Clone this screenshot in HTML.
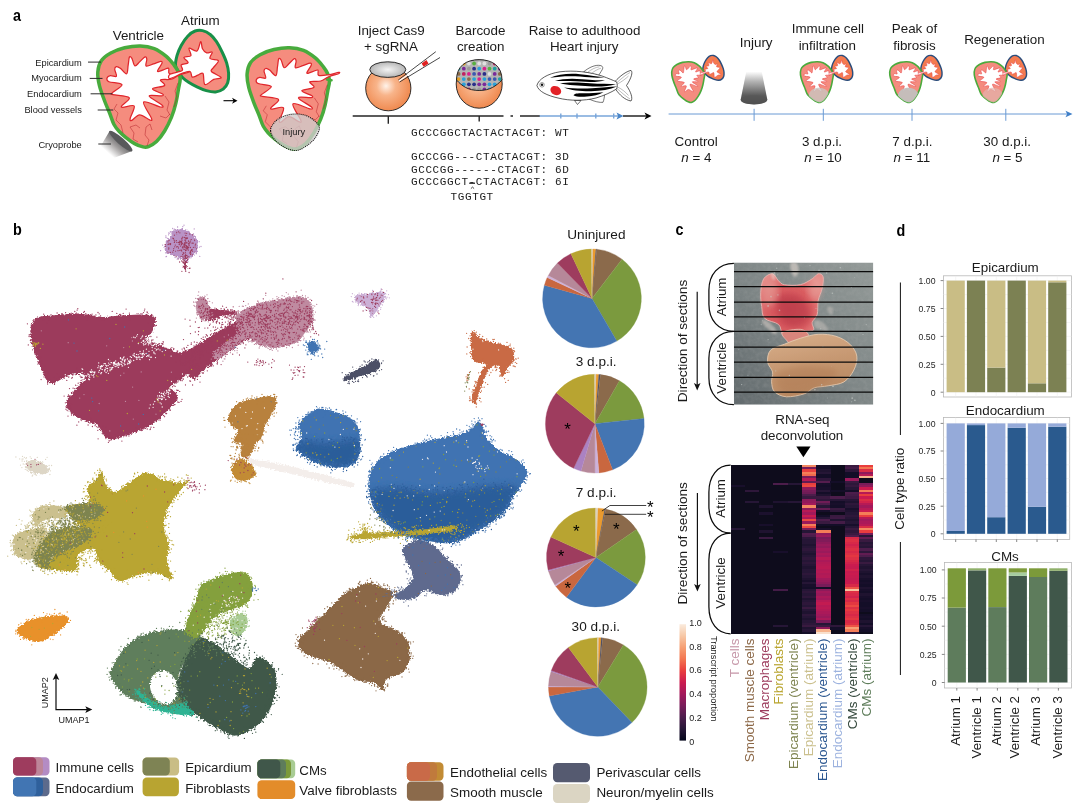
<!DOCTYPE html>
<html lang="en"><head><meta charset="utf-8"><title>Figure 1</title>
<style>
html,body{margin:0;padding:0;background:#fff;}
body{width:1080px;height:807px;overflow:hidden;font-family:"Liberation Sans",sans-serif;}
svg{display:block;will-change:transform;transform:translateZ(0);}
svg text{font-family:"Liberation Sans",sans-serif;fill:#1a1a1a;}
svg text.m{font-family:"Liberation Mono",monospace;}
svg text.b{font-weight:bold;}
</style></head><body>
<svg width="1080" height="807" viewBox="0 0 1080 807">
<rect width="1080" height="807" fill="#ffffff"/>
<!-- 10_a_left.svg -->
<defs>
<linearGradient id="cryo1" gradientUnits="userSpaceOnUse" x1="121.5" y1="140.3" x2="109.5" y2="154"><stop offset="0" stop-color="#626264"/><stop offset="0.45" stop-color="#a29f9f"/><stop offset="1" stop-color="#ffffff"/></linearGradient>
<linearGradient id="cryo2" x1="0" y1="0" x2="0" y2="1"><stop offset="0" stop-color="#ffffff"/><stop offset="0.3" stop-color="#b4b4b4"/><stop offset="0.72" stop-color="#5c5c5c"/><stop offset="1" stop-color="#484848"/></linearGradient>
<radialGradient id="egg" cx="0.45" cy="0.45" r="0.6"><stop offset="0" stop-color="#fff3ea"/><stop offset="0.35" stop-color="#f8b48a"/><stop offset="1" stop-color="#ee8448"/></radialGradient>
<radialGradient id="eggtop" cx="0.5" cy="0.5" r="0.6"><stop offset="0" stop-color="#f4f4f4"/><stop offset="1" stop-color="#a9a9a9"/></radialGradient>
</defs>
<text x="13" y="20.6" font-size="16.5" class="b" style="fill:#000" textLength="8.0" lengthAdjust="spacingAndGlyphs">a</text>
<text x="81.8" y="65.5" font-size="9.3" text-anchor="end">Epicardium</text>
<text x="81.8" y="81.3" font-size="9.3" text-anchor="end">Myocardium</text>
<text x="81.8" y="97.1" font-size="9.3" text-anchor="end">Endocardium</text>
<text x="81.8" y="113.2" font-size="9.3" text-anchor="end">Blood vessels</text>
<text x="81.8" y="147.6" font-size="9.3" text-anchor="end">Cryoprobe</text>
<text x="112.7" y="39.8" font-size="13.4">Ventricle</text>
<text x="181" y="25.3" font-size="13.4">Atrium</text>
<g id="heart1">
<path d="M175.6 65.9C175.1 63 176.1 59.1 177 55.7C177.9 52.3 179.4 48.8 181.2 45.5C183 42.2 185.4 38.6 187.7 36.2C190 33.8 192.6 31.9 195.1 31C197.6 30.1 200 30.1 202.5 30.6C205 31.2 207.7 32.4 210 34.3C212.3 36.1 214.5 38.8 216.5 41.7C218.5 44.7 220.4 48.4 222.1 52C223.8 55.6 225.6 59.5 226.7 63.1C227.8 66.7 228.4 70.1 228.6 73.4C228.8 76.7 228.6 80.1 227.7 82.7C226.8 85.3 225 87.7 223 89.2C221 90.8 218.4 91.8 215.6 92C212.8 92.2 209.4 91.5 206.3 90.6C203.2 89.7 199.9 88.2 197 86.8C194.1 85.4 190.9 83.7 188.6 82.2C186.3 80.7 184.5 79.5 183 78C181.5 76.5 181 75.4 179.8 73.4C178.6 71.4 176.1 68.9 175.6 65.9Z" fill="#f58c7e" stroke="#189048" stroke-width="3"/>
<path d="M101.3 60.7C103.5 57.5 106.9 55.1 110.8 52.9C114.7 50.7 119.8 48.9 124.7 47.7C129.6 46.6 135.4 45.9 140.3 46C145.2 46.1 149.9 46.9 154.2 48.6C158.5 50.3 163 53.6 166.3 56.4C169.6 59.1 172.1 62.5 174.1 65.1C176.1 67.7 177.4 69.7 178.4 72C179.4 74.3 180.2 76.1 180.2 79C180.2 81.9 179.1 85.4 178.4 89.4C177.7 93.4 177 98.6 175.8 103.2C174.7 107.8 173.4 112.5 171.5 117.1C169.6 121.7 167.1 126.9 164.6 131C162.1 135.1 159.2 139 156.5 141.6C153.8 144.2 150.8 145.7 148.5 146.6C146.2 147.5 145.3 147.4 143 146.9C140.7 146.4 137.5 145.2 134.6 143.6C131.7 142 128.3 139.4 125.7 137.3C123.1 135.2 121 133.3 119 131.2C117 129.1 115.6 127.5 114 124.5C112.4 121.5 111.1 116.8 109.6 113C108.1 109.2 106.5 106 104.8 101.5C103.1 97 100.7 90.8 99.5 85.9C98.3 81 97.5 76.2 97.8 72C98.1 67.8 99.1 63.9 101.3 60.7Z" fill="#f58c7e" stroke="#48ab3d" stroke-width="3.5"/>
<path d="M106.9 78.2C107.2 77.2 108.8 75.9 110.4 75.6C112 75.3 115.7 77.3 116.4 76.3C117.1 75.2 114.7 70.9 114.7 69.3C114.7 67.7 115.5 66.9 116.4 66.7C117.3 66.5 118.6 67.1 120.3 68.3C122 69.5 125.3 74.4 126.6 73.8C127.9 73.2 127.7 67.7 128.2 64.9C128.7 62.1 128.8 58.2 129.4 57.1C130 56 131 56.9 131.9 58.4C132.8 59.9 133.6 65.3 134.9 65.9C136.2 66.5 137.9 63.4 139.6 61.9C141.3 60.4 143.9 57.3 145.1 56.9C146.3 56.5 146.6 57.9 146.8 59.4C147 60.9 145 65.2 146.1 65.9C147.2 66.7 151.1 64.7 153.5 63.9C155.9 63.1 159.3 61.5 160.7 61.4C162.1 61.3 162.4 61.8 161.9 63.4C161.4 65 157.2 70.2 157.5 71.3C157.8 72.4 161.6 70.3 163.4 69.8C165.2 69.3 167.6 67.7 168.6 68.3C169.6 68.9 167.6 72.8 169.4 73.6C171.2 74.4 176 73.5 179.3 73C182.6 72.5 187.5 70.8 189.2 70.6C190.8 70.4 190.8 71.3 189.2 72C187.5 72.7 182.3 73.8 179.3 75C176.3 76.2 174.5 78.4 171.4 79.2C168.3 80 161.6 78.9 160.5 79.9C159.4 81 165.9 84 164.6 85.5C163.3 87 152.9 87.5 152.5 88.9C152.1 90.3 160.6 92.7 162.2 93.8C163.8 94.9 164.1 95.4 161.9 95.8C159.7 96.2 149.1 94.6 149.1 96.1C149.1 97.6 160 103.2 161.9 105C163.8 106.8 163.6 107.5 160.5 107C157.4 106.5 145.1 100.1 143.6 102C142.1 103.9 150.5 115.4 151.5 118.4C152.5 121.4 151.6 120.5 149.6 119.9C147.6 119.3 142.6 114.8 139.6 114.9C136.6 115 133.3 119.8 131.7 120.4C130.1 121 129.8 120.8 130.2 118.4C130.6 116 135.4 107.8 134.2 106C133 104.2 124.8 107.4 122.8 107.3C120.8 107.2 120.9 107.1 122 105.5C123.1 103.9 130.7 99.4 129.2 97.6C127.7 95.8 115.7 95.4 112.9 94.6C110.1 93.8 110.9 94.2 112.4 92.6C113.9 90.9 122.6 86.5 122 84.7C121.4 82.9 111.4 82.8 108.9 81.7C106.4 80.6 106.7 79.2 106.9 78.2Z" fill="#fff" stroke="#e0262c" stroke-width="1.25" stroke-linejoin="round"/>
<path d="M200.7 41.6C201.6 41.2 201.5 46.8 202.5 48.7C203.5 50.6 205.1 52.4 206.7 52.9C208.3 53.4 211.8 51.1 212.3 52C212.9 52.9 209 57 210 58.5C211 60 217.9 59.2 218.4 60.8C218.9 62.3 214.4 66 213.2 67.8C212 69.6 210.1 69.9 211.4 71.5C212.7 73.1 220.7 76.2 221.1 77.5C221.5 78.8 216.4 78.2 213.7 79.4C211 80.6 206.7 85.5 204.9 84.5C203.1 83.5 204.2 75 203 73.4C201.8 71.9 199.7 74.6 197.9 75.2C196.1 75.8 193.6 77.7 192.3 77.1C191 76.5 191.7 72.1 190 71.5C188.3 70.9 185.4 72.2 182.1 73.4C178.8 74.6 172 78.3 170 78.5C168 78.7 168 75.6 170 74.3C172 73 180.2 72.1 182.1 70.6C184 69 180.2 66.3 181.2 65C182.2 63.7 187.6 64 188.1 62.7C188.6 61.5 183.4 58.7 183.9 57.5C184.4 56.3 190 57.2 190.9 55.7C191.8 54.2 188.1 49 189.1 48.2C190.1 47.4 195.1 52.1 197 51C198.9 49.9 199.8 42 200.7 41.6Z" fill="#fff" stroke="#e0262c" stroke-width="1.25" stroke-linejoin="round"/>
<path d="M117 104l-3 5 4 4-2 7 5 5 2 8" fill="none" stroke="#b5232a" stroke-width="0.5"/>
<path d="M130 127l4 6-1 6 5 3" fill="none" stroke="#b5232a" stroke-width="0.5"/>
<path d="M130 127l6-2 4 3" fill="none" stroke="#b5232a" stroke-width="0.5"/>
<path d="M146 127l-1 8 4 5-2 6" fill="none" stroke="#b5232a" stroke-width="0.5"/>
<path d="M146 127l4-3 2 6" fill="none" stroke="#b5232a" stroke-width="0.5"/>
<path d="M165 96l4 6-2 8 3 5" fill="none" stroke="#b5232a" stroke-width="0.5"/>
<path d="M178 83l-3 8 2 7-3 9" fill="none" stroke="#b5232a" stroke-width="0.5"/>
<path d="M160 116l6 2 4-4" fill="none" stroke="#b5232a" stroke-width="0.5"/>
</g>
<path d="M109.5 131.2L132.1 151L111.8 158.8L99.8 147.6Z" fill="url(#cryo1)"/><ellipse cx="120.8" cy="141.1" rx="15.2" ry="3.4" transform="rotate(41.2 120.8 141.1)" fill="#58595b"/>
<line x1="88" y1="62.1" x2="101" y2="62.1" stroke="#222" stroke-width="0.95"/>
<line x1="89.7" y1="78.4" x2="102.5" y2="78.4" stroke="#222" stroke-width="0.95"/>
<line x1="90.6" y1="93.8" x2="112.5" y2="93.8" stroke="#222" stroke-width="0.95"/>
<line x1="97.7" y1="110" x2="113.3" y2="110" stroke="#222" stroke-width="0.95"/>
<line x1="98.3" y1="144" x2="111" y2="144" stroke="#222" stroke-width="0.95"/>
<path d="M223.5 100.7H235" stroke="#000" stroke-width="1.1"/><path d="M237.5 100.7l-5.5-3 1.6 3-1.6 3z" fill="#000"/>
<g id="heart2">
<path d="M250.6 62.5C252.8 59.3 256.2 56.9 260.1 54.7C264 52.5 269.1 50.6 274 49.5C278.9 48.4 284.7 47.6 289.6 47.8C294.5 47.9 299.2 48.7 303.5 50.4C307.8 52.1 312.3 55.4 315.6 58.2C318.9 60.9 321.4 64.3 323.4 66.9C325.4 69.5 326.7 71.5 327.7 73.8C328.7 76.1 329.5 77.9 329.5 80.8C329.5 83.7 328.4 87.2 327.7 91.2C327 95.2 326.2 100.4 325.1 105C324 109.6 322.7 114.3 320.8 118.9C318.9 123.5 316.4 128.7 313.9 132.8C311.4 136.9 308.5 140.8 305.8 143.4C303.1 146 300.1 147.5 297.8 148.4C295.6 149.3 294.6 149.2 292.3 148.7C290 148.2 286.8 147 283.9 145.4C281 143.8 277.6 141.2 275 139.1C272.4 137 270.2 135.1 268.3 133C266.4 130.9 264.9 129.3 263.3 126.3C261.7 123.3 260.4 118.6 258.9 114.8C257.4 111 255.8 107.8 254.1 103.3C252.4 98.8 250 92.6 248.8 87.7C247.6 82.8 246.8 78 247.1 73.8C247.4 69.6 248.4 65.7 250.6 62.5Z" fill="#f58c7e" stroke="#48ab3d" stroke-width="3.5"/>
<path d="M327 79.5L331.5 80.2" stroke="#48ab3d" stroke-width="2.6" stroke-linecap="round"/>
<path d="M256.2 80C256.5 79 258.1 77.7 259.7 77.4C261.3 77.1 265 79.1 265.7 78.1C266.4 77 264 72.7 264 71.1C264 69.5 264.8 68.7 265.7 68.5C266.6 68.3 267.9 68.9 269.6 70.1C271.3 71.3 274.6 76.2 275.9 75.6C277.2 75 277 69.5 277.5 66.7C278 63.9 278.1 60 278.7 58.9C279.3 57.8 280.3 58.7 281.2 60.2C282.1 61.7 282.9 67.1 284.2 67.7C285.5 68.3 287.2 65.2 288.9 63.7C290.6 62.2 293.2 59.1 294.4 58.7C295.6 58.3 295.9 59.7 296.1 61.2C296.3 62.7 294.3 67 295.4 67.7C296.5 68.5 300.4 66.5 302.8 65.7C305.2 65 308.6 63.3 310 63.2C311.4 63.1 311.7 63.6 311.2 65.2C310.7 66.9 306.6 72 306.8 73.1C307.1 74.2 310.9 72.1 312.7 71.6C314.6 71.1 316.9 69.5 317.9 70.1C318.9 70.7 316.9 74.6 318.7 75.4C320.5 76.2 325.3 75.3 328.6 74.8C331.9 74.3 336.9 72.6 338.5 72.4C340.1 72.2 340.1 73.1 338.5 73.8C336.9 74.5 331.6 75.6 328.6 76.8C325.6 78 323.8 80.2 320.7 81C317.6 81.8 310.9 80.7 309.8 81.7C308.7 82.8 315.2 85.8 313.9 87.3C312.6 88.8 302.2 89.3 301.8 90.7C301.4 92.1 309.9 94.4 311.5 95.6C313.1 96.8 313.4 97.2 311.2 97.6C309 98 298.4 96.4 298.4 97.9C298.4 99.4 309.3 105 311.2 106.8C313.1 108.6 312.9 109.3 309.8 108.8C306.8 108.3 294.4 101.9 292.9 103.8C291.4 105.7 299.8 117.2 300.8 120.2C301.8 123.2 300.9 122.3 298.9 121.7C296.9 121.1 291.9 116.6 288.9 116.7C285.9 116.8 282.6 121.6 281 122.2C279.4 122.8 279.1 122.6 279.5 120.2C279.9 117.8 284.7 109.7 283.5 107.8C282.3 105.9 274.1 109.2 272.1 109.1C270.1 109 270.2 108.9 271.3 107.3C272.4 105.7 280 101.2 278.5 99.4C277 97.6 265 97.2 262.2 96.4C259.4 95.6 260.2 96 261.7 94.4C263.2 92.8 271.9 88.3 271.3 86.5C270.7 84.7 260.7 84.6 258.2 83.5C255.7 82.4 256 81 256.2 80Z" fill="#fff" stroke="#e0262c" stroke-width="1.25" stroke-linejoin="round"/>
<path d="M117 104l-3 5 4 4-2 7 5 5 2 8" fill="none" stroke="#b5232a" stroke-width="0.5" transform="translate(149.3 1.8)"/>
<path d="M130 127l4 6-1 6 5 3" fill="none" stroke="#b5232a" stroke-width="0.5" transform="translate(149.3 1.8)"/>
<path d="M130 127l6-2 4 3" fill="none" stroke="#b5232a" stroke-width="0.5" transform="translate(149.3 1.8)"/>
<path d="M146 127l-1 8 4 5-2 6" fill="none" stroke="#b5232a" stroke-width="0.5" transform="translate(149.3 1.8)"/>
<path d="M146 127l4-3 2 6" fill="none" stroke="#b5232a" stroke-width="0.5" transform="translate(149.3 1.8)"/>
<path d="M165 96l4 6-2 8 3 5" fill="none" stroke="#b5232a" stroke-width="0.5" transform="translate(149.3 1.8)"/>
<path d="M178 83l-3 8 2 7-3 9" fill="none" stroke="#b5232a" stroke-width="0.5" transform="translate(149.3 1.8)"/>
<path d="M160 116l6 2 4-4" fill="none" stroke="#b5232a" stroke-width="0.5" transform="translate(149.3 1.8)"/>
<path d="M270.6 131C270.3 128.2 271.9 125.6 273.7 123.3C275.5 121 278.1 118.6 281.5 117.1C284.9 115.5 289.8 114.2 293.9 114C298 113.8 302.7 114.3 306.3 115.6C309.9 116.9 313.4 119.7 315.6 121.8C317.8 123.9 319.4 125.4 319.4 128C319.4 130.6 317.5 134.5 315.6 137.3C313.7 140.1 310.9 142.8 307.8 145C304.7 147.2 300.6 149.9 297 150.4C293.4 150.9 289.7 149.8 286.1 148.1C282.5 146.4 277.9 143.2 275.3 140.4C272.7 137.6 270.9 133.8 270.6 131Z" fill="#cfcaca" fill-opacity="0.8" stroke="#111" stroke-width="1.1" stroke-dasharray="1 1"/>
<text x="293.9" y="134.9" font-size="9.3" text-anchor="middle">Injury</text>
</g>

<!-- 20_a_mid.svg -->
<text x="391.2" y="35" font-size="13.4" text-anchor="middle">Inject Cas9</text>
<text x="391" y="50.6" font-size="13.4" text-anchor="middle">+ sgRNA</text>
<text x="480.5" y="35" font-size="13.4" text-anchor="middle">Barcode</text>
<text x="480.7" y="50.6" font-size="13.4" text-anchor="middle">creation</text>
<text x="584.5" y="34.5" font-size="13.4" text-anchor="middle">Raise to adulthood</text>
<text x="584.2" y="50.8" font-size="13.4" text-anchor="middle">Heart injury</text>
<path d="M352.7 116H503.5M388.3 116V123.8M479.2 116V121.5M510.5 116H513M520 116H540M623 116H646" stroke="#262626" stroke-width="1.4" fill="none"/>
<path d="M651.5 116l-7-3.6 1.8 3.6-1.8 3.6z" fill="#000"/>
<path d="M539.5 116H618M560.8 113.5v5M577 113.5v5M595.8 113.5v5M613.7 113.5v5" stroke="#7aa6da" stroke-width="1.4" fill="none"/>
<path d="M623.5 116l-7-3.4 1.6 3.4-1.6 3.4z" fill="#4a86c8"/>
<circle cx="388.3" cy="88.2" r="22.6" fill="url(#egg)" stroke="#1a1a1a" stroke-width="0.9"/>
<ellipse cx="387.8" cy="69.6" rx="18" ry="7.8" fill="url(#eggtop)" stroke="#1a1a1a" stroke-width="0.9"/>
<path d="M398.3 80L435.8 51.7M399.5 82L440 57.5" stroke="#1a1a1a" stroke-width="0.8" fill="none"/>
<path d="M399 81L437.8 54.4" stroke="#fff" stroke-width="1.4" fill="none"/>
<path d="M421.6 63.6l4.8-3.5 2.2 3.3-4.9 3.3z" fill="#e02020"/>
<clipPath id="dome"><path d="M456.5 80 C456.5 66 466 59.7 479.2 59.7 C492.5 59.7 502 66 502 80 C496 86 490 90.5 479.2 90.5 C468 90.5 462 86 456.5 80Z"/></clipPath>
<ellipse cx="479.2" cy="84" rx="23" ry="24.2" fill="url(#egg)" stroke="#1a1a1a" stroke-width="0.9"/>
<g clip-path="url(#dome)"><rect x="455" y="58" width="50" height="34" fill="#b4b4b4"/>
<circle cx="458.6" cy="63.5" r="1.9" fill="#3a58b0"/><circle cx="463.8" cy="63.5" r="1.9" fill="#e8a020"/><circle cx="468.9" cy="63.5" r="1.9" fill="#e0e0e0"/><circle cx="474.1" cy="63.5" r="1.9" fill="#58b040"/><circle cx="479.2" cy="63.5" r="1.9" fill="#e0e0e0"/><circle cx="484.4" cy="63.5" r="1.9" fill="#e0e0e0"/><circle cx="489.5" cy="63.5" r="1.9" fill="#9a9a9a"/><circle cx="494.7" cy="63.5" r="1.9" fill="#c02060"/><circle cx="499.8" cy="63.5" r="1.9" fill="#2a2f8a"/><circle cx="458.6" cy="68.7" r="1.9" fill="#20a0a0"/><circle cx="463.8" cy="68.7" r="1.9" fill="#7a2a9a"/><circle cx="468.9" cy="68.7" r="1.9" fill="#9a9a9a"/><circle cx="474.1" cy="68.7" r="1.9" fill="#2a2f8a"/><circle cx="479.2" cy="68.7" r="1.9" fill="#2aa0d8"/><circle cx="484.4" cy="68.7" r="1.9" fill="#d8208a"/><circle cx="489.5" cy="68.7" r="1.9" fill="#58b040"/><circle cx="494.7" cy="68.7" r="1.9" fill="#20a0a0"/><circle cx="499.8" cy="68.7" r="1.9" fill="#7a2a9a"/><circle cx="458.6" cy="73.9" r="1.9" fill="#8a6a48"/><circle cx="463.8" cy="73.9" r="1.9" fill="#c02060"/><circle cx="468.9" cy="73.9" r="1.9" fill="#d8208a"/><circle cx="474.1" cy="73.9" r="1.9" fill="#3a58b0"/><circle cx="479.2" cy="73.9" r="1.9" fill="#7a2a9a"/><circle cx="484.4" cy="73.9" r="1.9" fill="#2a2f8a"/><circle cx="489.5" cy="73.9" r="1.9" fill="#e0e0e0"/><circle cx="494.7" cy="73.9" r="1.9" fill="#7a2a9a"/><circle cx="499.8" cy="73.9" r="1.9" fill="#8a6a48"/><circle cx="458.6" cy="79.1" r="1.9" fill="#e8a020"/><circle cx="463.8" cy="79.1" r="1.9" fill="#2aa0d8"/><circle cx="468.9" cy="79.1" r="1.9" fill="#8a6a48"/><circle cx="474.1" cy="79.1" r="1.9" fill="#2aa0d8"/><circle cx="479.2" cy="79.1" r="1.9" fill="#d8208a"/><circle cx="484.4" cy="79.1" r="1.9" fill="#2aa0d8"/><circle cx="489.5" cy="79.1" r="1.9" fill="#3a58b0"/><circle cx="494.7" cy="79.1" r="1.9" fill="#3a58b0"/><circle cx="499.8" cy="79.1" r="1.9" fill="#20a0a0"/><circle cx="458.6" cy="84.3" r="1.9" fill="#2aa0d8"/><circle cx="463.8" cy="84.3" r="1.9" fill="#2aa0d8"/><circle cx="468.9" cy="84.3" r="1.9" fill="#2a2f8a"/><circle cx="474.1" cy="84.3" r="1.9" fill="#2a2f8a"/><circle cx="479.2" cy="84.3" r="1.9" fill="#7a2a9a"/><circle cx="484.4" cy="84.3" r="1.9" fill="#7a2a9a"/><circle cx="489.5" cy="84.3" r="1.9" fill="#2aa0d8"/><circle cx="494.7" cy="84.3" r="1.9" fill="#2aa0d8"/><circle cx="499.8" cy="84.3" r="1.9" fill="#e8a020"/><circle cx="458.6" cy="89.5" r="1.9" fill="#58b040"/><circle cx="463.8" cy="89.5" r="1.9" fill="#7a2a9a"/><circle cx="468.9" cy="89.5" r="1.9" fill="#c02060"/><circle cx="474.1" cy="89.5" r="1.9" fill="#9a9a9a"/><circle cx="479.2" cy="89.5" r="1.9" fill="#9a9a9a"/><circle cx="484.4" cy="89.5" r="1.9" fill="#7a2a9a"/><circle cx="489.5" cy="89.5" r="1.9" fill="#2aa0d8"/><circle cx="494.7" cy="89.5" r="1.9" fill="#e0e0e0"/><circle cx="499.8" cy="89.5" r="1.9" fill="#7a2a9a"/></g>
<path d="M456.5 80 C462 86 468 90.5 479.2 90.5 C490 90.5 496 86 502 80" fill="none" stroke="#1a1a1a" stroke-width="0.9"/>
<path d="M456.5 80 C456.5 66 466 59.7 479.2 59.7 C492.5 59.7 502 66 502 80" fill="none" stroke="#1a1a1a" stroke-width="0.9"/>
<text x="411" y="136" font-size="11" class="m" letter-spacing="0.6">GCCCGGCTACTACTACGT: WT</text>
<text x="411" y="160" font-size="11" class="m" letter-spacing="0.6">GCCCGG---CTACTACGT: 3D</text>
<text x="411" y="172.6" font-size="11" class="m" letter-spacing="0.6">GCCCGG------CTACGT: 6D</text>
<text x="411" y="185.2" font-size="11" class="m" letter-spacing="0.6">GCCCGGCT-CTACTACGT: 6I</text>
<text x="450.6" y="199.8" font-size="11" class="m" letter-spacing="0.6">TGGTGT</text>
<path d="M470.9 188.6l1.6-1.5 1.6 1.5" stroke="#111" stroke-width="0.8" fill="none"/><path d="M469.2 183.2H475" stroke="#111" stroke-width="1.2"/>
<g id="fish" stroke-linejoin="round">
<path d="M615 81.5 C620 76 626 71.5 631 70.4 C633 72 631.5 78 626.5 85.5 C631 92 633 98.5 631 101 C625 100 619.5 95 615.5 89Z" fill="#fff" stroke="#1a1a1a" stroke-width="0.7"/>
<path d="M617 82.5C622 78 627 74 630 72.5M617.5 84C622 81.5 626 78.5 628.5 76M617.5 87C622 89 626 92.5 628.5 95.5M617 88.5C621.5 92.5 626.5 97 630 99" stroke="#555" stroke-width="0.4" fill="none"/>
<path d="M583.5 72 C588 68 594 65.2 598.5 65.3 C603 65.5 603.5 67.5 602 70 C600.5 72.5 599.5 74 598.5 75.5Z" fill="#fff" stroke="#1a1a1a" stroke-width="0.6"/>
<path d="M587.5 72.5C591 69.5 596 67 599.5 66.8M591.5 73.5C594.5 71 598 69 601 68.2" stroke="#555" stroke-width="0.4" fill="none"/>
<path d="M589 99 C594 101.5 600 102.8 603 102.3 C604 100 604.5 96.5 604.5 94Z" fill="#fff" stroke="#1a1a1a" stroke-width="0.6"/>
<path d="M574.5 100.5 L577.5 104.5 L581 100.5Z" fill="#fff" stroke="#1a1a1a" stroke-width="0.6"/>
<path d="M536.9 85.5 C538.5 79 548 73.5 560 71.8 C574 70 590 72 602 76 C608 78.2 613 80.3 616.5 81.8 C617.5 84 617.5 87 616.5 89 C611 92.5 604 95.5 596 98 C584 101 570 101 558 98 C547 95.5 538.5 91.5 536.9 85.5Z" fill="#fff" stroke="#1a1a1a" stroke-width="0.7"/>
<path d="M550 77.8 C558 74 570 73.2 580 74.2 C590 75.2 598 76.5 604.5 77.3 C598 78.2 590 77.5 580 76.6 C570 75.8 559 76.3 550 77.8Z" fill="#000"/>
<path d="M555 81 C562 78.6 572 78.2 582 79.2 C592 80.2 600 80.2 605 80.2 C600 82 591 82.4 581 81.6 C572 80.9 562 81 555 81Z" fill="#000"/>
<path d="M560 83.5 C568 82 580 82.5 590 83.3 C600 84 609 83.8 616 84.2 C609 86.2 599 87 589 86.3 C579 85.7 568 85.3 560 83.5Z" fill="#000"/>
<path d="M564 87.5 C572 88.5 582 88.8 592 88.3 C602 87.8 610 87 617 86.6 C610 89.8 601 91.2 591 91.3 C581 91.4 571 90.5 564 87.5Z" fill="#000"/>
<path d="M573.5 95.2 C575 92.5 582 93.3 589 93.2 C595 93.1 600 92.5 603.5 92.3 C599 95 593 96.2 587 96.6 C581 97 576 97 573.5 95.2Z" fill="#000"/>
<ellipse cx="555.8" cy="90.6" rx="5.6" ry="4.4" transform="rotate(25 555.8 90.6)" fill="#e32227"/>
<circle cx="542" cy="84.8" r="2.3" fill="#fff" stroke="#444" stroke-width="0.5"/><circle cx="542" cy="84.8" r="1.2" fill="#111"/>
</g>

<!-- 30_a_right.svg -->
<text x="756.2" y="47.2" font-size="13.4" text-anchor="middle">Injury</text>
<text x="827.8" y="33" font-size="13.4" text-anchor="middle">Immune cell</text>
<text x="827.3" y="49.6" font-size="13.4" text-anchor="middle">infiltration</text>
<text x="914.5" y="33" font-size="13.4" text-anchor="middle">Peak of</text>
<text x="914.4" y="49.6" font-size="13.4" text-anchor="middle">fibrosis</text>
<text x="1004.4" y="44.3" font-size="13.4" text-anchor="middle">Regeneration</text>
<text x="696.2" y="146" font-size="13.4" text-anchor="middle">Control</text>
<text x="822" y="146" font-size="13.4" text-anchor="middle">3 d.p.i.</text>
<text x="912.4" y="146" font-size="13.4" text-anchor="middle">7 d.p.i.</text>
<text x="1007.2" y="146" font-size="13.4" text-anchor="middle">30 d.p.i.</text>
<text x="696.4" y="162.2" font-size="13.4" text-anchor="middle"><tspan font-style="italic">n</tspan> = 4</text>
<text x="823" y="162.2" font-size="13.4" text-anchor="middle"><tspan font-style="italic">n</tspan> = 10</text>
<text x="911.8" y="162.2" font-size="13.4" text-anchor="middle"><tspan font-style="italic">n</tspan> = 11</text>
<text x="1007.5" y="162.2" font-size="13.4" text-anchor="middle"><tspan font-style="italic">n</tspan> = 5</text>
<path d="M668.6 114H1067M754.1 108.8V120.8M823.3 108.8V120.8M912 108.8V120.8M1005.8 108.8V120.8" stroke="#6a9ad4" stroke-width="1" fill="none"/>
<path d="M1072.5 114l-7-3.3 1.6 3.3-1.6 3.3z" fill="#3f7fc8"/>
<path d="M746.3 71.5H761.7L767.3 99.5C767.3 106 740.7 106 740.7 99.5Z" fill="url(#cryo2)"/>
<ellipse cx="754" cy="99.8" rx="13.3" ry="4.4" fill="#555" fill-opacity="0.55"/>
<defs><g id="sh"><g transform="translate(671.7 61.7) scale(0.4 0.403) translate(-97.8 -46)"><path d="M175.6 65.9C175.1 63 176.1 59.1 177 55.7C177.9 52.3 179.4 48.8 181.2 45.5C183 42.2 185.4 38.6 187.7 36.2C190 33.8 192.6 31.9 195.1 31C197.6 30.1 200 30.1 202.5 30.6C205 31.2 207.7 32.4 210 34.3C212.3 36.1 214.5 38.8 216.5 41.7C218.5 44.7 220.4 48.4 222.1 52C223.8 55.6 225.6 59.5 226.7 63.1C227.8 66.7 228.4 70.1 228.6 73.4C228.8 76.7 228.6 80.1 227.7 82.7C226.8 85.3 225 87.7 223 89.2C221 90.8 218.4 91.8 215.6 92C212.8 92.2 209.4 91.5 206.3 90.6C203.2 89.7 199.9 88.2 197 86.8C194.1 85.4 190.9 83.7 188.6 82.2C186.3 80.7 184.5 79.5 183 78C181.5 76.5 181 75.4 179.8 73.4C178.6 71.4 176.1 68.9 175.6 65.9Z" fill="#f47b50" stroke="#2a4d7c" stroke-width="3.6"/><path d="M101.3 60.7C103.5 57.5 106.9 55.1 110.8 52.9C114.7 50.7 119.8 48.9 124.7 47.7C129.6 46.6 135.4 45.9 140.3 46C145.2 46.1 149.9 46.9 154.2 48.6C158.5 50.3 163 53.6 166.3 56.4C169.6 59.1 172.1 62.5 174.1 65.1C176.1 67.7 177.4 69.7 178.4 72C179.4 74.3 180.2 76.1 180.2 79C180.2 81.9 179.1 85.4 178.4 89.4C177.7 93.4 177 98.6 175.8 103.2C174.7 107.8 173.4 112.5 171.5 117.1C169.6 121.7 167.1 126.9 164.6 131C162.1 135.1 159.2 139 156.5 141.6C153.8 144.2 150.8 145.7 148.5 146.6C146.2 147.5 145.3 147.4 143 146.9C140.7 146.4 137.5 145.2 134.6 143.6C131.7 142 128.3 139.4 125.7 137.3C123.1 135.2 121 133.3 119 131.2C117 129.1 115.6 127.5 114 124.5C112.4 121.5 111.1 116.8 109.6 113C108.1 109.2 106.5 106 104.8 101.5C103.1 97 100.7 90.8 99.5 85.9C98.3 81 97.5 76.2 97.8 72C98.1 67.8 99.1 63.9 101.3 60.7Z" fill="#f48c7f" stroke="#4aaa3c" stroke-width="4"/><path d="M106.9 78.2C107.2 77.2 108.8 75.9 110.4 75.6C112 75.3 115.7 77.3 116.4 76.3C117.1 75.2 114.7 70.9 114.7 69.3C114.7 67.7 115.5 66.9 116.4 66.7C117.3 66.5 118.6 67.1 120.3 68.3C122 69.5 125.3 74.4 126.6 73.8C127.9 73.2 127.7 67.7 128.2 64.9C128.7 62.1 128.8 58.2 129.4 57.1C130 56 131 56.9 131.9 58.4C132.8 59.9 133.6 65.3 134.9 65.9C136.2 66.5 137.9 63.4 139.6 61.9C141.3 60.4 143.9 57.3 145.1 56.9C146.3 56.5 146.6 57.9 146.8 59.4C147 60.9 145 65.2 146.1 65.9C147.2 66.7 151.1 64.7 153.5 63.9C155.9 63.1 159.3 61.5 160.7 61.4C162.1 61.3 162.4 61.8 161.9 63.4C161.4 65 157.2 70.2 157.5 71.3C157.8 72.4 161.6 70.3 163.4 69.8C165.2 69.3 167.6 67.7 168.6 68.3C169.6 68.9 167.6 72.8 169.4 73.6C171.2 74.4 176 73.5 179.3 73C182.6 72.5 187.5 70.8 189.2 70.6C190.8 70.4 190.8 71.3 189.2 72C187.5 72.7 182.3 73.8 179.3 75C176.3 76.2 174.5 78.4 171.4 79.2C168.3 80 161.6 78.9 160.5 79.9C159.4 81 165.9 84 164.6 85.5C163.3 87 152.9 87.5 152.5 88.9C152.1 90.3 160.6 92.7 162.2 93.8C163.8 94.9 164.1 95.4 161.9 95.8C159.7 96.2 149.1 94.6 149.1 96.1C149.1 97.6 160 103.2 161.9 105C163.8 106.8 163.6 107.5 160.5 107C157.4 106.5 145.1 100.1 143.6 102C142.1 103.9 150.5 115.4 151.5 118.4C152.5 121.4 151.6 120.5 149.6 119.9C147.6 119.3 142.6 114.8 139.6 114.9C136.6 115 133.3 119.8 131.7 120.4C130.1 121 129.8 120.8 130.2 118.4C130.6 116 135.4 107.8 134.2 106C133 104.2 124.8 107.4 122.8 107.3C120.8 107.2 120.9 107.1 122 105.5C123.1 103.9 130.7 99.4 129.2 97.6C127.7 95.8 115.7 95.4 112.9 94.6C110.1 93.8 110.9 94.2 112.4 92.6C113.9 90.9 122.6 86.5 122 84.7C121.4 82.9 111.4 82.8 108.9 81.7C106.4 80.6 106.7 79.2 106.9 78.2Z" fill="#fff" stroke="#e83a40" stroke-width="1.3"/><path d="M200.7 41.6C201.6 41.2 201.5 46.8 202.5 48.7C203.5 50.6 205.1 52.4 206.7 52.9C208.3 53.4 211.8 51.1 212.3 52C212.9 52.9 209 57 210 58.5C211 60 217.9 59.2 218.4 60.8C218.9 62.3 214.4 66 213.2 67.8C212 69.6 210.1 69.9 211.4 71.5C212.7 73.1 220.7 76.2 221.1 77.5C221.5 78.8 216.4 78.2 213.7 79.4C211 80.6 206.7 85.5 204.9 84.5C203.1 83.5 204.2 75 203 73.4C201.8 71.9 199.7 74.6 197.9 75.2C196.1 75.8 193.6 77.7 192.3 77.1C191 76.5 191.7 72.1 190 71.5C188.3 70.9 185.4 72.2 182.1 73.4C178.8 74.6 172 78.3 170 78.5C168 78.7 168 75.6 170 74.3C172 73 180.2 72.1 182.1 70.6C184 69 180.2 66.3 181.2 65C182.2 63.7 187.6 64 188.1 62.7C188.6 61.5 183.4 58.7 183.9 57.5C184.4 56.3 190 57.2 190.9 55.7C191.8 54.2 188.1 49 189.1 48.2C190.1 47.4 195.1 52.1 197 51C198.9 49.9 199.8 42 200.7 41.6Z" fill="#fff" stroke="#e83a40" stroke-width="1.3"/></g></g><clipPath id="vclip"><path d="M101.3 60.7C103.5 57.5 106.9 55.1 110.8 52.9C114.7 50.7 119.8 48.9 124.7 47.7C129.6 46.6 135.4 45.9 140.3 46C145.2 46.1 149.9 46.9 154.2 48.6C158.5 50.3 163 53.6 166.3 56.4C169.6 59.1 172.1 62.5 174.1 65.1C176.1 67.7 177.4 69.7 178.4 72C179.4 74.3 180.2 76.1 180.2 79C180.2 81.9 179.1 85.4 178.4 89.4C177.7 93.4 177 98.6 175.8 103.2C174.7 107.8 173.4 112.5 171.5 117.1C169.6 121.7 167.1 126.9 164.6 131C162.1 135.1 159.2 139 156.5 141.6C153.8 144.2 150.8 145.7 148.5 146.6C146.2 147.5 145.3 147.4 143 146.9C140.7 146.4 137.5 145.2 134.6 143.6C131.7 142 128.3 139.4 125.7 137.3C123.1 135.2 121 133.3 119 131.2C117 129.1 115.6 127.5 114 124.5C112.4 121.5 111.1 116.8 109.6 113C108.1 109.2 106.5 106 104.8 101.5C103.1 97 100.7 90.8 99.5 85.9C98.3 81 97.5 76.2 97.8 72C98.1 67.8 99.1 63.9 101.3 60.7Z" transform="translate(671.7 61.7) scale(0.4 0.403) translate(-97.8 -46)"/></clipPath></defs>
<g transform="translate(0 0)"><use href="#sh"/></g>
<g transform="translate(128.7 0)"><use href="#sh"/><path d="M680 95C680.2 93.4 681.3 91.6 682.5 90.5C683.7 89.4 685.3 88.7 687 88.3C688.7 87.9 690.8 87.7 692.5 88C694.2 88.3 696.2 88.9 697.5 90C698.8 91.1 700.1 92.8 700.5 94.5C700.9 96.2 700.8 98.4 700 100C699.2 101.6 697.5 103.2 696 104C694.5 104.8 692.6 105 690.8 105C689 105 686.6 104.8 685 104C683.4 103.2 681.8 101.5 681 100C680.2 98.5 679.8 96.6 680 95Z" fill="#c9c6c0" fill-opacity="0.8" clip-path="url(#vclip)"/></g>
<g transform="translate(218 0)"><use href="#sh"/><path d="M680 95C680.2 93.4 681.3 91.6 682.5 90.5C683.7 89.4 685.3 88.7 687 88.3C688.7 87.9 690.8 87.7 692.5 88C694.2 88.3 696.2 88.9 697.5 90C698.8 91.1 700.1 92.8 700.5 94.5C700.9 96.2 700.8 98.4 700 100C699.2 101.6 697.5 103.2 696 104C694.5 104.8 692.6 105 690.8 105C689 105 686.6 104.8 685 104C683.4 103.2 681.8 101.5 681 100C680.2 98.5 679.8 96.6 680 95Z" fill="#c2c0be" fill-opacity="0.95" clip-path="url(#vclip)"/></g>
<g transform="translate(302.5 0)"><use href="#sh"/><path d="M680 95C680.2 93.4 681.3 91.6 682.5 90.5C683.7 89.4 685.3 88.7 687 88.3C688.7 87.9 690.8 87.7 692.5 88C694.2 88.3 696.2 88.9 697.5 90C698.8 91.1 700.1 92.8 700.5 94.5C700.9 96.2 700.8 98.4 700 100C699.2 101.6 697.5 103.2 696 104C694.5 104.8 692.6 105 690.8 105C689 105 686.6 104.8 685 104C683.4 103.2 681.8 101.5 681 100C680.2 98.5 679.8 96.6 680 95Z" fill="#e2b4ac" fill-opacity="0.7" clip-path="url(#vclip)"/></g>

<!-- 40_b_umap.svg -->
<text x="13" y="235" font-size="16.5" class="b" style="fill:#000" textLength="8.8" lengthAdjust="spacingAndGlyphs">b</text>
<defs><filter id="rough" x="-5%" y="-5%" width="110%" height="110%"><feTurbulence type="fractalNoise" baseFrequency="0.55" numOctaves="2" seed="3" result="n"/><feDisplacementMap in="SourceGraphic" in2="n" scale="4.5" xChannelSelector="R" yChannelSelector="G"/></filter>
<filter id="bl3" x="-20%" y="-20%" width="140%" height="140%"><feGaussianBlur stdDeviation="3.5"/></filter>
<filter id="rough2" x="-5%" y="-5%" width="110%" height="110%"><feTurbulence type="fractalNoise" baseFrequency="0.8" numOctaves="2" seed="8" result="n"/><feDisplacementMap in="SourceGraphic" in2="n" scale="7" xChannelSelector="R" yChannelSelector="G"/></filter></defs>
<g id="umap" filter="url(#rough)">
<path d="M35 319C39.3 315.2 49.5 315.9 57 315C64.5 314.1 72.5 313.2 80 313.5C87.5 313.8 94.2 316.8 102 317C109.8 317.2 118.3 315.2 127 315C135.7 314.8 149.7 313.5 154 316C158.3 318.5 154.3 326 153 330C151.7 334 144.8 337.5 146 340C147.2 342.5 155 343 160 345C165 347 170.7 350 176 352C181.3 354 188.7 354.8 192 357C195.3 359.2 197.3 361.7 196 365C194.7 368.3 188.2 373.3 184 377C179.8 380.7 172 383.7 171 387C170 390.3 178.8 392.8 178 397C177.2 401.2 170.5 407.3 166 412C161.5 416.7 157.3 421.2 151 425C144.7 428.8 135.2 432.7 128 435C120.8 437.3 113.2 440.7 108 439C102.8 437.3 102 428.5 97 425C92 421.5 83.2 421.3 78 418C72.8 414.7 66.7 409.5 66 405C65.3 400.5 70.7 395.8 74 391C77.3 386.2 86.7 378.7 86 376C85.3 373.3 76 373.8 70 375C64 376.2 55.2 385 50 383C44.8 381 42.2 370.5 39 363C35.8 355.5 31.7 345.3 31 338C30.3 330.7 30.7 322.8 35 319Z" fill="#9c3b5c"/>
<path d="M180 356C180.7 350.7 190.3 349.7 196 346C201.7 342.3 208 337.7 214 334C220 330.3 226.3 326.7 232 324C237.7 321.3 242.7 319.3 248 318C253.3 316.7 260.7 315 264 316C267.3 317 269.3 321 268 324C266.7 327 260.7 330.7 256 334C251.3 337.3 245.7 340.3 240 344C234.3 347.7 227.7 352 222 356C216.3 360 211 364.3 206 368C201 371.7 196.3 380 192 378C187.7 376 179.3 361.3 180 356Z" fill="#9c3b5c"/>
<path d="M208 309C211 308.3 217.3 309.7 222 310C226.7 310.3 233.7 310.2 236 311C238.3 311.8 238.3 314.2 236 315C233.7 315.8 226.5 315.2 222 316C217.5 316.8 212 320.3 209 320C206 319.7 204.2 315.8 204 314C203.8 312.2 205 309.7 208 309Z" fill="#9c3b5c"/>
<path d="M240 312C243.8 309.2 251.3 306.2 258 304C264.7 301.8 272.8 300.2 280 299C287.2 297.8 295.8 295.7 301 296.5C306.2 297.3 309 300.1 311 304C313 307.9 314.2 315 313 320C311.8 325 306.7 330.3 304 334C301.3 337.7 301.5 339.7 297 342C292.5 344.3 283.2 347.5 277 348C270.8 348.5 265 346.7 260 345C255 343.3 251.5 337.5 247 338C242.5 338.5 237.7 344.5 233 348C228.3 351.5 222.3 358 219 359C215.7 360 211.7 356.8 213 354C214.3 351.2 222.8 345.8 227 342C231.2 338.2 236.7 334.5 238 331C239.3 327.5 234.7 324.2 235 321C235.3 317.8 236.2 314.8 240 312Z" fill="#bf8aa0"/>
<path d="M197 300C198 297.3 201.2 296.5 203 297C204.8 297.5 206.8 299.7 208 303C209.2 306.3 210.7 314.2 210 317C209.3 319.8 206.2 320.7 204 320C201.8 319.3 198.2 316.3 197 313C195.8 309.7 196 302.7 197 300Z" fill="#bf8aa0"/>
<path d="M173 231C175.7 229.8 182.2 228.2 186 229.5C189.8 230.8 194.1 235.8 196 239C197.9 242.2 198.2 246 197.5 249C196.8 252 193.9 255.3 192 257C190.1 258.7 188 258.8 186 259C184 259.2 182 258.5 180 258C178 257.5 176.3 257 174 256C171.7 255 167.5 254 166 252C164.5 250 164.3 246.5 165 244C165.7 241.5 168.7 239.2 170 237C171.3 234.8 170.3 232.2 173 231Z" fill="#b993c6"/>
<path d="M183 256C183.6 255.2 186.4 255 187 257C187.6 259 186.9 265.8 186.5 268C186.1 270.2 185 271 184.5 270C184 269 183.8 264.3 183.5 262C183.2 259.7 182.4 256.8 183 256Z" fill="#9c3b5c"/>
<path d="M355 296C357 294.3 365.2 293.7 370 293C374.8 292.3 381.7 290.8 384 292C386.3 293.2 385 297.2 384 300C383 302.8 380.2 306.2 378 309C375.8 311.8 372.7 317 371 317C369.3 317 370.2 311.3 368 309C365.8 306.7 360.2 305.2 358 303C355.8 300.8 353 297.7 355 296Z" fill="#cbb0d6"/>
<path d="M308 344C308.7 342.3 312.3 341.5 314 342C315.7 342.5 317.7 345.3 318 347C318.3 348.7 317.3 351.2 316 352C314.7 352.8 311.3 353.3 310 352C308.7 350.7 307.3 345.7 308 344Z" fill="#3f73b2"/>
<path d="M344 378C345.2 376.3 350.3 373.2 354 371C357.7 368.8 362.2 366.8 366 365C369.8 363.2 374.7 359.7 377 360C379.3 360.3 381 364.8 380 367C379 369.2 374.7 371.3 371 373C367.3 374.7 362 375.7 358 377C354 378.3 349.3 380.8 347 381C344.7 381.2 342.8 379.7 344 378Z" fill="#4c4f66"/>
<path d="M472 332C473.5 330.5 476 336.2 480 338C484 339.8 490.8 341.3 496 343C501.2 344.7 508 345.3 511 348C514 350.7 514.7 355.5 514 359C513.3 362.5 509 366 507 369C505 372 503.5 377.7 502 377C500.5 376.3 500.2 366.3 498 365C495.8 363.7 491.3 366.5 489 369C486.7 371.5 485.7 376.2 484 380C482.3 383.8 480.5 388 479 392C477.5 396 476.2 403.2 475 404C473.8 404.8 471.7 400.3 472 397C472.3 393.7 475.5 388.2 477 384C478.5 379.8 479.5 375.3 481 372C482.5 368.7 487.2 365.8 486 364C484.8 362.2 476.5 363.8 474 361C471.5 358.2 471.3 351.8 471 347C470.7 342.2 470.5 333.5 472 332Z" fill="#c96b44"/>
<path d="M228 418C229 414.8 231.5 408.2 236 405C240.5 401.8 248.5 399.8 255 398.5C261.5 397.2 271.8 395.1 275 397C278.2 398.9 275.5 405.7 274 410C272.5 414.3 268 418.7 266 423C264 427.3 263.8 432.2 262 436C260.2 439.8 257.2 442.7 255 446C252.8 449.3 251.3 454.3 249 456C246.7 457.7 242.2 458 241 456C239.8 454 243.2 446.5 242 444C240.8 441.5 234.7 443.2 234 441C233.3 438.8 238.7 433.8 238 431C237.3 428.2 231.7 426.2 230 424C228.3 421.8 227 421.2 228 418Z" fill="#b8813c"/>
<path d="M232 468C232.8 464.8 237 459.7 240 459C243 458.3 247.3 461.5 250 464C252.7 466.5 256 471.5 256 474C256 476.5 252.3 477.8 250 479C247.7 480.2 244.5 481.2 242 481C239.5 480.8 236.7 480.2 235 478C233.3 475.8 231.2 471.2 232 468Z" fill="#c28b34"/>
<path d="M252 459C256.7 459 270.3 462 280 464C289.7 466 300 468.5 310 471C320 473.5 332.8 477 340 479C347.2 481 351 481.7 353 483C355 484.3 355.8 487 352 487C348.2 487 338.7 484.8 330 483C321.3 481.2 310 478.3 300 476C290 473.7 278 471 270 469C262 467 255 465.7 252 464C249 462.3 247.3 459 252 459Z" fill="#f4eeeb"/>
<path d="M299 424C300.2 420.2 305.5 416.6 309 414C312.5 411.4 314.7 408.5 320 408.5C325.3 408.5 335 411.6 341 414C347 416.4 352.8 418.7 356 423C359.2 427.3 359.7 434 360 440C360.3 446 360.3 454.5 358 459C355.7 463.5 351.5 465.8 346 467C340.5 468.2 331.2 467.3 325 466C318.8 464.7 313.8 461.8 309 459C304.2 456.2 297.2 452.7 296 449C294.8 445.3 301.5 441.2 302 437C302.5 432.8 297.8 427.8 299 424Z" fill="#3f73b2"/>
<clipPath id="cb1"><path d="M299 424C300.2 420.2 305.5 416.6 309 414C312.5 411.4 314.7 408.5 320 408.5C325.3 408.5 335 411.6 341 414C347 416.4 352.8 418.7 356 423C359.2 427.3 359.7 434 360 440C360.3 446 360.3 454.5 358 459C355.7 463.5 351.5 465.8 346 467C340.5 468.2 331.2 467.3 325 466C318.8 464.7 313.8 461.8 309 459C304.2 456.2 297.2 452.7 296 449C294.8 445.3 301.5 441.2 302 437C302.5 432.8 297.8 427.8 299 424Z"/></clipPath><g clip-path="url(#cb1)"><path d="M303 441C307.8 440 318 443 325 443C332 443 339.2 441.5 345 441C350.8 440.5 357.8 437 360 440C362.2 443 360.3 454.5 358 459C355.7 463.5 351.5 465.8 346 467C340.5 468.2 331.2 467.3 325 466C318.8 464.7 313.8 461.8 309 459C304.2 456.2 297 452 296 449C295 446 298.2 442 303 441Z" fill="#2c5d9a" filter="url(#bl3)"/></g>
<path d="M479 422C480.8 422.7 482.7 428.2 484 431C485.3 433.8 484.5 435.8 487 439C489.5 442.2 493.5 446.2 499 450C504.5 453.8 515.3 457.8 520 462C524.7 466.2 527.8 469.7 527 475C526.2 480.3 518.5 488.2 515 494C511.5 499.8 510.8 504.7 506 510C501.2 515.3 494.3 520.7 486 526C477.7 531.3 465.5 539.5 456 542C446.5 544.5 438.3 542.5 429 541C419.7 539.5 408.5 537.5 400 533C391.5 528.5 383.2 521.2 378 514C372.8 506.8 370 497.5 369 490C368 482.5 368.7 475.2 372 469C375.3 462.8 381.5 457.2 389 453C396.5 448.8 407.8 446.1 417 443.5C426.2 440.9 436 439.2 444 437.5C452 435.8 460.2 434.8 465 433C469.8 431.2 470.7 428.8 473 427C475.3 425.2 477.2 421.3 479 422Z" fill="#3f73b2"/>
<clipPath id="cb2"><path d="M479 422C480.8 422.7 482.7 428.2 484 431C485.3 433.8 484.5 435.8 487 439C489.5 442.2 493.5 446.2 499 450C504.5 453.8 515.3 457.8 520 462C524.7 466.2 527.8 469.7 527 475C526.2 480.3 518.5 488.2 515 494C511.5 499.8 510.8 504.7 506 510C501.2 515.3 494.3 520.7 486 526C477.7 531.3 465.5 539.5 456 542C446.5 544.5 438.3 542.5 429 541C419.7 539.5 408.5 537.5 400 533C391.5 528.5 383.2 521.2 378 514C372.8 506.8 370 497.5 369 490C368 482.5 368.7 475.2 372 469C375.3 462.8 381.5 457.2 389 453C396.5 448.8 407.8 446.1 417 443.5C426.2 440.9 436 439.2 444 437.5C452 435.8 460.2 434.8 465 433C469.8 431.2 470.7 428.8 473 427C475.3 425.2 477.2 421.3 479 422Z"/></clipPath><g clip-path="url(#cb2)"><path d="M370 492C373.7 487.7 390 488 400 488C410 488 420 491.7 430 492C440 492.3 450 491 460 490C470 489 480.3 486.3 490 486C499.7 485.7 515.3 484 518 488C520.7 492 511.3 503.7 506 510C500.7 516.3 494.3 520.7 486 526C477.7 531.3 465.5 539.5 456 542C446.5 544.5 438.3 542.5 429 541C419.7 539.5 408.5 537.5 400 533C391.5 528.5 383 520.8 378 514C373 507.2 366.3 496.3 370 492Z" fill="#2c5d9a" filter="url(#bl3)"/></g>
<path d="M352 536C353.8 535 361.3 534.7 363 533C364.7 531.3 361.3 526.2 362 526C362.7 525.8 362.3 531 367 532C371.7 533 381.2 532.3 390 532C398.8 531.7 409.7 531 420 530C430.3 529 446.3 526 452 526C457.7 526 459.3 528.5 454 530C448.7 531.5 430.7 533.8 420 535C409.3 536.2 399.2 536.3 390 537C380.8 537.7 371.3 538.7 365 539C358.7 539.3 354.2 539.5 352 539C349.8 538.5 350.2 537 352 536Z" fill="#b9a530"/>
<path d="M403 549C404.7 545 413 540.7 418 540C423 539.3 428.2 541.8 433 545C437.8 548.2 442.5 554.3 447 559C451.5 563.7 458.3 568 460 573C461.7 578 460 585.3 457 589C454 592.7 447.2 594.8 442 595C436.8 595.2 430.2 589.7 426 590C421.8 590.3 420.5 595.3 417 597C413.5 598.7 408.8 600.2 405 600C401.2 599.8 394.3 597.7 394 596C393.7 594.3 399.8 593 403 590C406.2 587 412.2 582.3 413 578C413.8 573.7 409.7 568.8 408 564C406.3 559.2 401.3 553 403 549Z" fill="#5f6b8e"/>
<path d="M355 588C359.5 585.8 364.3 583 369 583C373.7 583 379 586.3 383 588C387 589.7 392.5 589.7 393 593C393.5 596.3 388.2 604 386 608C383.8 612 380.7 614.3 380 617C379.3 619.7 379.3 621.8 382 624C384.7 626.2 391.7 627 396 630C400.3 633 405.7 637.3 408 642C410.3 646.7 410.8 653 410 658C409.2 663 407 668.3 403 672C399 675.7 389.3 677 386 680C382.7 683 385 689.5 383 690C381 690.5 378.2 684.7 374 683C369.8 681.3 363.3 682.2 358 680C352.7 677.8 346.8 673 342 670C337.2 667 335 664.7 329 662C323 659.3 311.2 657.3 306 654C300.8 650.7 297.3 646.3 298 642C298.7 637.7 305 633.3 310 628C315 622.7 322.7 615.3 328 610C333.3 604.7 337.5 599.7 342 596C346.5 592.3 350.5 590.2 355 588Z" fill="#8b6746"/>
<path d="M32 514C33 511 37 507.2 42 506C47 504.8 58 505.2 62 507C66 508.8 68.5 515 66 517C63.5 519 52 517.8 47 519C42 520.2 38.5 524.8 36 524C33.5 523.2 31 517 32 514Z" fill="#cbc08e"/>
<path d="M13 541C13.7 537.8 13.7 535.2 18 533C22.3 530.8 34 527.8 39 528C44 528.2 47.8 531.2 48 534C48.2 536.8 42.3 541 40 545C37.7 549 37.2 555.8 34 558C30.8 560.2 24.3 559 21 558C17.7 557 15.3 554.8 14 552C12.7 549.2 12.3 544.2 13 541Z" fill="#cbc08e"/>
<path d="M87 488C88 484.7 93.5 482.7 96 480C98.5 477.3 100.3 471.2 102 472C103.7 472.8 103.8 481.7 106 485C108.2 488.3 111 492.5 115 492C119 491.5 124.8 485.2 130 482C135.2 478.8 140.8 473 146 472.5C151.2 472 155 477.2 161 479C167 480.8 177.2 483 182 483C186.8 483 190.8 477 190 479C189.2 481 180.8 489.8 177 495C173.2 500.2 169.2 504.5 167 510C164.8 515.5 163.7 522.3 164 528C164.3 533.7 168.5 538.3 169 544C169.5 549.7 166.5 556.2 167 562C167.5 567.8 173.8 577.2 172 579C170.2 580.8 161.7 573.7 156 573C150.3 572.3 144 573.7 138 575C132 576.3 124.8 581.8 120 581C115.2 580.2 112.5 573.2 109 570C105.5 566.8 101.5 565.5 99 562C96.5 558.5 97.5 550.2 94 549C90.5 547.8 81 551.5 78 555C75 558.5 79.5 567.5 76 570C72.5 572.5 62.7 570.3 57 570C51.3 569.7 45.5 569.7 42 568C38.5 566.3 34.3 563.3 36 560C37.7 556.7 46.3 551.7 52 548C57.7 544.3 65.3 541.5 70 538C74.7 534.5 79.7 530.3 80 527C80.3 523.7 74.3 521.2 72 518C69.7 514.8 64.7 510.2 66 508C67.3 505.8 76 506.3 80 505C84 503.7 88.8 502.8 90 500C91.2 497.2 86 491.3 87 488Z" fill="#b9a530"/>
<path d="M64 507C64.7 504.5 73.3 504.8 78 504C82.7 503.2 87.7 501 92 502C96.3 503 104 507 104 510C104 513 97 518.5 92 520C87 521.5 78.7 521.2 74 519C69.3 516.8 63.3 509.5 64 507Z" fill="#7e8450"/>
<path d="M47 536C52.5 531.3 59.8 528.3 67 527C74.2 525.7 86.3 526 90 528C93.7 530 92.2 535.5 89 539C85.8 542.5 77 546 71 549C65 552 56.8 553.8 53 557C49.2 560.2 50.7 566.7 48 568C45.3 569.3 39.3 567.2 37 565C34.7 562.8 32.3 559.8 34 555C35.7 550.2 41.5 540.7 47 536Z" fill="#7e8450"/>
<path d="M26 462C27.2 460.7 31 459.7 34 460C37 460.3 41.5 462.3 44 464C46.5 465.7 49.2 468.3 49 470C48.8 471.7 45.7 473.5 43 474C40.3 474.5 35.7 474 33 473C30.3 472 28.2 469.8 27 468C25.8 466.2 24.8 463.3 26 462Z" fill="#ddd6c6"/>
<path d="M17 633C15.2 629.7 20.7 624.8 26 622C31.3 619.2 41.8 616.7 49 616C56.2 615.3 67.8 615.2 69 618C70.2 620.8 61.3 629 56 633C50.7 637 43.5 642 37 642C30.5 642 18.8 636.3 17 633Z" fill="#e8912c"/>
<path d="M111 673C111.7 667.8 115.7 659.8 120 654C124.3 648.2 130.3 641.8 137 638C143.7 634.2 152 632.3 160 631C168 629.7 178 628.8 185 630C192 631.2 201.2 634 202 638C202.8 642 193.7 648.5 190 654C186.3 659.5 182 665.5 180 671C178 676.5 177 681.7 178 687C179 692.3 187.3 699.3 186 703C184.7 706.7 176.5 708.8 170 709C163.5 709.2 154 706 147 704C140 702 133.2 700.2 128 697C122.8 693.8 118.8 689 116 685C113.2 681 110.3 678.2 111 673Z" fill="#5f7e5b"/>
<path d="M201 586C204.8 581.8 212.3 578.8 219 576.5C225.7 574.2 235.7 571.6 241 572C246.3 572.4 249.1 575.5 251 579C252.9 582.5 253.4 588.8 252.5 593C251.6 597.2 248.8 601.3 245.5 604C242.2 606.7 237.1 607.5 233 609C228.9 610.5 224.7 611 221 613C217.3 615 213.8 618 211 621C208.2 624 206.5 628.2 204 631C201.5 633.8 199 637.8 196 638C193 638.2 187.2 635.7 186 632C184.8 628.3 187.3 621 189 616C190.7 611 194 607 196 602C198 597 197.2 590.2 201 586Z" fill="#84a03c"/>
<path d="M231 619C233.2 616 242.3 612.8 245 614C247.7 615.2 248 622.3 247 626C246 629.7 241.5 635 239 636C236.5 637 233.3 634.8 232 632C230.7 629.2 228.8 622 231 619Z" fill="#a9cc94"/>
<path d="M201 638C205.7 636.8 212 642 217 645C222 648 227 652.8 231 656C235 659.2 237.8 662 241 664C244.2 666 247.7 668.8 250 668C252.3 667.2 252.7 660.5 255 659C257.3 657.5 260.7 657 264 659C267.3 661 273 665.8 275 671C277 676.2 277 683.3 276 690C275 696.7 272.5 704.8 269 711C265.5 717.2 260.5 722.9 255 727C249.5 731.1 242.3 735.3 236 735.5C229.7 735.7 222.8 730.9 217 728C211.2 725.1 206.5 722 201 718C195.5 714 188 709.2 184 704C180 698.8 177.3 693 177 687C176.7 681 180 673.8 182 668C184 662.2 185.8 657 189 652C192.2 647 196.3 639.2 201 638Z" fill="#3f5949"/>
<path d="M137 690C138.7 690.3 144.8 697.2 150 700C155.2 702.8 162.3 706.5 168 707C173.7 707.5 179.7 701.7 184 703C188.3 704.3 195.5 713.2 194 715C192.5 716.8 181.5 715 175 714C168.5 713 160.8 711.7 155 709C149.2 706.3 143 701.2 140 698C137 694.8 135.3 689.7 137 690Z" fill="#2fb393"/>
<path d="M152 677C153.7 674.3 157 671.7 160 671C163 670.3 167.3 671.2 170 673C172.7 674.8 174.8 678.5 176 682C177.2 685.5 177.8 690.5 177 694C176.2 697.5 173.5 701.3 171 703C168.5 704.7 164.8 705 162 704C159.2 703 156 699.8 154 697C152 694.2 150.3 690.3 150 687C149.7 683.7 150.3 679.7 152 677Z" fill="#fff"/>
</g>
<g id="dots" fill="none" stroke-linecap="round" stroke-width="1.3">
<path stroke="#9c3b5c" d="M76.6 414.6h0M144.4 310.8h0M94.1 315.8h0M154.8 342.8h0M67.1 410.3h0M177.7 350.9h0M78.8 386.4h0M64.2 378.3h0M32.3 332.2h0M174.1 404.6h0M118.4 432.3h0M188.8 371.2h0M161.9 343.4h0M30.8 339.7h0M191.7 370h0M83.1 374.1h0M153.6 326.4h0M173.7 349.4h0M68.7 399.6h0M37.9 364.1h0M142.8 337.4h0M143.8 340.1h0M179 402.4h0M118 433.2h0M180.7 380.6h0M165.8 413.5h0M74.6 412.7h0M182.2 380.7h0M114.9 438.7h0M73.1 388.2h0M189.8 359h0M71.7 378.2h0M156.4 325.4h0M32.7 346.1h0M72.4 374.6h0M46.9 316.7h0M186.5 373.6h0M61.6 314.2h0M82.2 377.4h0M64.1 370.7h0M155.6 317.8h0M146.6 335.3h0M81.5 386.2h0M165.3 411.1h0M85.8 313.7h0M145.9 339.2h0M100.6 315.9h0M146.7 341.7h0M68.4 373.8h0M43.8 374.2h0M66.9 400.3h0M83 372.9h0M63.5 318.8h0M147.3 340.6h0M153.7 325.8h0M169 408.2h0M69.5 399.1h0M54.5 384.4h0M148.2 337.7h0M56.2 319.6h0M173.2 397.3h0M43.6 370.4h0M183.4 354.6h0M77.4 315.1h0M129 434h0M150.5 429h0M67.8 396.5h0M102.3 433.5h0M173.5 392.7h0M162.9 344.6h0M180.5 376h0M54.9 382.7h0M98.7 425.9h0M161.5 346.7h0M153.9 346h0M82.3 386h0M151.7 423.1h0M68.3 402.1h0M121.7 317.3h0M149 340.7h0M168 354.2h0M57.3 315.8h0M47.3 323h0M150.7 325.5h0M41.2 317.2h0M143.5 312.6h0M141 316.1h0M41.7 364.2h0M71.6 404.2h0M31.5 329.2h0M162.8 343.6h0M171 384.9h0M179.7 391.4h0M161.8 343.7h0M77.6 318.4h0M176.1 397.5h0M147.1 342.3h0M31.6 334.3h0M145 428.6h0M39.1 318.2h0M158.6 343.9h0M44.1 374.8h0M172.6 386.7h0M173.9 385.6h0M70.8 373.3h0M170.3 385.7h0M198.6 366.2h0M141.7 429.5h0M186.2 358.4h0M178.1 381.7h0M183.6 352.1h0M146.7 332.5h0M171.3 400.8h0M40.5 363.5h0M84.4 311.4h0M98 312.5h0M157.8 344.7h0M157.2 417.1h0M70.6 408h0M180.7 379.2h0M56.2 378.9h0M151.5 340.1h0M71 313.5h0M144.8 309.1h0M91.1 420h0M28.3 344.9h0M121.9 441.1h0M175 404.6h0M52.5 381.4h0M176.6 400.2h0M196.9 364.9h0M174.7 383h0M172.4 390.5h0M38.5 350.6h0M76.7 388.4h0M163.3 415.6h0M36.2 318.3h0M75.8 374.3h0M147.3 341.6h0M70.1 396.4h0M170.2 410.4h0M175.7 382h0M171.1 388.6h0M177.5 380.9h0M183 379h0M41.6 361.3h0M199.2 370.4h0M76 313.3h0M48.9 319.5h0M116.9 319.8h0M57.4 373.8h0M78.2 383.2h0M119.5 314.4h0M178.6 380h0M84.1 382.6h0M188.5 355.5h0M97.8 430.3h0M194.9 365.5h0M182 399.3h0M65.9 406.8h0M155.3 325.8h0M40.3 361.7h0M32.6 349.8h0M31 342.4h0M58.8 377.1h0M44.5 319.7h0M183.5 379.1h0M81.6 376.7h0M151.8 327.9h0M61.1 377.5h0M170 409.9h0M75.6 385.2h0M113.5 439.1h0M191.3 360.5h0M148.2 341.8h0M108.4 437.2h0M77.1 368.5h0M142.2 430.4h0M179.8 353.5h0M126.3 435.8h0M190.8 359.2h0M166.6 413.5h0M159.7 418.5h0M34.1 326.6h0M92.1 314.1h0M41.1 379.6h0M112.9 317.6h0M89.9 423h0M172.1 400h0M97.9 427.6h0M66.8 380.4h0M152.3 318.9h0M172.4 390.3h0M149 346.5h0M99.2 313.8h0M71.5 408.7h0M112.2 311.4h0M42.2 361.1h0M80.8 418.9h0M112.8 318.6h0M166.9 348.5h0M77.1 310.1h0M41.8 317.5h0M105.9 431.4h0M41.1 357.4h0M156.3 419.5h0M105.9 426.6h0M158.8 419.9h0M29.1 336.5h0M74.8 388.7h0M176.9 399.6h0M54.2 377.5h0M72.1 393h0M142.8 425h0M68.8 376.8h0M182.6 352.9h0M70.8 411.6h0M126.2 436.1h0M30.4 340.5h0M39.7 358.3h0M81 380.6h0M153.4 343.6h0M91.1 417.9h0M173.8 348.5h0M45.3 370.9h0M186.1 354.3h0M29.3 334.6h0M108.4 442.3h0M30.7 331.2h0M156.1 345.5h0M156.4 418.8h0M71.5 392.7h0M62.2 314.3h0M120.9 316.4h0M181.1 401.4h0M129.4 313.1h0M80.8 416h0M27.4 323.8h0M69.7 403.4h0M71.6 318h0M191.9 354.2h0M120.7 314.3h0M154 325.3h0M47.6 384h0M149.2 340.8h0M151.9 316.8h0M69.2 400.9h0M166.6 407.5h0M44.1 376.9h0M87.8 317.9h0M65.4 402.8h0M177 355h0M150 343.6h0M81.3 386h0M163.1 341.7h0M77.8 308.7h0M189 360.5h0M152.1 340.5h0M73.1 374h0M123.2 313.4h0M176.7 398.5h0M179.7 354.5h0M47.2 371.6h0M173.1 355.7h0M150 429.6h0M50.1 380.4h0M156.9 337.1h0M31.2 326.1h0M42.6 319.7h0M71.1 372.9h0M194.8 366.9h0M118.5 433.9h0M70 406.1h0M172.5 388.4h0M164.6 416.7h0M176 377.8h0M119.5 435.2h0M177.4 390.4h0M158.6 347.3h0M161.2 346.6h0M109.4 437.9h0M166.7 349.8h0M177.8 402h0M32.2 325.5h0M47.8 373.6h0M149.6 334.1h0M67.2 376.1h0M38.2 319h0M47.8 379h0M43.7 314.2h0M42.9 319.7h0M151 427.2h0M192.2 373.1h0M97.3 419.6h0M143.7 427.5h0M152.2 423.6h0M85.9 377.8h0M96.7 426.6h0M98.1 438.8h0M141.5 427.9h0M44.6 366h0M60.8 377.3h0M153 339.8h0M81 377.6h0M183.4 373.7h0M99.3 317.1h0M80.7 376.3h0M115.5 434.9h0M33.7 320.1h0M84.6 378.1h0M117.3 319.5h0M155.9 346.9h0M116.8 313.4h0M33.6 323.7h0M77 397h0M35.5 346h0M63.7 377.7h0M31 334.5h0M80.1 376.2h0M148.9 334.2h0M188.1 352.3h0M101.9 320.2h0M72 317.8h0M155.3 420.8h0M146.5 427h0M68.5 396.3h0M151.3 341.8h0M191.6 352.3h0M185.6 353.8h0M152 317.4h0M111.7 437.4h0M31.3 325h0M95.9 315h0M81 384h0M195.4 357.4h0M89.3 379.8h0M151.2 342.8h0M31 334.1h0M151.8 314.7h0M144.2 342.5h0M34.6 347.8h0M159.6 343.7h0M80.6 415.9h0M169.1 405.5h0M103.2 429.8h0M71.5 415h0M74.2 414.9h0M148.6 425.9h0M190.6 377.4h0M29.2 334.9h0M103.3 425.9h0M165.6 409.9h0M88.5 422.4h0M126.1 309.1h0M92 317h0M162.6 411.3h0M191 372.1h0M198.2 363.6h0M195.5 359.7h0M184 347.9h0M78.7 421.9h0M150.3 319.4h0M64.1 396.1h0M183.5 353h0M147.1 311.9h0M76.5 394.4h0M141.6 429.9h0M150.8 331.7h0M129.9 319.5h0M136 428.1h0M74.8 311.5h0M92.4 426.5h0M60.9 377.6h0M65.6 312.7h0M170.7 401.6h0M151.8 347.1h0M153.8 427.4h0M95.1 425.7h0M176.1 382.8h0M148.7 339.5h0M68 416.1h0M85.4 376.6h0M63.8 377.3h0M37.2 351.5h0M169.8 409.1h0M178.2 390.4h0M192.8 368.8h0M82.2 379.9h0M185.8 357.4h0M55.6 380.7h0M80.7 315h0M72.3 377.5h0M152.8 342.3h0M47.7 372.4h0M160.2 420.1h0M156 343.7h0M189.8 369.8h0M87.4 320.3h0M121.1 436.8h0M175.1 386.4h0M197.5 368.5h0M192.4 366.9h0M99.5 429.4h0M118.2 432.5h0M68.5 395h0M47.2 374.2h0M65.4 315h0M63.3 317h0M34.6 353.8h0M151.5 332.2h0M75.8 415.4h0M176.4 382.9h0M147.6 323h0M147.2 429h0M176.7 390.1h0M191.4 359.7h0M167.2 407.8h0M189.8 364.7h0M76.9 425.2h0M57.1 313h0M42.1 368.6h0M33.6 325.8h0M83.7 312.4h0M109.3 440.9h0M191.8 366.1h0M141.7 430.6h0M103.9 319.8h0M126.3 431.5h0M144.7 345.6h0M163.7 415.4h0M152.1 329h0M77.6 391.1h0M69.5 388.6h0M30.6 331.1h0M151.9 327h0M147.7 340.9h0M186.2 375.1h0M126.1 434.9h0M170.4 383.9h0M60.6 377.7h0M190.8 363.4h0M196 363.6h0M108.7 435.9h0M32.3 338h0M155.5 317.5h0M131.5 432.3h0M66 409.2h0M85.3 421.2h0M104.1 433.4h0M91.3 422.3h0M34.7 338.5h0M105.9 438.6h0M81.2 420.6h0M185.6 357.1h0M42.2 370.3h0M58.1 316.2h0M192.8 365.7h0M68.7 377.2h0M60.5 377.1h0M175.2 399.3h0M61 317h0M163.4 342.1h0M100.6 430.3h0M142.5 427.6h0M94 316.6h0M150.9 336.5h0M78.6 416.4h0M128.9 435.9h0M171.9 347.6h0M181.1 376.6h0M172.8 352.2h0M170.7 348.3h0M149.7 318.8h0M193.3 362.5h0M86.5 421.4h0M147.3 312.7h0M141.1 315.4h0M88.1 425h0M203 339.3h0M222.9 352.4h0M242.5 322.4h0M230.3 345.6h0M249.8 334.6h0M251 337h0M233.1 345.6h0M266.8 326.6h0M196.3 346.2h0M200.5 349.2h0M185.2 354.4h0M190.7 375.6h0M264.8 327.2h0M206.6 335.1h0M200 382.1h0M261.4 327.5h0M195 348h0M180.7 365.1h0M240.3 322.6h0M186.6 361.9h0M210.1 364.9h0M230.7 322h0M200.2 376.3h0M258.5 327.3h0M184.1 354.5h0M181.1 363.2h0M270.3 312.6h0M235.7 347.5h0M211 364.6h0M263.6 330.3h0M197.1 372.5h0M262.6 329.7h0M232.8 347.9h0M189.4 375h0M255.1 333.2h0M235.6 323.4h0M245.9 344.8h0M230.3 326.2h0M195.6 351.3h0M184.3 365h0M266.7 317.5h0M255 325.1h0M240 339.3h0M252.8 331.7h0M261.1 326.9h0M264.9 320.1h0M189.4 362.8h0M270.2 320h0M189.8 380.9h0M210 366.3h0M239.6 319.1h0M190.5 381.2h0M238.6 341.3h0M226.3 327.8h0M234 348.2h0M187.7 376.8h0M210.8 330.8h0M265.7 324.7h0M211.7 333.8h0M217.1 361.3h0M202.5 373h0M179.7 352.7h0M249.8 314.4h0M217.1 333.8h0M241.9 322.7h0M269.8 324.1h0M248.4 322h0M210.5 334.7h0M201.2 343.2h0M207.3 370.8h0M256.8 336.7h0M213.7 334.3h0M180.6 358.6h0M207.7 341h0M207.6 367.4h0M241.5 316.4h0M255.8 336.5h0M204.4 369.6h0M265.2 314.5h0M176.3 362h0M181.7 356.1h0M212.2 364.5h0M262.9 324.3h0M250 335.5h0M225.6 326.3h0M217.3 360.6h0M249.6 314.1h0M186.6 370.3h0M255.2 315.9h0M196.2 344.8h0M269.6 326.8h0M211.3 365.5h0M255.4 313.1h0M227.1 354.4h0M227.3 328.9h0M258.5 318.1h0M264.9 324.6h0M239.9 319.8h0M252.2 341h0M263.6 326.3h0M252.7 332.6h0M217.1 363.3h0M240.8 323.5h0M264.1 315.5h0M208.5 367.3h0M265.2 326.9h0M236.8 345.6h0M185.7 365.1h0M265.9 318.5h0M261.3 332.4h0M257.5 312.2h0M201.3 338.6h0M234.4 348.2h0M243.3 343.6h0M230.4 350.5h0M240.2 323h0M186.7 347.4h0M267.5 323.9h0M251.5 314.2h0M182.7 366.2h0M195.4 373.9h0M186.1 356.8h0M199.4 344.1h0M254.2 314.2h0M262.2 321.3h0M268.2 317.7h0M191.2 344.4h0M230.6 321.6h0M231 343.5h0M243.6 318h0M203.5 373h0M239 321.4h0M235.4 318h0M207.4 336h0M263.3 319.1h0M245.3 336.6h0M217.5 362.3h0M247.7 336.4h0M259.4 314.1h0M263.9 318.5h0M187.6 377.1h0M217.3 364h0M182.4 357.1h0M224.3 330.8h0M250.3 335.4h0M256.5 329.2h0M225.7 353.5h0M180.8 359.6h0M192.9 348.7h0M242 323.3h0M179.6 361.1h0M220.9 352.6h0M266.4 315.9h0M248.5 339.4h0M192.6 385h0M252.5 335.8h0M210.4 341.4h0M213.3 361.5h0M267.1 327h0M242 317.8h0M211.6 366.1h0M260.2 315.9h0M197.4 379.4h0M262.2 332.9h0M227.6 328.1h0M267.6 318.7h0M251.3 332.7h0M259 324.5h0M203.2 337.2h0M262.4 319.9h0M194.5 375.3h0M190.7 371.4h0M248.9 315.5h0M265.5 325.5h0M209.7 360.9h0M177.3 352h0M183.7 352.6h0M188.2 349.8h0M228.2 330.2h0M248.8 318.6h0M194.7 379.3h0M259.7 313.8h0M211.6 337.6h0M221.9 327.7h0M194.3 342h0M257.8 331.2h0M211 338.6h0M250.8 313.4h0M225.1 326.7h0M220.2 353.8h0M189.4 367.5h0M211.7 363.4h0M201.5 347.3h0M267.3 325h0M258.4 320.2h0M185.4 360.7h0M194.7 380.2h0M243.7 320.3h0M242.2 323h0M206.9 309h0M208.7 316.8h0M220.6 311.2h0M219.4 312.9h0M222.6 306.2h0M227.2 313.1h0M207.6 311.6h0M207.4 308.3h0M209.8 310.7h0M235.1 313.4h0M233.7 317.3h0M227.1 311.6h0M216.4 321.5h0M209.9 307.6h0M232.3 314.6h0M205.5 309.9h0M205.7 319.9h0M209 315.1h0M216.4 308.6h0M208.6 312.2h0M224.2 313.6h0M217.5 309.6h0M211.7 317.2h0M231.5 313.6h0M227.8 309.4h0M220.5 311h0M235.9 313.2h0M233.2 306.8h0M209.5 325.3h0M237.3 318.7h0M209.4 318.8h0M205.3 309h0M209.7 320.3h0M204.8 311.5h0M204.3 316.2h0M232.2 317.8h0M235.9 313.3h0M224.1 308.9h0M207.7 309.7h0M217.7 314.6h0M233.4 316.3h0M206.5 314.8h0M233.2 311.8h0M234.9 311.5h0M236.7 312h0M221 314.7h0M214.9 308.1h0M209.2 307.3h0M231 313.5h0M203.6 316.5h0M213.5 311.2h0M228.9 318.6h0M208.1 313.1h0M231.1 312.6h0M234.9 313.6h0M234.3 313.7h0M221.1 308.7h0M238.2 311h0M213 310.6h0M202.9 307.9h0M201 316.7h0M222.7 316.1h0M217.7 317.9h0M222.7 314.1h0M216.9 310.2h0M210.2 319.8h0M232.6 342.3h0M298 336h0M289.9 309.8h0M268.2 330.5h0M278.4 305.8h0M235.3 344.8h0M281.4 343.8h0M257.6 307.7h0M286.6 326.7h0M236.4 338.3h0M301.2 299h0M276.4 313.6h0M270.9 332.1h0M278.4 319.3h0M264.7 320h0M264.6 318.6h0M261.7 326.6h0M263.2 305.2h0M294.7 337.8h0M294.1 341.5h0M280.5 326.4h0M277.7 322.2h0M272.9 331.7h0M234.7 334.4h0M299.7 307.2h0M273.1 346.2h0M275.3 328.4h0M285.4 317.9h0M272.7 300.8h0M263.4 322.7h0M273.6 307.6h0M300.8 329.7h0M303.2 330.2h0M277.9 329.1h0M261.2 344.5h0M271.9 342.8h0M255.5 312.4h0M304 301.7h0M265.3 329h0M278.5 339.5h0M255.6 333.1h0M298.5 323h0M252.7 309.2h0M270.8 344.9h0M278.9 343.2h0M274.4 339.3h0M265.1 341h0M277 323.9h0M264.8 308.7h0M274.5 338.6h0M291 318.6h0M253.5 309h0M286.7 300.8h0M268 341.9h0M258.5 321.7h0M239.1 321.9h0M268.9 327.9h0M294.3 332.4h0M290 343.8h0M299.2 326.6h0M220.6 354.7h0M244.4 310.2h0M231.3 343.1h0M262.9 309h0M300.3 309.4h0M250.1 316.2h0M304.6 314h0M288 304.5h0M260.8 330.3h0M252.4 339.4h0M258.7 304h0M280.4 320.2h0M245.5 334.8h0M255.4 322.7h0M249.5 321.5h0M270.6 310.8h0M232.6 346.5h0M266.4 316.2h0M243 331.6h0M252.8 339.7h0M296.9 302.5h0M239 319h0M247.4 322.2h0M277.9 307.4h0M248.5 338.6h0M290.5 324.4h0M251.1 314.4h0M299.8 336.5h0M255.2 334.8h0M297.9 301h0M247.4 316.1h0M284 334.3h0M240.1 324.3h0M287.8 329.1h0M254.4 308h0M238.2 343h0M222.6 355h0M301.5 315.8h0M286.8 324.2h0M226.1 348.9h0M266.9 333.4h0M276.1 336.2h0M265.3 336.5h0M303.9 326.6h0M293.5 324.1h0M254.2 306.2h0M297.8 318h0M266.5 339.5h0M307.7 326.3h0M272.7 346.3h0M256.7 312.1h0M295.8 310.3h0M255.2 311.5h0M293.9 322.3h0M276.7 335.1h0M283 327.2h0M266.5 308.1h0M291.6 327.6h0M290.6 301h0M238 320.3h0M225.2 344.5h0M232.9 342.5h0M260.3 339.1h0M306.6 306.4h0M287.5 330.8h0M238.3 336.4h0M236.6 323.6h0M225 345.8h0M282.1 339.5h0M283.1 346h0M261.8 316.3h0M293.6 323.9h0M285.4 312.2h0M261.5 323.8h0M267.3 327.1h0M267.4 316.7h0M304.4 331.2h0M266.1 324.6h0M267.2 324.9h0M275 319.3h0M232 339.2h0M274.3 316.7h0M219.7 348.7h0M251.9 327.1h0M259.8 336.4h0M254.6 319.6h0M295.4 313.1h0M264.9 302.8h0M266.2 308.3h0M268.8 331.4h0M289.6 332.5h0M283.3 323.2h0M253.2 317.6h0M266.4 334h0M303.2 330.9h0M297.5 322.3h0M295.6 316.7h0M269.3 309.9h0M249 324.8h0M226.5 352.1h0M298.6 297.9h0M304.9 328.5h0M302 312.1h0M294.1 302.2h0M269.9 310.1h0M230.3 348.1h0M272.5 315.3h0M290.1 318.2h0M300 310.7h0M276.4 336h0M267 305.8h0M288.3 332.5h0M290.4 304.6h0M261.1 308.9h0M278.2 308.8h0M256 339.3h0M249.5 308.4h0M257.2 305.6h0M305.4 311.1h0M228.6 342h0M266.8 309.2h0M267.9 335.4h0M282.5 338.3h0M271.3 338h0M233.1 340h0M277.9 310.9h0M263.9 340.9h0M261.5 333.8h0M265.9 317.3h0M281.4 318.7h0M275.6 310.7h0M270.3 323.2h0M304 317.1h0M299.3 315.8h0M290 337.5h0M244.7 331.3h0M231.4 349h0M285.7 344.3h0M309.1 315.5h0M273.6 334.8h0M226.4 349.4h0M284.2 319.9h0M262.1 305.1h0M235.6 322h0M235.3 338.5h0M288.8 300.6h0M299.7 327.1h0M285 321.1h0M265.1 324.7h0M300.8 311.9h0M309.3 308.4h0M252.8 315.5h0M259.1 322.9h0M259.4 336.9h0M285.3 303.6h0M252.3 316.7h0M284.3 309.1h0M277.9 341h0M284.8 304.2h0M283.6 336.1h0M265.4 320.5h0M250.9 320.3h0M304.2 331.8h0M289.9 299.7h0M257.6 335.7h0M273.8 327.3h0M271.9 326.2h0M257.2 334.1h0M275 331.3h0M298.4 338.2h0M279.1 340.2h0M289.9 316.7h0M297.3 300.6h0M240.4 329.4h0M282.6 334.8h0M285.4 334.3h0M239 332.4h0M262.6 342.1h0M262.3 307.7h0M275.5 303.9h0M254.4 317.4h0M243.8 328.2h0M289.7 303.6h0M277.6 326.6h0M302.2 330.1h0M265.1 331.8h0M270.7 317.2h0M297.1 317.7h0M270.1 320.8h0M283.5 316.2h0M300.7 319.7h0M224.2 345.6h0M304.3 324.2h0M244 317h0M280.7 304.8h0M258.9 341.1h0M281.7 333.6h0M288.8 336.4h0M240.7 316.4h0M280.1 313.5h0M275.3 328.6h0M267.3 330.8h0M241.3 311.8h0M215.9 353h0M255.6 307.7h0M274.6 316h0M284.3 338.4h0M259.6 304.7h0M277.4 344.4h0M299.1 335.1h0M252.2 340.2h0M260.5 318.5h0M297.6 314.1h0M273.4 304.5h0M253.6 341.1h0M245.6 337.1h0M266.3 321.6h0M282.4 323.4h0M269.7 317.9h0M286.9 341h0M257.5 315.8h0M250.9 327.4h0M222.1 347.6h0M288.7 337.8h0M266.1 320.9h0M232.6 339.1h0M271.3 334.7h0M219.2 352.8h0M256.2 333.4h0M284.2 321.9h0M267.5 337.9h0M297.3 319h0M280 304.9h0M277.8 305.5h0M258.4 323h0M251.5 310.6h0M273.5 332.6h0M284.2 313.3h0M261.3 319.5h0M286 329.4h0M302 302h0M276.1 338h0M281.4 330.2h0M270.4 317.2h0M285.7 331.7h0M275.9 332.6h0M278.6 314.7h0M293.8 312.8h0M299.2 317.9h0M288.3 322.3h0M236.8 324h0M234.1 342.4h0M295 299.8h0M252.9 315.3h0M260.5 305.6h0M214.2 354.5h0M251.2 316.2h0M274 337.3h0M246.5 313.2h0M238.5 333h0M290.3 343.3h0M265 338.9h0M254.1 329.3h0M277.8 346.7h0M238.3 325.7h0M240.6 323.2h0M310.9 309h0M227.4 344.5h0M274.4 303.1h0M284.5 303h0M262.8 337.3h0M239.6 340.3h0M270.5 328.7h0M260.8 321.7h0M261.2 332h0M246.3 315.4h0M259 344.4h0M251.4 308.4h0M276.3 342.5h0M277.3 327.7h0M246.9 317.6h0M253.6 309.7h0M266.7 342.8h0M292.4 325h0M296.5 300.5h0M274.6 300.4h0M270.6 305.1h0M289.4 333.6h0M288.8 307h0M268.3 323.9h0M226.3 345.9h0M290.3 339.8h0M258 311.5h0M291.3 318.2h0M268.8 308.5h0M259.4 335.7h0M292.7 339.3h0M262.8 306.5h0M236.5 324.3h0M302.8 310.9h0M250.6 310.3h0M256.6 310h0M258.8 308.6h0M310.6 309.1h0M259.6 322.6h0M228.7 346.2h0M270.8 331h0M221.6 350.1h0M299.2 310h0M296.7 313.9h0M286.6 311.9h0M256.4 310.4h0M263.4 323.1h0M295.1 324.8h0M282.3 321.9h0M277.8 302.2h0M279.9 306.6h0M250 325.5h0M299 300.9h0M266.1 315h0M282.8 334.8h0M291.8 301.6h0M286.6 299.9h0M301.8 303.4h0M249.6 337h0M269.1 344.8h0M311.1 311.4h0M277.9 342.6h0M288.3 344.1h0M248.3 313.2h0M247.5 326.9h0M260 329.7h0M258.2 319.5h0M254.7 339.2h0M260.4 322.8h0M300.2 311h0M254.2 317.9h0M261.6 338.1h0M258.8 332h0M290 299.5h0M274.9 306.5h0M292.4 306.6h0M247.4 319.8h0M266.4 304.1h0M253.5 327.7h0M267.6 328.2h0M260.4 314.6h0M293 342h0M280.8 303.8h0M271.3 310.4h0M297.9 338.8h0M310.6 321.2h0M244.8 334.3h0M303.8 319.1h0M284.6 323.2h0M201.6 305.7h0M203.7 306.4h0M198.6 299.5h0M203.4 305.3h0M201.3 299.7h0M202.9 313.9h0M199.9 306.4h0M207.9 307.9h0M203.4 299.4h0M203.8 312.6h0M198.9 306.2h0M206.6 317.5h0M201.4 310.7h0M206.4 303.4h0M206.8 315.4h0M201.6 312.3h0M198.9 307.5h0M200.3 308.4h0M207.8 308.5h0M205.8 300.5h0M206.9 312.2h0M205.6 308.3h0M204.1 315.6h0M202.6 318h0M202.9 316.6h0M203 297.8h0M202.6 304.2h0M203.3 299.5h0M184.7 249.3h0M165.2 244.4h0M174.8 241.1h0M170.5 244h0M175.3 245.1h0M173.5 238.7h0M174.1 240.1h0M174.2 255.4h0M181.8 242.4h0M189.8 234h0M173.5 250.3h0M181.1 242.5h0M179.9 232.8h0M170.5 244.5h0M183.3 249.1h0M184 258.2h0M178.5 231.8h0M187 255.7h0M169 240.5h0M186.4 242.9h0M196.5 248.9h0M175.6 251.1h0M185.9 239h0M189.2 245.6h0M172.8 252.2h0M170.3 252.5h0M186 257.7h0M168.9 244h0M188.9 256.7h0M176.7 232.3h0M181.7 243.9h0M180.5 246.1h0M167.9 242h0M185 242.3h0M168 244.6h0M187 248.6h0M195.2 245.1h0M174.4 242.4h0M187.2 238.4h0M182 238.2h0M182.9 256.6h0M181.6 241.7h0M186.5 246.3h0M176.6 246.8h0M168.7 249h0M190.6 254.4h0M174.7 246.8h0M189.6 242.8h0M176.1 256.6h0M186.9 242.3h0M170.6 243.6h0M184.6 243.9h0M187.4 257.9h0M191.5 250h0M186.1 248.7h0M192.4 254.8h0M167.8 252.2h0M187.8 257.9h0M172.9 238.2h0M185.5 250.5h0M192.6 251.2h0M181.7 250.9h0M165.6 246.5h0M173.7 248.6h0M168.8 247.9h0M179.6 242.4h0M174.4 235.2h0M179.2 244.5h0M188.2 243.3h0M188.5 241h0M192.1 249.4h0M190.9 253.1h0M185.2 237.8h0M186.7 233.3h0M170.1 244h0M195.6 244.1h0M176.6 234.2h0M191.2 239.5h0M185.1 233.1h0M190.5 252.2h0M193.4 247.3h0M188 256.8h0M190.4 247.5h0M168.4 248.1h0M185.5 271h0M184.3 257.9h0M189.1 272.5h0M183.6 261.9h0M183.1 267.2h0M181.9 271.3h0M187 255.9h0M181.7 261h0M179.6 262h0M185.3 252.3h0M185 257.5h0M186.2 262.2h0M190 268.2h0M178.3 258.8h0M182.7 254.5h0M185.9 271.1h0M185 265.3h0M181.1 256.4h0M185.2 267.2h0M189.3 268.3h0M183.7 262.9h0M186.1 262.1h0M183 259.5h0M183.4 262.9h0M184.2 262.7h0M184.6 268.5h0M184.6 256.3h0M187.2 262.6h0M364.2 301.8h0M357.2 298.2h0M379.4 298.2h0M361.9 300.5h0M378.8 305h0M373 311.1h0M371.8 294.1h0M381.6 301.4h0M377.7 293.6h0M367.5 294.5h0M371.2 299.4h0M366.6 307.4h0M377.7 303.4h0M372 294.7h0M372.3 293.7h0M381.2 295.1h0M365.3 304h0M360.4 295.4h0M356.8 299.8h0M369.9 308.3h0M377.5 295.7h0M372.5 299.3h0M370 308.4h0M367.2 296.9h0M373.6 297h0M372.4 300.3h0M372.9 302.5h0M375.1 303.7h0M382.6 300.3h0M361 296.6h0M363.4 296.9h0M360.7 296.4h0M375.8 300.5h0M363.8 298h0M360.6 301.5h0M364.2 302.7h0M372 313.4h0M377.9 300.2h0M373.3 299h0M380.7 297.2h0M402.5 531.8h0M402.2 534.1h0M341.8 613.6h0M360.2 627.3h0M364.5 646.5h0M359.7 602.4h0M346.9 640.3h0M396.6 643.9h0M355.6 601h0M356.8 594.7h0M375.9 594h0M374.4 671.3h0M107.6 512.4h0M101.6 485.2h0M164.6 492h0M122.7 557.3h0M122.7 552.8h0M173.8 484.8h0M70.2 543.1h0M102.1 485.7h0M132.5 512.7h0M103 561h0M112.4 493.6h0M106.8 536.1h0M95.1 536.9h0M134.7 533.7h0M147.3 486h0M167.7 501.9h0M144 569h0M90.5 497.1h0M90.6 506.6h0M219.5 587.1h0M196.4 611.2h0M239.8 583.7h0M237.6 596.9h0M189 630.7h0M243.9 592.7h0M222.4 595.9h0M197.6 622.9h0M229.1 600.3h0M240.7 575.1h0M197.7 600h0M239.8 332.5h0M184.7 349.8h0M239.7 343.5h0M234.9 342.7h0M270.5 316.6h0M243.9 314.3h0M233.5 330.7h0M220.2 349.2h0M252.1 326.7h0M221.8 330.2h0M235.5 336.2h0M246.5 324.8h0M233.4 320.4h0M227.7 332.8h0M231.7 330.5h0M232.7 354.2h0M225.2 327.5h0M220.1 350.4h0M217.7 328.2h0M224.2 341.6h0M211.1 342.9h0M224.7 317.2h0M219.6 323.6h0M198.6 331.5h0M205.5 350.4h0M265.8 293.2h0M232.2 344.8h0M224.6 328.8h0M223.2 329.7h0M223.9 352.7h0M231 340.5h0M237.6 328h0M221.9 336h0M274.7 306.5h0M240.7 327h0M219.2 340.4h0M229.5 323.7h0M242.8 332.6h0M233.7 346.9h0M222.3 344.6h0M248.1 311.9h0M226.9 349.1h0M247.7 329.6h0M196.7 344.9h0M216.5 323.1h0M210.8 348.8h0M243.6 301.4h0M230.3 338.4h0M249 313.3h0M222.7 337.9h0M223 343.3h0M222.3 322.4h0M262.2 339.6h0M217.9 351h0M211.8 341.6h0M213 345.8h0M225.4 322.1h0M233 324.1h0M235.4 324.3h0M217.6 353.4h0M228.4 326.1h0M233.9 335.9h0M221.6 357.3h0M249.6 332.7h0M228 331.9h0M207.2 343.2h0M215 330.2h0M238.5 328.1h0M266.5 312.2h0M219.1 342.6h0M227.7 324.2h0M228.2 321.1h0M268.5 318.3h0M218.3 359.3h0M249.8 322.2h0M248.3 315.1h0M216.5 332.7h0M246.1 333h0M215.1 333.5h0M220.5 346.2h0M250.4 324.2h0M216.7 348.6h0M240.8 328.8h0M191.7 357.4h0M250.4 310h0M233 331.5h0M239.5 355h0M240.5 322.3h0M254.2 316.5h0M237.5 342.8h0M211.9 338.9h0M223.5 331.9h0M214.6 330.3h0M219.8 349.9h0M220.8 327.6h0M257.6 304.4h0M205.9 361h0M240.5 335.7h0M183.5 339.6h0M222.7 337.8h0M224.3 330h0M201.1 363.4h0M252.3 322.9h0M207.3 345.3h0M241.3 319.6h0M224.7 336.6h0M222.9 324.5h0M237.7 322.4h0M225.2 338.4h0M199.7 343h0M208.1 347h0M205.4 336.9h0M218.5 340.7h0M233 336.5h0M228.6 331.9h0M229.2 330.7h0M224 332.6h0M266.6 312.1h0M221.4 326.1h0M230.7 333h0M230 337.6h0M230.1 319.6h0M201.9 346.7h0M233 338h0M241.7 321.3h0M264.9 323.7h0M215.8 339.7h0M243.6 319.1h0M207.6 345.1h0M196.8 352.2h0M257.8 301.1h0M242.3 325.5h0M249.9 320.5h0M220.4 347.9h0M193.6 350.9h0M219.1 343.9h0M246.3 322.5h0M241.6 333.8h0M230.4 315.3h0M233.4 328.4h0M198.4 334.7h0M203.4 355.5h0M210.2 348.3h0M226.6 346h0M238.1 343.2h0M220.8 310.5h0M239.2 343.5h0M182.1 349.1h0M200.1 350.9h0M204 339.6h0M238.4 330.6h0M248.2 316.3h0M236.2 338.8h0M243 327.4h0M226 337.2h0M207.5 352.9h0M216.1 329.4h0M248.7 324h0M217 317.4h0M240.4 328.7h0M211.9 348.6h0M208.6 340.1h0M185.5 384.9h0M233.9 347.1h0M184.9 363.1h0M215.2 335.7h0M227.6 332.3h0M242.2 324.8h0M229.2 323.2h0M217.6 357.4h0M232.1 342.4h0M194.8 359.4h0M237.3 327.1h0M210.8 356.8h0M202 353.2h0M239.5 334.4h0M214.2 352.8h0M222.9 334.9h0M238.6 330.5h0M271.1 311.8h0M238 323.2h0M220.6 352.8h0M239.9 324.2h0M246 319.4h0M223.4 333.1h0M183.5 355h0M232.1 318h0M199.9 353.3h0M233 342.5h0M240.3 332.1h0M223.3 337.4h0M225.6 316.4h0M228.8 340.1h0M221.9 334.9h0M209.9 341.3h0M222.1 351.1h0M213 338.2h0M253.2 316.8h0M220.7 333h0M247.8 318h0M211.8 336.9h0M229.6 350h0M245.2 333.1h0M214.5 332.7h0M192 355.9h0M237.9 334.1h0M211.1 347.8h0M223.9 336.3h0M229.5 334h0M244.9 347.9h0M243.3 324.6h0M192.7 362.4h0M232.8 328.6h0M214.3 355.2h0M195 354.3h0M226.7 329.2h0M199.2 351.8h0M221.8 324.3h0M236 321.7h0M211.7 350.6h0M207.8 328h0M229.4 325.6h0M244.9 330.5h0M225.1 343.5h0M220.9 335.8h0M191.6 351.9h0M213.6 348.1h0M201.9 354h0M232.2 312.1h0M230.6 323.9h0M224.8 336.9h0M263.5 333.2h0M218.7 333.6h0M189.6 355.5h0M229.3 335.9h0M231 324.7h0M242.5 327.4h0M228.1 337.1h0M227.3 328.8h0M196.3 352h0M215.7 349h0M215.8 338.6h0M226.9 339.3h0M219.3 322.7h0M213 349.5h0M245.4 322.3h0M224.3 330.7h0M191 359.1h0M232.6 333.2h0M192.4 348.7h0M239.2 331.7h0M263.3 298.8h0M218 334.5h0M223.8 347.9h0M197.4 348.6h0M228.4 336.5h0M239.5 327h0M226.1 341.4h0M233.6 331h0M282.9 278.9h0M209.8 317.1h0M249.3 318.9h0M231.4 314.3h0M216.2 322.3h0M233.2 324.8h0M209.9 314.2h0M201.5 319.8h0M201.6 321.4h0M214.4 319.5h0M226.9 318h0M229.3 322.3h0M200.3 317.9h0M222.2 319.4h0M213.3 327h0M216 313h0M212.5 320.4h0M216.2 312.5h0M207.8 313.2h0M214.5 319.7h0M214.6 316.8h0M223.3 333.4h0M206.2 319.2h0M203.5 313.1h0M227.9 317h0M208.1 315.8h0M200.4 313.1h0M190.2 326.2h0M211.1 316.6h0M219.9 313.3h0M214.7 318.4h0M208.6 320.4h0M195.4 322h0M198.2 327.6h0M210.5 311.9h0M199.3 327.3h0M210.9 319.3h0M217.6 316.2h0M231.3 317.8h0M208.8 314.7h0M216.7 315.1h0M215.5 319.4h0M217.3 317.6h0M213.1 322.1h0M201.7 317.3h0M210.2 324.1h0M217.7 311h0M221.5 311.9h0M200.5 317.7h0M189.9 320.2h0M215.5 327.1h0M218.9 318.3h0M231.7 312.4h0M219.6 318h0M185.1 319.1h0M226.3 312.4h0M204.9 328.1h0M197 312.9h0M226.3 307.3h0M209.7 318.8h0M219.3 317.2h0M229.7 322.8h0M211.5 318.8h0M231.2 319.6h0M217.5 319.9h0M213.8 320.1h0M226.1 317.2h0M222.3 313.7h0M213.4 321.6h0M207.7 312.8h0M205 311.1h0M242.2 316.9h0M210 320.1h0M209.7 317h0M215.5 316.9h0M217.1 321.5h0M215 318.3h0M218.7 317.3h0M199.1 312h0M204.8 315.5h0M205.9 320.6h0M197 342.5h0M213.3 352.1h0M193.4 347.9h0M208.8 360.3h0M219.6 351.1h0M201.3 342.7h0M206.7 362.9h0M198.8 350.5h0M215.5 348h0M207 341.2h0M205.5 348.6h0M192.9 365.3h0M203 351h0M181.9 356.9h0M186.1 351.1h0M199.7 358.2h0M206.6 352.3h0M184.3 348.5h0M209 349.4h0M191.7 349.5h0M201.1 355.2h0M190.6 363.6h0M192.9 355.8h0M194.2 364.9h0M211.7 363.6h0M193 359.7h0M185.7 364.1h0M194 353.2h0M211.9 345.7h0M192.1 360h0M205.2 346h0M198.5 354.2h0M213.7 350.6h0M193.8 349.9h0M180.7 356.4h0M201.9 367.6h0M200 359.3h0M190.5 333.6h0M195.3 332h0M186.7 363h0M209.3 353.3h0M213.3 365.8h0M194.7 349.3h0M195.5 351.6h0M201.2 354.9h0M191.3 342.9h0M201.4 351.3h0M200.4 352.3h0M204.4 347.4h0M183.3 362.9h0M187.6 357.6h0M206.2 334.6h0M199.7 343.8h0M221.1 364.6h0M200.3 354.7h0M194 346h0M210.8 365.5h0M191.7 353.7h0M218.6 352.3h0M187.9 345.4h0M257.9 359.1h0M260.4 360.5h0M259.8 363.6h0M260.4 361.8h0M268.9 364.1h0M256.3 362.6h0M272.7 359.4h0M265.6 362.5h0M271.8 362.8h0M274.2 361h0M261.7 362.2h0M271.6 367.5h0M262.9 360.6h0M263.8 363.8h0M254.9 364.8h0M247.8 362.1h0M263.1 362.1h0M256.7 364.9h0M256.5 360.7h0M263.4 362h0M254.7 364.8h0M260 361h0M262.4 365.4h0M259.1 365.6h0M257.7 361.9h0M293.1 372.6h0M298.5 370.6h0M298.5 367.6h0M295.1 367.2h0M289.5 365.1h0M303.8 377h0M303.2 377h0M300.1 366.9h0M299.6 371h0M299.8 370.6h0M291.1 370h0M293.9 370.1h0M304.5 366.6h0M292.8 378h0M293.7 373.2h0M295.1 375.4h0M297.2 369.7h0M303.2 370h0M297.8 367.2h0M294.8 372.6h0M299.4 371.7h0M292.2 379.4h0M298 375.1h0M304.7 372.7h0M303.3 372.6h0M192.8 490.1h0M189.8 487h0M199.3 492.9h0M194.2 485.7h0M188.1 480.6h0M199.4 483.6h0M205.4 485.2h0M187.7 484.8h0M192.5 490.9h0M191.7 487.2h0M194.7 489.9h0M194.5 482.3h0M190 482.7h0M195.4 486.2h0M194.4 481.6h0M189.8 485.7h0M185.4 483.7h0M197 486.8h0M200.4 486.1h0M187.9 478h0M196.4 488.9h0M193.4 486h0M191.3 482.2h0M204.9 489.7h0M194.7 484.7h0M193.1 482.7h0M195.6 486.8h0M188 488.5h0M199.3 489.6h0M190.8 485.6h0M315.5 620.7h0M309.1 621.3h0M314.8 631.4h0M313.6 620.8h0M319.6 629.4h0M312.2 621.7h0M314.3 628.6h0M308.7 620.1h0M319.3 622.3h0M314.4 625.9h0M314.2 621.7h0M307.3 627.7h0M313.7 628.6h0M315.8 627.8h0M313.9 629.9h0M314.9 619.3h0M312.8 624.8h0M315.2 620h0M316.1 617.2h0M314.9 619.9h0M316.5 623.9h0M314.9 628h0M313.6 634.4h0M310.6 624.2h0M310.6 627.6h0M316.8 626.4h0M316.4 619.2h0M311.2 624.8h0M316.7 624.3h0M314.1 621.1h0M235.6 463.8h0M246 457.5h0M244.7 464.2h0M228.2 460.6h0M239.6 465h0M240.3 472.8h0M245.9 466.2h0M247.9 470.5h0M248.3 464.8h0M236.8 459.2h0M248 458.2h0M240.9 462.4h0M243.9 472.3h0M251.8 475h0M253.3 472.7h0M250.7 464.6h0M244.8 465.1h0M244.2 467.9h0M178.4 242.5h0M184.3 243.8h0M190 242.7h0M183.8 244.8h0M182.4 247.8h0M191.6 250.6h0M185.3 243h0M188.6 244h0M178.5 248h0M185.6 241h0M177.8 246.6h0M179.7 241.2h0M189.8 253h0M181.8 238.8h0M193.2 243.2h0M194.4 239.8h0M192.7 234.9h0M195.1 247.1h0M182 240.2h0M195.1 251.8h0M185.7 254.1h0M186.9 247.3h0M181.4 244.8h0M188.3 250.3h0M192 243.2h0M183.3 252.6h0M192.8 243.1h0M176.6 246.9h0M189.2 244h0M179.8 250.3h0M178 250.7h0M184 246.5h0M182.5 247h0M194.6 240.6h0M186.2 250.2h0M186.6 245.6h0M187.5 246.7h0M188.6 247.6h0M188.8 245.9h0M187.9 247.8h0M182.6 243.6h0M187.9 249.2h0M184.9 244.6h0M186.2 247.1h0M182.7 237.1h0M181.9 238.4h0M188.9 241.6h0M181.3 244h0M188.1 247.5h0M176.8 242.3h0M184.8 240.1h0M185.5 245.2h0M184.8 242.9h0M186.3 238h0M181.1 250h0M180.8 241.5h0M176.4 240.6h0M184.8 246.6h0M179.7 243.8h0M190.6 250.8h0M185 244.9h0M183.7 247.1h0M185 247.4h0M184.3 237.4h0M184.1 245.5h0M190.3 251.5h0M185.9 235.4h0M190.6 241.1h0M183.8 253.5h0M187.4 237.9h0M304.4 313.6h0M311.5 316.5h0M311.5 312.9h0M312.4 325.5h0M307.1 306.3h0M309.7 319.9h0M309.4 310.8h0M306.6 320h0M309.4 322.1h0M311.1 312.7h0M306.3 312.7h0M310.3 315.4h0M309.5 317.7h0M310.8 320.2h0M318.6 334.9h0M310.4 326.8h0M313.1 327.1h0M306.8 315.9h0M305.6 311.2h0M312.4 323.5h0M311.6 322h0M307.8 315.6h0M310.5 318.3h0M310.7 336.8h0M308 321.7h0M307.5 308.7h0M307.9 315.9h0M307.3 327.2h0M306.1 306.8h0M310.2 315.7h0M308.9 315.6h0M308.2 321.5h0M316.4 333.5h0M308.5 323.4h0M312.5 328h0M315.7 331.5h0M312.6 325.5h0M310.7 308.7h0M305.5 311.1h0M308.6 320.4h0M312.2 320.9h0M312 329.7h0M308.2 321.3h0M310.8 322.2h0M313.6 329.6h0M309.6 330h0M307.1 313.3h0M304.4 318.8h0M314.2 333.5h0M309.3 314.4h0M288.9 313.8h0M282.7 313.1h0M310.7 324.7h0M295.7 335.2h0M274.6 314.3h0M306.6 326.3h0M287 310.2h0M304.5 324.6h0M280 318.8h0M294 316h0M292.4 311.9h0M312.2 318.4h0M301.8 318.8h0M288.3 324.5h0M303.2 329h0M267.3 307.4h0M282 325.1h0M288.9 323.4h0M309.4 324h0M293.2 315.1h0M306.8 328.9h0M293.2 332.6h0M306 308.9h0M296.6 316h0M274.9 322.6h0M292.7 318.3h0M297.8 319.5h0M284.2 313.7h0M284.8 328.3h0M277.6 327.5h0M283.3 304h0M286.5 307h0M288.5 308.3h0M313.3 328.2h0M286 317.8h0M283.2 300.1h0M294.4 315.3h0M283.8 316h0M283.4 314.5h0M265.2 324.9h0M276.1 317.1h0M284.2 333.6h0M297.9 316.4h0M295.4 321.3h0M292.1 328.8h0M289.7 320.3h0M291.5 317.1h0M272.6 321.7h0M309.3 316.4h0M307.8 306.6h0M268.8 315.7h0M280.3 315.6h0M266.6 320.8h0M289.5 326.9h0M292.1 325.8h0M311.6 300.5h0M288.8 319h0M283.8 310.3h0M296.4 317h0M299.3 310h0M303.6 331.2h0M297.7 329.1h0M284.1 317h0M294 313.1h0M297.7 311.5h0M297 316.8h0M281.2 315.9h0M278.2 321.1h0M287.8 312.6h0M296.4 333h0M306 310.9h0M279.8 326.2h0M298.2 309.2h0M288.3 316.1h0M275.6 324.8h0M270 328.1h0M255.4 311.6h0M296.7 321h0M284.6 312.8h0M304.6 317.9h0M287.7 307.6h0M295.3 318h0M307.2 315.6h0M311.3 316.3h0M285.9 321.7h0M289.6 322h0M303.9 308.5h0M272.2 320.4h0M271.4 320.1h0M283.4 329.8h0M309.6 312.6h0M289.6 337.6h0M305.2 324.9h0M287.7 307.6h0M307.5 312.1h0M299.3 304.9h0M286.1 307.9h0M289.8 321.1h0M290.3 328.4h0M291.8 321.6h0M291 309.8h0M300.1 313.7h0M283.3 315.7h0M279.8 323h0M276.1 318.4h0M279.7 314.9h0M285.7 316.9h0M295.2 312.1h0M247.1 320.6h0M299.9 321.3h0M296.1 291.8h0M305 319.5h0M280.3 316.1h0M277.3 321.8h0M295.5 321.9h0M275.8 310.5h0M277.8 318.5h0M288.1 319.4h0M294.1 319.8h0M281.6 313.4h0M375.9 302.9h0M370.1 310.9h0M372.6 303.8h0M374.9 294.6h0M371.9 309.8h0M376.2 303.2h0M381.7 289.5h0M378.9 313.7h0M383.5 292.4h0M372.8 308.8h0M375.1 298.9h0M375.4 293.8h0M373.3 291.3h0M366.6 310.3h0M372.7 311.1h0M379.3 306.1h0M380.2 302.8h0M376.7 297.5h0M375.7 304.5h0M376.5 300.2h0M382.5 295.6h0M371.6 302.5h0M374.6 306.4h0M368 307.9h0M373.8 298.8h0M375.6 307.3h0M363.1 310.9h0M378 312.1h0M376.1 297.9h0M377.6 295.2h0M36.6 464.8h0M27.6 465.3h0M41 463.6h0M30.9 464.3h0M26.8 464.1h0M31 466.9h0M35 459.3h0M38.3 464.4h0M482 424.2h0M483.3 424.3h0M481.6 425.8h0M482.3 425.5h0M481.3 425.6h0M481.8 425.4h0M481.7 425h0M480.6 424.1h0M482.4 424.2h0M481 425.7h0"/>
<path stroke="#b9a530" d="M170 388h0M167.7 380.3h0M127.3 413.5h0M129.5 346.8h0M160.2 410.9h0M106.8 380.4h0M89.5 410.4h0M158.2 402h0M123.5 430.8h0M76.1 328.8h0M143.4 330.8h0M138.6 342.6h0M96.5 375.7h0M164.5 355h0M116 324.4h0M97.9 376.6h0M158 400.1h0M109.9 370.6h0M156.7 398.9h0M191.6 369.4h0M217.3 340.9h0M227.2 340.2h0M316.9 454.6h0M320 463.6h0M302.8 420.9h0M328.7 454.2h0M316.3 419.9h0M354.3 427.7h0M339.1 447.5h0M340.6 422.6h0M312.9 453.2h0M319.3 460.9h0M309.3 458.9h0M355 454h0M307.9 443.8h0M316.7 455.2h0M453.8 442.1h0M478.8 456.2h0M458.9 535.8h0M466.7 442.4h0M439.1 468.6h0M481.6 490.2h0M444.1 506.4h0M444.3 514.1h0M446.7 502.6h0M400.1 498.1h0M435 442.3h0M471.6 506.1h0M472.8 501.1h0M430.4 505.4h0M433.3 463.1h0M440.1 502.6h0M464.7 444.3h0M394.7 498.2h0M464 482.8h0M403.5 452.1h0M485.2 485.7h0M382.9 492.6h0M458.9 509.3h0M372.4 469.1h0M420.1 479.2h0M465.6 493.9h0M493.3 488.6h0M464.2 528.9h0M408 498h0M508.8 484.8h0M416.1 446.5h0M456.3 466.3h0M481.8 433h0M394 505.2h0M487.3 510.2h0M398.1 521.7h0M480.7 489.7h0M375.4 496.5h0M457.7 512.5h0M417.1 492.9h0M377.3 503.4h0M450.8 536.8h0M390.3 491.3h0M394.9 522.3h0M429.9 519.1h0M474.6 500.3h0M457.4 527.8h0M389 496.3h0M401.1 492.2h0M436.2 494.2h0M418.1 509h0M446.8 501.4h0M427.6 496.5h0M486.3 515.7h0M420.9 537.8h0M425.1 534.7h0M444.2 531.6h0M356.1 541.6h0M416.6 538.5h0M396 536.1h0M370.4 542.4h0M414.5 526.5h0M389 534h0M365.3 529.7h0M354.4 531.9h0M379.8 537.9h0M352.2 536.1h0M404.9 528h0M374.3 540.1h0M385.1 538.2h0M431.6 525.4h0M446.7 531h0M364.4 531.1h0M346.9 539.9h0M366.2 532.1h0M351.9 536.8h0M366.4 533h0M358.6 521.8h0M372.3 530.3h0M363 524.2h0M353 542h0M404 527.6h0M354.1 533.8h0M456.3 531.4h0M387.8 534.7h0M450 522.9h0M365.1 528.3h0M361 538.5h0M383.8 530.3h0M371.3 532.9h0M447.2 532.1h0M348.3 534.6h0M411.4 532h0M366.9 529h0M416.2 533.1h0M362.6 529.1h0M362.1 528.5h0M348.3 536.1h0M374 535.1h0M451.9 530.7h0M383.1 537.9h0M444.4 533.2h0M352.9 535.1h0M395.5 529.9h0M385.2 532h0M378.9 530.9h0M408.5 534.1h0M353.5 537.1h0M385.4 532.8h0M379.3 539.5h0M360.7 530.2h0M437.9 527.1h0M426.4 538.8h0M384.3 532.8h0M451 527.1h0M348.2 537.7h0M421.4 525.4h0M358.7 535.8h0M362.9 526h0M386.8 534.4h0M365.5 527.6h0M360.6 530.1h0M350.5 540.6h0M360.1 527.4h0M401.9 533.9h0M371.2 537.8h0M394.1 537.6h0M405.6 528.8h0M452.1 530.4h0M385.9 532.5h0M451.4 529.4h0M413.2 537.6h0M364 533h0M389.2 532.6h0M415.2 527.9h0M360.9 535.1h0M448.1 529.6h0M400.4 543.4h0M375.4 537.1h0M416.3 536.2h0M363.5 531.7h0M413.3 534.2h0M354.2 528.6h0M365.6 538h0M375.7 535.1h0M399 537.4h0M363 535.6h0M408.1 530h0M354.2 539.8h0M387.3 530.6h0M350.2 536.5h0M418.8 533h0M359.1 540.7h0M454.7 525.8h0M418.5 531h0M381.4 534.4h0M369 526.3h0M357.2 534.4h0M409.3 529.7h0M408.7 533.8h0M352.2 542.7h0M417 535.1h0M364.8 528h0M351.1 541.6h0M398.7 530.6h0M422.8 528.7h0M351.4 534h0M362.2 529.6h0M430.2 530.4h0M365.7 540.1h0M363 541.6h0M454.6 526.7h0M365.6 532.2h0M364.3 538.7h0M457.2 525.1h0M398.1 536.4h0M367.7 528h0M387.6 536h0M365.8 531h0M348 538.6h0M413.4 527.4h0M356.7 533.6h0M359.1 542.4h0M369.6 532.9h0M359.9 524.3h0M362.9 531.8h0M443.7 531.9h0M453 525.4h0M379.9 532h0M444.1 532.3h0M416.3 525.3h0M387.9 530.3h0M358 530.2h0M430.1 528h0M351.6 537.6h0M367.6 523.5h0M392.2 533.8h0M433.3 527.7h0M355.8 533.9h0M356.2 537.1h0M414 534h0M402.3 536.6h0M351 540.5h0M370 529.2h0M414.4 531h0M417.1 534.5h0M375.3 537.2h0M395.3 536h0M369.4 535h0M350.4 538.6h0M361 534.9h0M377.5 539h0M393.9 538.2h0M409.7 534.6h0M354.5 536.3h0M372.5 541.3h0M412.1 526.9h0M348.8 530.2h0M449.5 530.2h0M436.3 525.1h0M364.1 528.3h0M389.2 534.8h0M389.9 531.2h0M378.1 537.3h0M454 528h0M375.4 538.2h0M450.7 529.3h0M359.9 535.7h0M391.2 533.8h0M371.5 527.2h0M363.2 538.6h0M401.1 530.2h0M367.1 532h0M364.8 524.2h0M447.9 525.8h0M364.3 525.2h0M363.7 533.1h0M451.1 531.3h0M364.6 532.3h0M357.5 536h0M407.5 540.7h0M363.5 533.2h0M411.7 533h0M416 532.5h0M364.4 529.2h0M402.8 539.3h0M367.4 530.9h0M456.4 529.8h0M386.6 536.7h0M361.8 533.8h0M360.4 542.4h0M347.7 539.3h0M362.6 534.4h0M358.2 602.7h0M376.7 599h0M373.8 621.1h0M342 606.5h0M332.9 625.3h0M373.2 677.4h0M339.4 638.7h0M397.7 657.4h0M387.1 660.6h0M407.7 648.1h0M355 645.3h0M368.3 584.4h0M329 659.4h0M378.3 636.3h0M378.4 587.4h0M354.4 627.7h0M343.6 625.4h0M81.3 555.9h0M75.4 562.6h0M172 482.2h0M79.2 503.2h0M83.6 526.1h0M186.3 483.1h0M95.2 558.4h0M44.9 569.9h0M93.9 480.9h0M111.5 579.7h0M99.5 475h0M89.2 550.1h0M92.8 479.5h0M90.8 503.5h0M96.8 556.8h0M164.6 515.8h0M96.6 559.5h0M73.1 505.1h0M77.9 563.6h0M44 567.6h0M179.4 486h0M175.3 498.2h0M40.8 559.2h0M40.7 570h0M183.3 492.5h0M113.4 573.5h0M54 566.7h0M98.8 474.5h0M168.1 560.2h0M97.6 470.3h0M173.2 578h0M136.5 485.5h0M163.1 525.6h0M170.8 480.6h0M46.8 553.5h0M85.2 485.6h0M148.1 574.9h0M103.5 560.7h0M107.8 487.7h0M70.3 506.4h0M97.5 548.7h0M43.3 562.6h0M173.2 479.6h0M170.5 516.7h0M187.8 482.3h0M116.7 493.2h0M170.6 561.1h0M84.5 498.3h0M164.7 477.2h0M42.4 550.9h0M91.8 502.3h0M178.3 482.2h0M63.5 544.3h0M172.2 506.5h0M166.1 539.6h0M42.8 567.8h0M104.1 478h0M87.1 489.2h0M78.3 565.6h0M167.1 503.5h0M107.4 487.6h0M78.6 518.1h0M166.2 525.1h0M82.6 505h0M163 548.4h0M134.5 473.2h0M39.1 567.1h0M104.8 566.7h0M163.3 530.4h0M172.8 577.4h0M88.2 506.8h0M74 519.4h0M74 513.1h0M100.8 474.9h0M152.5 478.4h0M62.2 573.2h0M88.5 497.1h0M121.6 486.4h0M41.4 556.6h0M71.6 572h0M162.2 579.4h0M168.9 523.7h0M178 493h0M39.1 560.2h0M78.8 564.9h0M165 549.4h0M173.9 502.2h0M66.1 541.9h0M97 561.2h0M68.3 535.7h0M45 554.8h0M75.3 532h0M90.1 482.3h0M67.4 510.1h0M118.3 578h0M90.7 502.6h0M107.1 571.3h0M164.1 548.9h0M160 482.3h0M95.7 482.1h0M167.8 504.7h0M92.3 489.7h0M104.5 476.3h0M34.3 563h0M102.4 476.2h0M151 574.8h0M169.2 539.8h0M100.5 564.2h0M75.6 508.7h0M77.5 560.9h0M78.6 528.9h0M167.5 547h0M44.8 564.3h0M83.5 565.4h0M78.9 562h0M171.9 540.7h0M112.5 574.9h0M69.7 506.9h0M85.4 496.2h0M100.9 471.1h0M60.5 571.3h0M118 577.4h0M103.2 479.5h0M66.4 540.3h0M75.2 569.1h0M186 480.6h0M71.6 543.9h0M167.3 512.3h0M90.8 489h0M118.2 576.7h0M65.9 511h0M97.6 559.9h0M176.9 494.8h0M167.5 567.4h0M184.1 480h0M172.2 502.9h0M90.7 484.4h0M148.6 474.9h0M70.8 514.2h0M74.2 523.5h0M158.3 573.9h0M97.9 557.8h0M108.1 567.4h0M100.8 562.7h0M72 507.4h0M75.7 553.8h0M72.5 571.6h0M106.6 570.3h0M170.1 552.6h0M89.1 489.5h0M75.5 524h0M77 530.6h0M169.3 547.7h0M98.6 479.5h0M145.6 474.4h0M90 488.6h0M98.6 478.5h0M121.8 491.4h0M165.3 525.7h0M95.1 554.3h0M105.8 565.2h0M90.7 553h0M75.3 504.4h0M75 561.7h0M49.3 566.2h0M40.8 566.7h0M130.6 486.8h0M181.9 478.2h0M57.4 544.9h0M102.6 476.6h0M83.5 550.4h0M170.2 574h0M154 476.4h0M88.2 500.2h0M57 567.7h0M107.4 563.2h0M72.3 523h0M62.1 568.5h0M78.7 568.6h0M180.1 482.8h0M74.3 530.6h0M126.3 486.9h0M73.2 529.5h0M94.9 495.1h0M158.3 475.9h0M81.2 512.8h0M90.4 500.4h0M92.9 478.2h0M174.1 480.4h0M83.2 508.5h0M85.2 552.1h0M165.5 508.7h0M67.5 569h0M63.4 546.7h0M137.7 472.5h0M96.3 474.9h0M97.8 559h0M163.8 482.9h0M90.1 485h0M68.8 513.1h0M163.1 481.5h0M87.8 495.8h0M89.4 502h0M184 480.1h0M132.8 481h0M86.6 495.9h0M69.6 534.2h0M39.1 565.3h0M110.1 487.6h0M52.2 545.5h0M169.3 580.7h0M51.7 569.7h0M78.3 568.5h0M165.4 576h0M191.2 478.1h0M167.6 515.7h0M50.4 545.9h0M78.5 557.5h0M44.7 573.2h0M40.1 556.8h0M69.9 523.3h0M87.9 546.9h0M51.7 550.7h0M160.2 476.3h0M186.4 483h0M66.5 509.6h0M88.6 502.6h0M126.5 577.1h0M98.1 550.2h0M100.4 479.8h0M93.6 486.3h0M116.7 580.4h0M92.2 556.3h0M159 570.8h0M76.1 525.9h0M168.7 527.4h0M177.8 477.2h0M124.1 579h0M95.8 560.1h0M123.4 489.7h0M76.4 571.3h0M39.9 565.8h0M153.6 569.7h0M179 485.3h0M52 549.6h0M186.4 474.9h0M157.8 568.9h0M168.3 574.5h0M78.5 563.3h0M140.5 576.8h0M136.7 577.6h0M158 573.2h0M65.3 516.9h0M187 487.6h0M99.3 472.4h0M44.5 565.5h0M163 553.1h0M101.2 564.1h0M171.3 549h0M105.2 488.2h0M157 479.8h0M179.3 488.9h0M114.8 492.1h0M82 559.2h0M49.8 552.4h0M51 548.3h0M75.8 523.6h0M67.1 511.3h0M83.7 488.7h0M133.7 476.5h0M177.9 499.5h0M48.4 565.9h0M123.2 485.5h0M100.7 478.8h0M127.1 570.3h0M165.1 478.9h0M124.1 487.3h0M166.9 576.4h0M169.6 579.3h0M185.8 485.2h0M90.7 492h0M127.1 582.8h0M97.9 479.9h0M66.3 509.6h0M164.1 516h0M170.6 577.9h0M74.2 524.7h0M181.9 485.2h0M79 557h0M170.8 478.8h0M127.9 482.7h0M113.7 567.8h0M142.6 576.3h0M88.8 503.7h0M112.1 491.4h0M76.1 524.5h0M146.1 473.1h0M112.2 573.7h0M105.1 572.1h0M87.9 482.6h0M169.5 533.4h0M170 540.3h0M128 584.3h0M106.5 480.8h0M88.5 496.7h0M90.2 486.6h0M75.4 500.7h0M78 568.6h0M172.2 544.5h0M52.2 573.5h0M36.3 562.4h0M87.6 481.9h0M135.4 484h0M100.2 474.5h0M181.3 494.5h0M71.3 518.7h0M72.2 518.6h0M95.6 550.4h0M60.5 545.1h0M102.1 482.3h0M83.3 506.3h0M156.9 480h0M154.8 476.5h0M62.1 571.3h0M111.2 569.2h0M88.9 491.7h0M132.8 577.9h0M152.5 572.2h0M39.9 565.2h0M110.6 492.6h0M100 470.4h0M141.8 476.6h0M165.9 568.2h0M89.5 485.9h0M91.3 493.9h0M90 551.2h0M77.5 566.7h0M168.4 568h0M136.3 483h0M184.8 483.6h0M47.9 545.4h0M101.1 557.9h0M44.2 567.7h0M166.1 516.6h0M103.8 484.4h0M83.8 529.1h0M169.2 511.7h0M53.8 547.7h0M138.9 574.5h0M56.9 549.4h0M149.3 566.8h0M108.1 560.3h0M53.1 546.4h0M98.3 480.1h0M66.4 566.4h0M165.2 566h0M149.2 572.5h0M78.5 504.7h0M95.2 550.8h0M75.8 523.6h0M93.9 480.6h0M47.1 566.2h0M178.7 493.7h0M76.1 530h0M88.1 504.3h0M70.5 514.1h0M111.3 490h0M157 480.9h0M100.9 563.8h0M122.6 582h0M50.1 546.2h0M162.3 482.8h0M145.1 572.7h0M148.9 580.2h0M122.9 578.9h0M162.4 476.5h0M168 537.5h0M171 577.3h0M166.9 566.6h0M87.5 497.8h0M126.9 578.8h0M39.9 564.4h0M159.9 477.7h0M167.7 508.5h0M136.2 573.6h0M94.9 480.4h0M89.6 493.2h0M188 475.4h0M57.7 570.5h0M159.9 531.3h0M107 484.9h0M91.5 484.9h0M166.1 476.9h0M151.1 477.1h0M36.7 554h0M48 574.6h0M73.4 562.4h0M112.3 493.5h0M107.5 568.1h0M83.3 552.5h0M116.4 490.6h0M91.7 500h0M169.2 498.9h0M83.3 491.9h0M106.3 491.3h0M149.5 474.3h0M69.2 512.8h0M51.9 569.6h0M166.8 535.1h0M49.4 556.8h0M160.9 523.2h0M54.4 571.5h0M99.8 469h0M118.1 577.1h0M38.8 564.4h0M39.1 560.8h0M49.9 567.2h0M73.1 514.1h0M76.9 555.1h0M68.5 567.7h0M134.7 474h0M100.6 563.6h0M84.2 491.7h0M88.9 489.9h0M166.4 553.2h0M168.7 576.8h0M82.8 505h0M153.3 474.5h0M90 486.9h0M55.7 572.9h0M42.7 571.2h0M175.1 571.3h0M168.7 567.4h0M102.4 472h0M72.1 505.2h0M85.9 499.5h0M167.8 482.6h0M164.6 473.9h0M72.2 508.1h0M60.3 570h0M66.7 574.3h0M106.2 479.2h0M172.8 574.7h0M114.6 568.3h0M129 577.9h0M80.2 557.7h0M111 491.3h0M134 575.5h0M169.1 568.4h0M73.6 506.6h0M164 527h0M102.7 568.5h0M166.7 518.3h0M139.6 576.5h0M179.6 496.2h0M96.4 562.9h0M180.6 480.9h0M173.6 544.9h0M168 564.1h0M38.3 561.9h0M179.7 481.4h0M65.1 514.1h0M94.7 473h0M38.5 564.2h0M81.9 551.7h0M74 561.1h0M180.1 484.6h0M89.9 556.3h0M88.1 481.6h0M42.9 551.5h0M74.9 524.2h0M62.9 536.8h0M157.3 573.8h0M168.3 515.3h0M185.9 482.1h0M164.6 510.8h0M91.8 512.4h0M100.6 512.7h0M82.8 516.2h0M85.9 504.4h0M72.7 515.7h0M72.2 514.2h0M86.8 504.5h0M79.6 505.4h0M94.5 509.2h0M87.1 519.3h0M83 519h0M94.7 511.2h0M90.9 512.2h0M92.1 519.4h0M94.9 506.2h0M82.3 518.5h0M70.3 505.7h0M96.8 509.9h0M62.9 529h0M56.2 544.8h0M70.2 544.6h0M43.2 560h0M69.8 532.9h0M48.4 538.2h0M53.5 541.4h0M78.5 542.2h0M73.2 542.6h0M48.8 557.6h0M40.9 565.3h0M46 540.5h0M55 546.2h0M61.4 535.9h0M59.8 552.3h0M48.5 545h0M70.5 528.9h0M72.4 527.9h0M48.1 567.7h0M57.7 534.7h0M62.9 539h0M38 551.2h0M68.9 535.3h0M89.1 535.8h0M44.3 558.1h0M60.2 536h0M35.6 559.9h0M45.6 541.8h0M78.3 539.2h0M41.4 547.3h0M41.7 550.3h0M43 561.6h0M49 551.4h0M48.4 542.6h0M39.6 556.5h0M85.5 533.7h0M50.8 560.9h0M62.1 532.8h0M78.6 534.9h0M45.3 560h0M81 529.4h0M57.4 542.8h0M52.7 623.6h0M30.6 636.3h0M44.4 628.1h0M52.8 623.5h0M31.8 627.5h0M39.1 629.4h0M43.1 617.6h0M139.6 689.4h0M153.7 662.4h0M125.5 652h0M148.6 640.2h0M189.1 641.3h0M179.3 699.2h0M137.6 669h0M121.6 671.1h0M119.5 665.8h0M174.1 703.2h0M175 655h0M128.9 679.8h0M157.4 704.1h0M160.2 662h0M145.7 697.3h0M160.2 633.9h0M177.8 675.6h0M177.9 652.6h0M141 671.3h0M157 645.6h0M161 632.9h0M147.8 677.9h0M143.4 688.1h0M145.1 650.2h0M140.8 685.7h0M136.7 660.6h0M123.9 667h0M142.7 682h0M218.4 601.2h0M210.8 585h0M225.9 602.7h0M216.4 600.6h0M198 602.3h0M206.2 589.1h0M242.3 587.9h0M242.7 603.5h0M200.5 615.2h0M197.6 616.3h0M269.9 674.4h0M207.9 704.3h0M211.9 657.3h0M217.3 685.7h0M203.9 642.6h0M267.2 668.2h0M243.1 702.8h0M213.1 699.3h0M258.6 688.1h0M218.1 725.5h0M208.9 653.5h0M210 698.3h0M216 711.9h0M245 668.9h0M210.9 658.8h0M230.2 725.5h0M228.7 657.3h0M231 720.4h0M243.5 675.7h0M241.8 715.6h0M244.5 675.7h0M222.8 655.1h0M249.1 714.1h0M231.5 687.7h0M200 713.3h0M231 711.7h0M244.2 682.8h0M248.6 688.9h0M240.7 693.2h0M248.7 689.5h0M239.5 693.4h0M246.7 694.5h0M248.8 696.7h0M247.5 696.4h0M240.1 691.1h0M243.8 689.4h0M244.8 689.7h0M246.7 690.9h0M242.3 688.5h0M241 689.6h0M453.4 527.6h0M458.7 530.1h0M455.2 533.8h0M460.6 532.3h0M450.9 533.4h0M455.9 537.3h0M462.3 525h0M469.4 527.3h0M460.6 523.6h0M458.5 524.9h0M466.4 527.8h0M449.8 532h0M455.3 528.4h0M448.5 539.8h0M451.8 530.6h0M461.5 527.2h0M456.8 531.1h0M446.9 531.7h0M438.5 534.2h0M459 535.8h0M454.1 534.5h0M454.7 532.6h0M460.7 530.7h0M464.2 531.4h0M461.5 530.4h0M466.6 525.3h0M463.2 526.7h0M452.1 534.2h0M455.7 529h0M463.4 534.5h0M40.4 348.4h0M35.5 345.2h0M35.9 343.4h0M32.8 342.4h0M33.5 345.5h0M35.7 344.1h0M38.6 343.2h0M38.6 342.6h0M33.9 344.9h0M33.5 344.2h0M34.6 343h0M37 344.5h0M37.1 343.2h0M35.4 344.2h0M35.3 346.6h0M42.9 344.2h0M87.7 526.9h0M52 539.7h0M42.2 524.5h0M84.6 531.3h0M67.5 530.3h0M75.7 534.3h0M72.7 529.8h0M76.9 537.4h0M95.1 529h0M54 528.4h0M52.5 523h0M50.5 543.9h0M105.6 527.6h0M46 528.5h0M43.7 539.7h0M26.5 545.8h0M74.2 533h0M56.1 537.7h0M60.5 554.6h0M60.8 538.3h0M65.5 523.2h0M56.8 540.7h0M91.3 517.6h0M74.3 521.7h0M53.6 537.8h0M63.3 532h0M82.7 542h0M50.9 543.6h0M89.8 539.1h0M60.1 550.8h0M69.8 545h0M79.9 541.8h0M80.2 538.6h0M73.6 526.5h0M41.1 547.9h0M65.3 538.7h0M59 530h0M73 527.9h0M59.1 534.9h0M55.2 544.1h0M104.4 532.7h0M70.4 547.7h0M77.8 544.7h0M55.2 534.5h0M81.8 534.3h0M72.3 526.7h0M60.4 533.4h0M65.4 553h0M44 533.1h0M65.6 535.2h0M46.2 538.5h0M49.8 549.5h0M52.4 535.9h0M49.3 529.2h0M103.5 530.1h0M54.5 531.4h0M77.8 523.9h0M69.7 529.2h0M68.5 524.6h0M74.1 530.4h0M54.7 544.8h0M70.8 536.3h0M56.1 539.7h0M56.7 526.3h0M84.7 532.2h0M63.9 531.5h0M37.3 553h0M48.1 519.9h0M87.1 527.2h0M74.1 549.9h0M69.8 528.1h0M47.3 550.1h0M85.8 522.4h0M52.2 542.2h0M80 516.5h0M99.4 523.6h0M52.1 541.7h0M64.8 533.8h0M64.8 538.2h0M59.7 521.3h0M53.4 533.2h0M47.5 546.1h0M79.9 529.2h0M104.5 520.5h0M70.9 535.8h0M57.6 541.2h0M58.2 539.9h0M69.5 540.1h0M82.2 532.2h0M91.9 533.4h0M56.8 540.8h0M56.5 524.2h0M77.7 536.2h0M88.8 533.3h0M47.9 537.3h0M53.3 530.1h0M71.9 526.7h0M58.1 534.2h0M58 551.2h0M61.2 545.4h0M27.3 532h0M93.7 519.8h0M60.5 528.9h0M99.3 518.6h0M24.1 561.3h0M78 539.7h0M43.3 536.4h0M68.6 531h0M71.1 537.2h0M39.1 553.4h0M64.8 527.3h0M95 524.4h0M63.2 536.6h0M83.9 538.2h0M52 538.7h0M86.5 523h0M73.7 527.9h0M74.8 526.4h0M65.1 534.9h0M77.2 525.3h0M61.5 530.5h0M61.8 534.7h0M79.9 535.3h0M53.8 558.2h0M69.7 532.5h0M69.7 534.2h0M40.6 544.7h0M65.2 528.9h0M73.5 540.9h0M96.9 526.9h0M102.6 512.1h0M86.5 535.1h0M53.5 541.3h0M95.9 521h0M120.1 535.6h0M74.1 547h0M80.9 532.5h0M52.2 534.8h0M68.9 537.8h0M53.9 543.2h0M64.3 537.5h0M73.2 540.7h0M102.1 513.6h0M66.4 536.8h0M67.5 529.6h0M62.5 542.6h0M34.5 553.7h0M86.4 522.5h0M40.4 552.2h0M66.7 531.3h0M65.6 532.2h0M111.9 522.3h0M93 519.2h0M99.5 517h0M63 535.9h0M53.9 536.3h0M95.6 523.1h0M74.9 532.3h0M34.3 543.4h0M43.8 545.7h0M72.4 538h0M73.5 546.4h0M83.3 542.5h0M65.9 519.3h0M102.7 525.8h0M67.7 541h0M54 536.1h0M100.3 532.3h0M55.9 550.6h0M84.4 524.1h0M84.7 543.3h0M63.2 531.4h0M75.4 536.4h0M58.8 530.9h0M52.4 538.7h0M81.1 528.1h0M71.2 535h0M63.6 530.2h0M81.1 522.6h0M94.1 531.5h0M63.6 535.8h0M66.4 537.6h0M72.2 539.6h0M69 523.1h0M73 541h0M67.9 534.2h0M39 545.4h0M63.2 531.9h0M65.6 533.4h0M47.9 537h0M66.6 542.8h0M80.4 530.8h0M71.8 533h0M62.6 534.1h0M37.5 547.6h0M65.4 527.9h0M77.2 535.1h0M53.9 525.1h0M89.7 542h0M72.9 529h0M81.3 546.5h0M77 521.3h0M90.2 533.9h0M75.9 526.7h0M49 539.4h0M53.6 535.1h0M64.1 538.8h0M79.6 529.8h0M57.3 529.6h0M94.9 528.9h0M93.6 525.8h0M57.1 523.1h0M41 536.6h0M49.4 535h0M71.4 544.6h0M56.3 539h0M77.8 528.1h0M47.2 541.5h0M63.4 530.9h0M64.7 542.9h0M55.7 526.2h0M58.8 559.9h0M62.9 539.9h0M63.9 526.7h0M82.2 527.7h0M88.3 529.9h0M83 527.7h0M54.7 546.2h0M43.6 551.8h0M34 548.4h0M64.9 539.7h0M77.7 530.3h0M89.4 535.3h0M70.5 535.6h0M99 537.7h0M55.1 533.7h0M59.9 519h0M82.8 535.8h0M69.9 533.3h0M110.8 536.7h0M88.5 520.2h0M66.8 535.6h0M52.2 532h0M68.7 534.3h0M43.4 538.9h0M102.5 528.8h0M88.1 528.5h0M60 539.9h0M107.8 525.2h0M73.3 523.1h0M48.6 539.8h0M48 541.7h0M81.7 532.6h0M59.6 535.5h0M61.9 539.4h0M75.6 531.8h0M57.8 547.2h0M68.6 525h0M54.4 543.8h0M85.8 527.7h0M81.9 552.7h0M69.4 553.9h0M68.4 553.5h0M71.4 563.9h0M71.6 560.3h0M86.2 560.2h0M83.9 554.2h0M65.3 560.1h0M72.9 553.8h0M76.3 555.8h0M72.3 566.4h0M58.1 552.9h0M78 564.4h0M67.5 563.6h0M80 559.3h0M86.4 562.7h0M83.8 560.3h0M71.6 559.1h0M76.5 556.2h0M73.3 564.6h0M74.9 557h0M68.8 563.3h0M89.9 565.5h0M82.1 553h0M74.4 553.1h0M72.3 561.8h0M62.4 563.8h0M61.3 568.9h0M68.6 549.3h0M85.1 560.8h0M73.3 562.2h0M77.4 569.8h0M81.6 558.5h0M75.6 551.9h0M94.6 560.6h0M74.2 556.2h0M63.3 560.3h0M79.9 558.7h0M75.4 562.7h0M82.7 555.7h0M56.8 559.9h0M92 550.7h0M81.7 559.9h0M89.5 557.9h0M78.9 569.1h0M84.2 563.9h0M55.5 563.8h0M87.9 553.4h0M67.6 554.7h0M78 571.9h0M71.2 565.1h0M68.1 552.4h0M92.8 551.3h0M90.8 567.4h0M66.9 561.6h0M68.5 558.2h0M88.1 551.7h0M75.9 562.1h0M55.5 552.3h0M77.1 574.8h0M101.8 550h0M69.1 559.9h0M76.1 569.2h0M74 555.5h0M95.6 558.1h0M73.9 559h0M77.2 571.4h0M89.8 565.1h0M75.4 565.2h0M65.8 558.6h0M77.3 560.8h0M78.6 560.5h0M77.3 561.6h0M74.8 566.3h0M69.9 560.9h0M74.2 565.2h0M63.8 562.9h0M61 558.5h0M70.7 557.6h0M86.9 562.5h0M57.2 555.5h0M79.2 557.3h0M76.4 560.7h0M78.3 564h0M68.1 560.1h0M77.4 564.1h0M83.2 563.1h0M77.8 560.6h0M94.1 561.3h0M76.6 560h0M73.2 563.2h0M75.9 564.8h0M85.7 558.6h0M74 561.5h0M48.1 562.4h0M84.1 566h0M69.2 553.9h0M64.5 566.6h0M86.2 559.8h0M68.6 555.2h0"/>
<path stroke="#bf8aa0" d="M123.9 373.1h0M133.3 419.1h0M125.5 401.4h0M41.3 330.8h0M109.9 360.8h0M131.7 337.6h0M123.7 347.6h0M132.6 387.1h0M68.2 342.7h0M99.2 403.5h0M84 394.6h0M120.6 375.5h0M171.4 372.2h0M106.7 345.8h0M79.7 398.1h0M109.8 430.9h0M138.9 400.4h0M141.2 371.9h0M132.4 341h0M156 414.2h0M232.3 348.8h0M217 349.9h0M225 328.6h0M294 338.3h0M278 299.1h0M219.5 353h0M309.1 327.2h0M224.2 358.8h0M315.1 320.2h0M236.7 326.2h0M263.7 306h0M242.4 306.2h0M241.3 342.7h0M248.6 341.8h0M315.5 312.1h0M290.3 297.1h0M301.2 305.4h0M227.7 343.6h0M301.6 327.8h0M228.5 349.6h0M250 341.4h0M259.5 303.6h0M260 307.4h0M286.6 347.7h0M237.1 352.8h0M312 327.8h0M240.6 344.4h0M288.3 294.1h0M265.7 295.3h0M217.5 350.3h0M310.1 299.4h0M298.2 345.2h0M259.7 346.1h0M241.6 342.7h0M292.6 297.6h0M245.7 305.6h0M216.6 353.2h0M295.5 335.3h0M265.4 347.1h0M216.4 354.9h0M237.1 350.6h0M239 329.3h0M246 338.4h0M217.8 355.4h0M219.8 356.4h0M225.6 342.3h0M269.7 349.6h0M300.1 299.8h0M288.5 341.3h0M224.2 336.8h0M292.4 347.5h0M272.8 298.8h0M311.3 304.3h0M304.7 332.3h0M213.4 351.5h0M312.4 323.1h0M278.7 297.6h0M268.5 346.2h0M240 314.9h0M309.1 303h0M252.6 335.3h0M266.9 347.2h0M258.8 305.2h0M220.6 357.3h0M294 342.6h0M233.6 346.2h0M265.2 342.4h0M297.1 342.4h0M240 342.6h0M303.2 336.2h0M239 319.8h0M242.7 315.5h0M221.4 354h0M244.4 309.4h0M257.9 304.3h0M303.5 333.4h0M308 304.6h0M231.3 337.5h0M229.2 350.1h0M284.8 299.3h0M295.6 337.7h0M260.7 345.6h0M249.6 309.4h0M239.2 306.3h0M268.1 348.4h0M272.3 350.3h0M225.5 356.5h0M223.4 353h0M304.7 301.9h0M234.7 350.7h0M255.6 343.5h0M276.9 296.6h0M236.8 341.1h0M254.4 344.4h0M275.6 300.9h0M237.4 348.4h0M233.8 319.2h0M306.6 330.6h0M305.5 295.9h0M307.5 331h0M289.8 341.9h0M239.3 340.2h0M308 297.5h0M290.4 299.1h0M211.3 359.1h0M312.1 308.7h0M229.6 339.2h0M289.1 296.6h0M257.5 308.3h0M310.3 331.9h0M280.2 299.8h0M226 342.9h0M304.1 338.2h0M234.3 316h0M294.1 341.8h0M303.5 298.5h0M263.5 306.6h0M243.2 312.4h0M228.7 348.2h0M306.8 332h0M294.3 343.2h0M251.8 309.5h0M263.4 298.7h0M272.3 301.4h0M243 313.5h0M305 300.8h0M243.4 306.3h0M265.6 343.6h0M304.5 298.9h0M302.5 297.4h0M238.2 314.3h0M310.9 320.6h0M240.9 327.8h0M308.6 301.5h0M300.1 298.9h0M259.2 348h0M270.4 347.6h0M274.3 302.7h0M227 347.6h0M260.6 306.8h0M238.6 343h0M287.1 299.1h0M212.9 356.7h0M232.8 319.3h0M301.2 290.2h0M314.6 319.9h0M227.2 341.7h0M258.6 302.2h0M306.5 312.1h0M227.3 343.7h0M235.9 312.5h0M238.4 339.9h0M222.3 348.5h0M220.6 353.4h0M261.1 302.7h0M236.1 321.7h0M236 329.6h0M234.5 316.9h0M292.2 343.6h0M296.8 297.3h0M238.4 323.8h0M271.4 301.2h0M244.9 337.3h0M236.9 332.2h0M277.9 350.9h0M234 326h0M309 304.5h0M252 342h0M310.4 323h0M213.2 351.6h0M218.5 356.4h0M240.4 342.1h0M305.1 303.5h0M232.5 319.8h0M267 302.6h0M242.3 311.8h0M308.2 332.1h0M234.5 347.8h0M298.2 342.1h0M238.1 335.8h0M234.9 313.4h0M301.1 334.1h0M222.9 361.2h0M307.7 324.9h0M305.4 300.9h0M225 343.9h0M223.7 344.2h0M313 305.6h0M303.6 332.4h0M272 304.7h0M262.5 303.3h0M280.4 345.7h0M253.4 340.9h0M228.6 342.2h0M258.3 307.6h0M239.6 330.7h0M219 355.3h0M303.7 339.9h0M304.2 332.2h0M266.1 301.4h0M270.9 349.3h0M261 304h0M251.4 340.5h0M242.7 342.4h0M233.3 318.9h0M230.4 352.7h0M232.3 350.1h0M238.3 314.5h0M241 312.7h0M276.9 345.7h0M302.8 298.9h0M235.8 316.9h0M231.3 340.3h0M241.3 342.6h0M252.2 310.5h0M296.9 341.5h0M226.1 344.6h0M310.9 303.7h0M282.1 295.7h0M276.4 349h0M220.3 357.2h0M248.3 303.9h0M278.8 303.1h0M302.5 295.4h0M247.6 340.6h0M247.2 307.9h0M215.5 353.3h0M316.7 304.4h0M224.9 358.9h0M314.7 306.1h0M286.3 292.6h0M234.2 347.5h0M312.2 311.4h0M301.6 332h0M284.3 296.3h0M237.6 336.6h0M274.9 344.7h0M241.1 339.9h0M253.8 339.3h0M228.5 335h0M310.6 314.8h0M213.6 356.2h0M214.4 353.7h0M232.3 347.3h0M256.6 344h0M206.8 305h0M208.3 321.8h0M203.1 320.6h0M209.7 301.3h0M208.2 316.8h0M207.7 298.6h0M212.4 302.8h0M195.7 298.4h0M204.7 296.1h0M205.1 296.3h0M212 312.7h0M208.9 308.1h0M196.8 303.1h0M193.9 302.3h0M212 315.5h0M196.3 307.9h0M198.7 300.5h0M202.7 317.5h0M194 305.4h0M202.5 298.2h0M208.1 307.2h0M193.6 302h0M207.1 307.3h0M200.3 296.8h0M201.7 300.2h0M208.8 312.6h0M194.9 306.4h0M212.8 314.8h0M204.6 317h0M204.5 299.1h0M203.3 300.3h0M197.1 310.1h0M200.6 298.1h0M205.4 302.8h0M201.1 307.7h0M196.4 318.1h0M202.5 298.7h0M197.2 312.5h0M204 304.9h0M198.1 295.4h0M201.9 300.2h0M205 320.9h0M200 299.2h0M204.1 302.6h0M207.8 301.3h0M199.3 300h0M208 298.6h0M202.8 318h0M198.7 291.9h0M200.7 300.8h0M207 294.8h0M205.4 316.6h0"/>
<path stroke="#3f73b2" d="M91.8 398.1h0M68.5 319.9h0M98.7 410.8h0M143.3 414.4h0M77 351h0M147.3 353.3h0M120.6 425.9h0M163.8 350h0M138.7 424h0M109.8 338.5h0M124.7 327h0M74 343.1h0M92.6 401.6h0M235.3 347.1h0M310.1 351h0M309.6 349.5h0M314.7 355.7h0M308 343.5h0M313.9 346.4h0M311.5 341.8h0M313.7 349.1h0M310.8 349.1h0M311.2 345.2h0M320.6 348.9h0M314.5 349.7h0M312.9 353.1h0M320 345.9h0M312.6 350.9h0M317 352.2h0M309.3 346.3h0M319 344.9h0M316.5 347.1h0M310.4 344.8h0M314.3 352.4h0M312.3 346.2h0M318 350.5h0M311.4 343.9h0M307.2 353.1h0M310.7 353.9h0M311.6 353h0M319.3 346.1h0M309.7 341h0M314.6 341.7h0M271.3 401.6h0M237.9 421.8h0M256.5 398.9h0M359.7 442.2h0M299.8 443.7h0M344.4 415.8h0M335.8 467h0M355.5 423.5h0M305 421.4h0M353.9 424h0M354.2 466.9h0M302.4 437.9h0M358.1 450h0M295.9 423h0M332.9 463.1h0M328.1 410.9h0M346 467.1h0M365.3 439.5h0M336.4 409.5h0M331.8 466.6h0M313.4 414.2h0M357.8 437h0M340.1 415.5h0M358.3 440.8h0M358.6 437.2h0M357.8 448.4h0M304 436.7h0M308.3 412.1h0M342.9 410.9h0M330.9 411.1h0M296.4 427.7h0M353.9 423.1h0M357.1 432.9h0M326.4 464.9h0M296.4 447.8h0M360.3 429.1h0M361.6 459.1h0M297 447.2h0M302.8 416.3h0M330.2 414.6h0M325.3 414.7h0M304.5 424.2h0M308.6 416.3h0M302.4 439.4h0M352.6 436.3h0M324.3 466h0M300.5 433.9h0M343.3 413.5h0M293.8 444.5h0M321.9 407.4h0M330.9 409.5h0M307.4 455.6h0M351 464.5h0M295.3 450.1h0M352.9 459.1h0M309.4 456.6h0M355.2 462h0M324.7 464.7h0M332.3 413.7h0M315 459.5h0M357 422.8h0M297.9 444h0M330.2 467.2h0M292.6 445h0M302.3 455h0M296.1 429.1h0M304 437.7h0M346.1 464.6h0M323.4 417.4h0M305.8 414.7h0M308 413.2h0M312.2 413h0M319.1 463.3h0M353 464.6h0M318.7 462.4h0M296.3 443.1h0M322.9 407.4h0M310.3 460h0M360 430h0M355.5 455.2h0M314.7 410.1h0M357.5 430.6h0M353.9 420.5h0M350.7 463.3h0M327.1 466.2h0M329.4 408h0M355.1 456.7h0M331.3 415.4h0M360 447.6h0M293.3 448.9h0M302.4 442.4h0M336.1 409.7h0M319.7 460.9h0M302.5 453.7h0M299.1 421.8h0M299.3 446.5h0M357.2 418.9h0M345.7 412.1h0M348.1 465.5h0M310 457.5h0M326.1 463.1h0M325.9 407.9h0M300.1 444h0M332.4 470.6h0M348.8 463.9h0M309.8 458.5h0M309 414.4h0M352.7 461.8h0M303.5 438.3h0M343.3 471.5h0M316.9 461.3h0M333.5 414.3h0M317.4 413.1h0M310.7 416.9h0M360.9 438.5h0M354.3 433.7h0M343.4 415.4h0M307.5 459.5h0M307.1 416.4h0M361.3 434.7h0M346.1 415.6h0M309.8 464.1h0M307 424.4h0M299.9 451.3h0M316.5 406.7h0M317.4 409.3h0M304.9 437.1h0M293.6 445.4h0M345.5 415.7h0M351.5 415.8h0M299.4 437.1h0M347.2 465.7h0M325.1 411.6h0M356.1 451.5h0M342.9 415.1h0M300.9 424.2h0M313 414.5h0M300.9 424.4h0M297.8 417.6h0M353.5 427.5h0M296.5 451.3h0M333.3 461.2h0M346.8 420.3h0M318.5 461.3h0M356.1 428.1h0M357.2 453.6h0M360.6 421.7h0M321.2 462.6h0M358.7 453.1h0M349.8 418h0M310.3 412.1h0M304.5 454.2h0M359 437.9h0M355.1 462.6h0M330.1 411.4h0M304.1 419.1h0M296.7 455.6h0M355.6 434.4h0M354.8 450.2h0M299.3 420.2h0M318.1 459.4h0M314.6 461.3h0M323.7 463.5h0M347.6 415.6h0M356.3 427.7h0M360.9 451.4h0M359.6 429.6h0M307.5 462.5h0M358.9 437.6h0M306.6 418.7h0M327.2 466.7h0M353.5 436.2h0M342.4 464.7h0M342.3 465.8h0M300.9 456.2h0M336.6 409.6h0M305.4 424.8h0M364.9 440.1h0M360.7 450.8h0M306.9 414.6h0M339.6 413.7h0M478.6 423.6h0M369.3 475h0M384.2 521.9h0M490.1 435.7h0M418.1 443.8h0M471.3 431.2h0M438.1 539.8h0M505.1 508.6h0M407.2 535.1h0M524.1 472.8h0M482.8 429.4h0M454 543.7h0M497.6 449.7h0M400.5 533.9h0M456.6 429h0M369.3 489.8h0M504.6 460.2h0M374.9 492.6h0M368.4 477h0M466.4 431.8h0M496 520h0M475.8 424.6h0M503.9 513.9h0M368.1 489.1h0M518.3 468.9h0M486.4 432.6h0M373.3 495.1h0M490.7 439h0M373 494.9h0M468.9 429.6h0M376.8 504.8h0M512.6 454.6h0M381.6 513.3h0M398.7 533.3h0M370.4 493.3h0M463.5 431.1h0M378.7 462.2h0M405.2 449.7h0M393.3 530.1h0M482.8 429.1h0M481 426.7h0M510.6 455.3h0M501.2 512.5h0M522.5 471.1h0M383.9 462.8h0M434.6 440.7h0M488.1 431.6h0M508.1 454.5h0M450.9 542.5h0M464.3 536.5h0M372.8 466.5h0M434.9 540.3h0M480.8 434.7h0M369.2 482.7h0M430.6 436h0M448.2 542h0M370.5 479.1h0M426.8 544.3h0M503.8 515h0M380.5 457.9h0M371.5 501.7h0M416.2 539.2h0M393.6 447.3h0M472.1 529.6h0M492.4 445h0M506.1 505.6h0M414.4 537.7h0M464.7 434.2h0M481.8 433h0M496 515.4h0M502.6 459.1h0M470.2 427.9h0M372 502.3h0M475.1 422h0M412.6 536.6h0M368.8 503.2h0M376.5 464.6h0M480.2 429.3h0M521.6 490h0M368.8 471.5h0M472 423.9h0M493.5 439.4h0M413.1 539.3h0M501.9 450h0M376.3 496.9h0M521.2 481.8h0M417.3 443h0M457.6 542.6h0M369.9 460.3h0M514.1 493.5h0M482 418.7h0M497.1 517.3h0M483.4 438.2h0M415.6 446h0M455.5 539.2h0M476.3 423.6h0M416.6 446.9h0M484.4 430.9h0M380.3 463.2h0M459.2 535.9h0M521.8 480.8h0M490.4 523.9h0M491.4 439.8h0M474.9 529.3h0M380.7 456.4h0M520.6 465.7h0M387.1 520.1h0M518.8 489.7h0M452.3 540.6h0M472 428h0M482 428.9h0M479.5 420.1h0M426.8 440h0M383.2 519.2h0M429.1 439h0M513.6 491.9h0M380.1 512.9h0M452.5 544.7h0M510.9 460.1h0M485.8 425.8h0M441.1 435.6h0M487.1 435.5h0M495.1 440.8h0M463.2 433.4h0M469.3 434.5h0M517.6 486.5h0M377 465.9h0M485.1 532h0M499.4 450.6h0M510 495.9h0M374.3 466.9h0M490.2 441.9h0M511.1 493.7h0M436.1 538.9h0M510.6 460h0M469.3 426.3h0M478.5 425.4h0M520.9 481.5h0M446.5 541.3h0M453.7 434.3h0M518.2 490.6h0M404.8 452.3h0M455 540.1h0M461.7 435h0M499.5 513.4h0M427.4 435.2h0M510.7 504.4h0M373.1 492.3h0M520.2 480.9h0M478.1 421h0M473.2 531.8h0M521.4 461.1h0M413.6 538.6h0M369.8 489.6h0M372.5 475.9h0M484.9 524.6h0M475.6 532.4h0M373.5 505.5h0M507.5 504.6h0M488.6 444.3h0M469.5 430h0M374.3 495.9h0M455.6 541.3h0M485.5 438.6h0M455.9 545.1h0M400.1 528.4h0M521.1 468.2h0M372.2 463.1h0M470.9 531.3h0M529.6 473.9h0M398.4 536.8h0M510.5 497.5h0M425.2 539h0M478.8 423.5h0M371.9 476.7h0M421.1 443h0M471.5 431h0M402.7 534.8h0M489.4 444.3h0M511.7 451.6h0M490.2 446.1h0M508.5 503.3h0M478.5 528.1h0M527.9 472.1h0M416.7 533.2h0M369.9 472.6h0M479.8 423.1h0M371.6 484.1h0M412.6 535.3h0M475.6 424.9h0M466.5 430.3h0M519.7 475.6h0M480.1 435.6h0M407.2 532.4h0M510.4 499.8h0M513.3 507.3h0M374.7 466.8h0M509.1 500.9h0M506.9 505.6h0M518.2 483.1h0M520.1 491.4h0M477.8 425.1h0M506.9 507.4h0M471.2 534h0M366.6 497.7h0M391.7 527h0M448.7 538.2h0M376.8 493.6h0M428.6 539.3h0M481.9 426.5h0M485.9 426.6h0M444.7 542.4h0M523.4 478.1h0M526.7 479.9h0M480.2 429.9h0M467.9 536.1h0M488.6 431.1h0M366.6 491.5h0M423.5 443.9h0M505.4 511.4h0M397.2 451.4h0M371.3 464.6h0M444.8 540.3h0M407.6 538.4h0M509 450.7h0M509.2 495.6h0M522.6 465.5h0M374 505.9h0M479.2 527h0M380 457.9h0M465 540.2h0M524.7 469.3h0M374.3 491.9h0M484.2 424.3h0M525.2 482.8h0M400.6 524.4h0M374.7 506.7h0M453.1 431.7h0M439.1 442.6h0M478.9 528.2h0M382.1 456.3h0M424.6 439.2h0M485.1 432h0M389.1 458.5h0M525.1 476h0M500.2 449.3h0M423.2 440.8h0M479.9 420.6h0M523.1 469.2h0M452.4 442.1h0M423.6 445.8h0M478.1 424.1h0M459.8 430h0M487.1 526.3h0M375.3 491.4h0M377.1 461.7h0M487.9 441h0M480.5 425.8h0M523 459.9h0M499.6 518.5h0M467 431h0M478.4 530.7h0M474.2 429.6h0M464.5 538.3h0M442.3 538h0M492.4 521.8h0M482.3 427.8h0M404.3 533.8h0M479.2 528.5h0M410.4 447h0M480 420.8h0M415.1 444.4h0M516.4 464.5h0M457.4 538.7h0M457.5 542.3h0M392.3 450.8h0M483.7 523.7h0M453.5 433.3h0M381.5 516.1h0M514.4 459.9h0M386.3 518.6h0M375.2 497.7h0M383.7 454h0M367.6 491.2h0M481.6 427.3h0M430.2 538h0M386.3 460.2h0M394.3 525.9h0M483.8 430.1h0M524.9 475.7h0M407.6 530.5h0M518.3 489.2h0M478.5 418h0M408.3 536.8h0M373.5 506.5h0M378 506.8h0M409.1 531.9h0M525.8 483.3h0M431.8 437.7h0M447 436h0M483.7 436.9h0M371.8 495.4h0M392.3 524.9h0M441.7 541h0M500.3 517.9h0M485.8 530.4h0M501.7 517.6h0M511.7 502.8h0M472.8 425.8h0M467.8 434.7h0M377.9 494.3h0M469.5 536.8h0M469.2 537.4h0M495.5 520.2h0M524.1 462.6h0M460.9 438.2h0M434.9 439h0M472 429.2h0M461.6 435.8h0M482.2 436h0M500 452.4h0M460 432.8h0M516.5 468h0M472.9 533.8h0M474.2 418.6h0M373 509.8h0M442.3 539.4h0M365.6 486h0M404.8 533.9h0M387.2 520.9h0M492.8 440.6h0M487.6 517.9h0M530.4 473.7h0M429.6 539.2h0M368.6 496.7h0M423.1 541h0M370 471.5h0M374 512.2h0M491.1 439.6h0M486.5 431.2h0M405.4 531.3h0M478.6 422.4h0M473.6 424.6h0M506.1 504.2h0M397.3 529.8h0M390.5 519.5h0M522 482h0M466.9 425.3h0M515.1 461.7h0M383.6 519.2h0M502.3 450.6h0M404.8 532.1h0M374.6 493.9h0M489.8 444.2h0M392.3 452.6h0M415.1 443.1h0M462 431.9h0M398.8 532.1h0M426 440.6h0M425.3 537.8h0M368.1 483.6h0M388.6 450.7h0M443 539.4h0M491.7 436.8h0M431.9 537.7h0M519.1 484h0M485.1 440.3h0M447.5 432.6h0M432.2 442.6h0M491.9 442h0M493.3 522.2h0M509.3 502.6h0M374 503.6h0M480.4 425.3h0M405.3 532.7h0M378.6 516.4h0M471.8 421.1h0M369.7 470.3h0M453.5 538.9h0M478.6 532.9h0M379.4 504.5h0M400.1 450.9h0M482.4 437.8h0M505.7 512.1h0M412.9 547.7h0M441.6 590.4h0M447.5 584.2h0M438 575.8h0M445.4 575h0M423.9 548.5h0M429.6 563.2h0M421.9 561.7h0M452 577.9h0M412.8 555h0M418.6 565.5h0M447.5 567.7h0M444.8 587.8h0M454.2 587.6h0M184.7 671.9h0M270.1 682.9h0M203.7 641.3h0M219.8 696.2h0M242.8 713.1h0M225.2 661.4h0M255.8 706.6h0M208.1 707.4h0M228.8 679.8h0M225.4 700.6h0M221.7 663.8h0M229.7 720.9h0M235.7 681.3h0M188 681.2h0M223.4 685.1h0M223 652.1h0M213.9 685.1h0M224.8 719.7h0M255.8 693.5h0M248.2 711.2h0M246.8 696.1h0M182.3 691.9h0M303.2 429.3h0M300.7 433.3h0M300.9 430h0M305.6 434.3h0M306.2 432.5h0M304.2 440h0M291.3 430.2h0M304.3 429.7h0M295.7 439.5h0M294.3 438.5h0M297.5 435.5h0M300.6 436.2h0M298.9 428.8h0M298.8 431.9h0M295.6 428.3h0M295.5 431.5h0M302.7 433.1h0M295.9 426.7h0M295.1 435.6h0M303.7 430.2h0M303.8 431.1h0M293.3 428.6h0M295.7 431.4h0M289.8 430.1h0M309.6 431.7h0M305.4 431.7h0M302.8 432.5h0M300.3 437.9h0M301.6 430h0M295.3 428.6h0M301.8 431h0M299 424h0M300.7 434.3h0M310 432.8h0M305.7 430.3h0M302.6 431.7h0M290.5 434.9h0M295.1 432.5h0M294.4 434.2h0M297.6 428.9h0M255.4 588h0M252.5 589.6h0M254.1 588.6h0M252.6 591.1h0M256.6 590.7h0M258.2 589h0M256 590.4h0M252.8 587.5h0M252.4 590.3h0M252.1 588.7h0M246.4 707.9h0M240.9 709.9h0M245.9 705.9h0M244.9 711.2h0M246.4 705.5h0M243.2 706.7h0M244.8 705.9h0M243.9 706.1h0M245.6 710.3h0M245.4 708.3h0M247.2 705.3h0M244.1 706.6h0M247.5 707.2h0M248.9 706.8h0M318 343.1h0M311.1 343.1h0M314 348.8h0M314.3 339.5h0M312.2 353.7h0M312.5 353.8h0M308 354.7h0M319.8 348.5h0M315.4 344.7h0M317.5 345.1h0M310.9 349.2h0M316.3 346.8h0M308.1 351.6h0M314.2 354.1h0M304.8 345.6h0M311.8 347.4h0M312.7 354.2h0M312.4 351.8h0M309.7 342.3h0M311.9 352.1h0M326.8 341.5h0M308.5 349.7h0M311.8 350.7h0M313.4 342.5h0M305.8 350.1h0M305.7 342.3h0M314 345.2h0M321.8 354h0M318.2 346.9h0M306.7 347h0M322.7 357.5h0M311 344.1h0M307.1 347.3h0M324.7 349.1h0M317.3 346.9h0M309.2 344.9h0M311.3 349.5h0M311.1 349.6h0M312.1 343.5h0M315.9 348.1h0M311.1 346.7h0M314.6 343.7h0M303.4 345h0M319.7 347.9h0M311.6 348.1h0M309.5 350.7h0M317 341.7h0M314.6 344.6h0M318.2 356h0M315.3 343.3h0M314.3 349.4h0M316.7 346.5h0M311.3 359.3h0M310.8 351.5h0M312.6 339.5h0M317 348h0M317.5 340.7h0M311.4 352.2h0M315.6 349.1h0M307.3 354.7h0M311.6 350.2h0M306.1 341h0M316.2 345.6h0M313.3 345.1h0M315.6 350.4h0M313.7 347.6h0M306.6 342.5h0M313.8 354.6h0M313.1 350.3h0M312.5 345.7h0"/>
<path stroke="#b993c6" d="M168.8 233h0M162.6 245.1h0M166.5 256.3h0M190.9 257.8h0M183.9 258h0M173 236.3h0M185.4 259.3h0M189.2 251h0M195.9 238.8h0M160.6 250.7h0M167.1 240.6h0M171.8 253.4h0M180.5 259.1h0M165.9 235.9h0M169.2 233.3h0M174.2 252.3h0M192.3 237h0M172.7 228.5h0M172.9 241.5h0M191.4 238.4h0M166.7 252.7h0M170.3 232h0M172.4 236.3h0M166 237.5h0M179.5 229.9h0M176.5 254.1h0M168.8 251.3h0M174.3 255.2h0M196.4 253.1h0M173.8 230.2h0M193.5 233.8h0M188 261.8h0M178.9 258h0M186.6 256.9h0M173.3 233.5h0M177.6 227h0M201 246.5h0M175.5 229.6h0M189 257.2h0M183.9 256.6h0M193.6 240h0M194.2 228.9h0M167.2 248.7h0M191.8 241.4h0M174.9 250.3h0M199.8 256.3h0M171.3 253.7h0M167.8 248.3h0M177.2 259.1h0M195.5 237.9h0M182 229.6h0M177.9 234.2h0M168.6 234.8h0M179.3 255.1h0M188.4 259.5h0M176.3 255.1h0M196.8 250.2h0M172.2 250.4h0M175.1 257.5h0M166 256.7h0M176.8 251.9h0M186.9 260.8h0M164.7 246.3h0M182.5 232.6h0M167.4 238.3h0M184.1 259.7h0M174.6 229.2h0M184.3 257.6h0M199.2 241.7h0M195.3 251.6h0M175.7 254.9h0M182.8 226.7h0M197 242.6h0M193.5 237.1h0M191.9 244.5h0M181.7 228.9h0M165.5 252.8h0M199.4 247.1h0M185.5 260.4h0M196.3 253.7h0M172.5 240h0M176.5 234.2h0M194.3 249.3h0M184 225.2h0M174.9 252.7h0M167 242.7h0M178 258.5h0"/>
<path stroke="#cbb0d6" d="M380.9 307.6h0M382.1 297.5h0M371 317.1h0M356.5 297.6h0M370.1 293.5h0M379.2 306.3h0M356.1 301.9h0M359.9 296.8h0M360.6 305.1h0M356.1 297.1h0M379.1 292.5h0M379.6 304.2h0M365.4 309.9h0M383.1 295.3h0M375 311.5h0M371.8 305.3h0M382.9 301.5h0M373.7 317.3h0M377.7 310.9h0M356.2 296h0M381.2 296.7h0M357.4 300.8h0M366 305.3h0M372.6 290.4h0M381.2 288.9h0M376.4 315.8h0M374 307.5h0M379 306.7h0M383.7 301.4h0M355.5 301.9h0M364.5 293.6h0M385.4 293.6h0M380.6 309.3h0M377 311.3h0M370.9 315.8h0M370 313.4h0M372.5 293.9h0M359.3 302.8h0M376.9 305.2h0M358.2 305.6h0M371 309.3h0M362.8 294.3h0M378.6 305.8h0M365.3 303.8h0M388.5 294.6h0M357.7 303h0M352.4 293.7h0M386.7 290.8h0M370.4 317.4h0M379.7 305.2h0M373.2 293.5h0M389.3 297.8h0M382.5 304.9h0M373.1 311.4h0M378.6 310.7h0M352.4 301.4h0M387 297.2h0M360.4 296.8h0M351.3 296.6h0M381.3 289.5h0M353.1 302.1h0M372.4 309.9h0M355.7 296.9h0M360.4 295.6h0M371.9 312.1h0M380.1 302.2h0M373.5 309.5h0M359.1 293.1h0M370.7 313.7h0M384.7 293.2h0M374.8 312.2h0M373.1 303.3h0M373.4 314.3h0M362.4 304.9h0M371.8 313.5h0M355.7 299.4h0M386.5 298.8h0"/>
<path stroke="#4c4f66" d="M381.6 369.6h0M369.9 363.5h0M348 383.4h0M358.5 379.9h0M344.5 380.6h0M365.2 362h0M370.4 362.6h0M377.2 360.8h0M350 375.6h0M355.1 378.5h0M358.6 381.6h0M378.2 363.6h0M344.5 379.5h0M377.7 361.6h0M349.3 372.7h0M383.1 360.8h0M346.7 379.9h0M348.5 376.1h0M351.9 378h0M375.5 359.4h0M349.4 383.7h0M355.5 381.3h0M367.5 362.1h0M362.1 365h0M345.9 378.4h0M373.5 376h0M366.6 376.2h0M352.2 376.5h0M345.7 374.7h0M357.6 381.2h0M369.6 360.4h0M352.7 367.1h0M348.7 376.1h0M374 359.8h0M359.6 368.5h0M352.2 375.3h0M381.6 363h0M347.4 374.8h0M358.4 369.5h0M343.2 378.9h0M378.2 363.8h0M362.5 377.6h0M360.1 366.5h0M377 362.2h0M364.3 371.7h0M349 382h0M370.6 374.6h0M347 375.5h0M373.5 371.6h0M378.6 359.8h0M364.1 361h0M370.7 365h0M354.5 379h0M369 369.7h0M352.5 381.4h0M344.7 378.4h0M342.2 372.7h0M376.1 369.3h0M353.2 372.2h0M368.9 361.6h0M343.8 380.6h0M352.9 373.8h0M373.8 375.7h0M362.4 372.6h0M378.8 363.9h0M353.8 382.4h0M366 366.5h0M377.5 361.4h0M381.4 363.6h0M379.4 370.6h0M371.9 359h0M378 360.9h0M367.2 377h0M351.6 375.9h0M350.6 373.1h0M377 374h0M375.8 371.3h0"/>
<path stroke="#c96b44" d="M472.9 338.5h0M483.9 363.3h0M469.9 352.7h0M483.2 372.3h0M483.3 363h0M500.2 347.2h0M504.2 371.3h0M469.5 400.7h0M494.2 339.4h0M495.9 365.7h0M476.3 334.6h0M486.9 366h0M507.4 365.4h0M469.2 388.9h0M472.4 347.2h0M475.8 387.4h0M474.5 385.1h0M493.5 341.5h0M513.2 365.9h0M485.5 382.7h0M510.2 345.8h0M481.5 391h0M515.2 366.7h0M484.2 369.2h0M505.6 382.4h0M479.8 378.1h0M507.8 370.3h0M498.6 343.2h0M510.4 354.6h0M481.2 338.4h0M471.5 341.2h0M475.1 360.3h0M477.5 398.3h0M476.2 392.9h0M481 401.8h0M476.7 386.7h0M512.9 361.5h0M491.9 363.9h0M479.7 362.3h0M478.4 392.8h0M476.6 403.1h0M507 342.4h0M477.7 356.6h0M474 394.5h0M472.3 344.7h0M482.7 336.5h0M466.6 333.3h0M510.6 352.8h0M502.6 374.1h0M486.9 373.2h0M475.6 401h0M489.4 375.2h0M505.5 366h0M479.5 400.6h0M502.7 349.1h0M476.7 381.9h0M480.4 375.6h0M495.8 346.5h0M500.9 369.7h0M475.1 403.4h0M490.4 343.3h0M475.7 383.1h0M508.9 363.1h0M473.4 395.1h0M476.9 390h0M480.9 377.7h0M486.7 348.4h0M513.8 348.2h0M499.3 368.6h0M477.3 388.9h0M496.6 369.5h0M502.4 373.7h0M499.8 376.2h0M474.2 358.4h0M470.6 356.6h0M474.3 344.3h0M492.9 339.5h0M501.3 374.7h0M513.1 359.5h0M475.6 333.2h0M515.3 362.3h0M508.2 380.4h0M504.6 378.7h0M480.2 398.4h0M475.1 395.6h0M484.2 387.2h0M479.7 386.7h0M510.2 344.1h0M485.5 376.1h0M507.4 349.2h0M466.8 353.9h0M482.6 358.6h0M509.1 372.1h0M481.9 387.4h0M471.4 343.7h0M472.5 331.6h0M500.2 343.5h0M514.3 360h0M510.2 349h0M471.2 341h0M501.1 370.2h0M482.9 340h0M474.9 343.9h0M498.3 365.2h0M477.5 389.1h0M479.3 398.1h0M470.1 335.8h0M484.6 341.2h0M496.7 364.4h0M473.8 399.4h0M467.1 347h0M478 389.7h0M514.1 366.2h0M495.7 367h0M470.9 353.3h0M480.4 379h0M490.9 372.5h0M505.8 347.7h0M488.9 368.6h0M514.6 351.7h0M515.6 358.8h0M481.5 386h0M475.1 396.6h0M516.7 363.4h0M474.3 391h0M473.5 336.9h0M510.6 357.8h0M511.1 359.6h0M472.9 402.6h0M486.6 370.1h0M476.2 356.1h0M499.2 361.3h0M482.2 371.7h0M508.4 346.1h0M480 344.3h0M476.9 339.2h0M501.5 362.9h0M468.7 338.5h0M476.4 332.1h0M486 364h0M474.7 352.2h0M506 372.3h0M495.5 366.7h0M469.9 398.5h0M470 400.5h0M473.2 332.6h0M483.5 367.3h0M471 399.9h0M474.4 350.1h0M488.2 363.9h0M487.7 384.4h0M507.7 372.4h0M500.2 375.8h0M518.2 358.2h0M486.1 372.8h0M478.6 372.8h0M483 367.3h0M480.1 381.2h0M514.1 350.7h0M476.3 404.3h0M475.8 361h0M480.7 358.4h0M476.5 398.4h0M477.1 394.1h0M508.5 360.6h0M498.9 362.8h0M474.7 337.5h0M479.8 383.6h0M497 367.5h0M489.3 368.9h0M511.5 355.7h0M512.9 361.8h0M495.1 367.5h0M506.6 349.5h0M495.2 366.3h0M478.9 378.2h0M483.8 377.5h0M486.7 338.9h0M472.6 395.5h0M512.2 355.8h0M478.1 395.9h0M473.5 337.2h0M469.8 396.9h0M492.8 370.1h0M511.3 348.1h0M500.1 375.1h0M470.7 340.5h0M500.6 371.7h0M479.1 382.7h0M474.2 330.6h0M516.2 359.1h0M472.7 351.7h0M512.9 361.6h0M495.9 370.5h0M473.3 351.1h0M472.1 391.9h0M502.2 376.3h0M479.8 334.5h0M474.5 355.6h0M480.6 385h0M473.5 393h0M476 399.9h0M476.3 387.8h0M475.9 394.8h0M476.7 397.8h0M477.5 393.6h0M476.9 382.7h0M477.7 387.6h0M478.5 381.9h0M474.3 386.3h0M474.7 385.8h0M478.4 391.6h0M477.7 389.7h0M475.6 400.3h0M478.5 384.1h0M477.4 390.9h0M480.5 392.4h0M477 390.3h0M481.7 383.5h0M478.1 391.3h0M476.1 391.6h0M474.7 400.4h0M476.9 399h0M475.6 389.8h0M475.6 387.5h0M474.9 395.7h0M475.2 390h0M478.1 380.7h0M472.5 389.8h0M474.5 392.7h0M475.4 381.8h0M472.2 400.7h0M477.7 394.8h0M474.1 389.6h0M475.1 381.5h0M476.3 406.9h0M479.6 389.3h0M478.1 393.3h0M474.2 386.5h0M469.5 372.5h0M467.1 378.5h0M467.4 374.9h0M467.7 377.1h0M468 380.1h0M467.6 377.6h0M468.4 375.4h0M467.7 374.6h0M466.1 376.8h0M466.9 380.2h0"/>
<path stroke="#f4eeeb" d="M482.5 340.6h0M473 349.2h0M482.9 341.6h0M498.6 349.9h0M485.9 375.6h0M235.5 416h0M232.4 422.8h0M264.5 408h0M242 428.6h0M245.8 412.4h0M257.5 434.7h0M240.3 407.7h0M251.2 418.3h0M246.4 426h0M247.4 425.7h0M257.8 423.6h0M256.9 429.2h0M252.5 412h0M359.5 441.6h0M334.9 447.1h0M340.4 434.5h0M355.2 422.8h0M306.7 433h0M329 439.5h0M353.9 429.2h0M343.3 429.3h0M354.3 445.4h0M407.2 495.8h0M473 474.7h0M429.2 489.5h0M444.3 490.6h0M413.6 495.9h0M446.5 452h0M444.7 529.8h0M414.3 509.7h0M468 447h0M435.5 472.1h0M511.3 487.8h0M428.2 458.8h0M472.1 458h0M456.2 440.8h0M517.1 473.8h0M467.5 459.9h0M434.6 485.9h0M394 488.3h0M390.4 467.7h0M390.3 458h0M382.1 494.3h0M429.1 530.5h0M479.1 462.3h0M482.6 488.3h0M466.6 440.7h0M482.5 433h0M444.2 445.7h0M475.5 529.8h0M440.2 511.1h0M427.5 458h0M478.2 471.2h0M420.3 517.6h0M442.3 529.9h0M393.1 510.5h0M464.9 481.9h0M391.4 484.3h0M422.5 459.3h0M511.6 498.1h0M497.5 451.9h0M419.8 485.5h0M426.5 515.3h0M373 500.2h0M468.4 499.6h0M434.2 512.1h0M368.3 653.8h0M361 667.5h0M376.4 601h0M356.7 596.3h0M399.9 660.3h0M359.6 591.7h0M375.3 633.3h0M375.4 623.8h0M324.5 640.2h0M365.6 606.1h0M359.7 648.8h0M408.6 653.1h0M362.7 659h0M36.2 522.5h0M38.7 509.6h0M43.9 508.8h0M51.6 517.4h0M58.7 512.2h0M37.1 518.5h0M46.4 507.6h0M28.3 536.6h0M22.2 557.8h0M21 551.8h0M46.2 532.9h0M27.8 538.2h0M36.5 540.8h0M25.8 552.5h0M43 532.3h0M34.3 538.4h0M32.5 535.7h0M14.6 544.2h0M45.1 535.8h0M35.3 542.9h0M25.6 544.2h0M37.1 539.6h0M30 546.8h0M238.3 601.2h0M209.9 609.3h0M204.2 617.2h0M231.6 577.1h0M214 603.2h0M225.9 601.9h0M212.7 580.9h0M236.9 597.2h0M210.8 604.6h0M206.1 624h0M193.3 625.2h0M237.4 628.6h0M243.4 627.7h0M242.1 620.7h0M246.4 624.4h0M232.9 628.5h0M234 619.2h0M245.3 616.2h0M235.6 617.7h0M234.9 632.4h0M232.9 630.2h0M237.7 620h0M245.4 624.3h0M236 628h0M473.4 463h0M481.4 468.5h0M475.1 462.4h0M475.5 461.4h0M477.1 459.6h0M484.6 469.6h0M479.4 468.4h0M481.8 468.7h0M475.8 467.1h0M488.3 467.9h0M485 471.6h0M472.6 463.4h0M477.2 468.6h0M481.1 466.1h0M486.1 468.2h0M476.2 465.6h0M479.5 463.4h0M479.1 464.3h0M487.5 465.8h0M474 462.4h0M223.3 595.1h0M231.3 596.4h0M232.1 603.3h0M229.7 597.7h0M236 601.7h0M229.1 598.4h0M210.7 612.6h0M242.6 598.1h0M229.7 606.1h0M220.5 610.2h0M228.7 604.4h0M232.8 602.1h0M241.4 592.2h0M239.1 599.6h0M227.8 605.9h0M216.1 615.1h0M236 605.2h0M229.5 600.6h0M237.6 599.1h0M224.9 600.9h0M227.7 605.9h0M232.9 591.4h0M221.7 607.4h0M235.6 601.9h0M226.5 612.1h0M224.1 600.5h0M234.6 609.2h0M226.3 606.1h0M233.9 597h0M229.4 598.7h0M222.4 603.9h0M236.5 597.6h0M230.5 602.4h0M235.5 609h0M232.7 613.9h0M226.5 605.3h0M220.4 609.4h0M235 598.3h0M226.1 604.4h0M223.2 610.1h0"/>
<path stroke="#b8813c" d="M264.8 420.9h0M236.3 438.4h0M235.4 410h0M240.9 437.6h0M247.9 451.5h0M241 452.2h0M237.5 440.7h0M274.6 409.6h0M243.3 446.4h0M253.2 445.9h0M255.1 448.4h0M224 420.3h0M269.5 397.7h0M270.7 395.7h0M256.6 404.1h0M257.2 436.3h0M240 432.4h0M252 395.9h0M229.3 414.2h0M237.3 441.9h0M236.9 427.9h0M237.2 443.5h0M249.1 456.9h0M273.6 394.3h0M239.5 405.8h0M246.5 400.4h0M273.7 398h0M243.2 441.3h0M235.5 440.2h0M275.9 403.4h0M270.2 413.8h0M251.7 398.2h0M247.5 458.5h0M235 440.4h0M238.7 403.2h0M267.3 419.5h0M239.4 406.2h0M258.2 400.7h0M230.7 423h0M255.1 446.7h0M256.9 399.7h0M262.1 440.2h0M240.6 439.4h0M271.5 401h0M252.9 449h0M237.3 446.7h0M231.5 423.9h0M231.1 413.4h0M250.1 455.1h0M267.2 424h0M264 402.1h0M260.7 437.6h0M256.9 397h0M236.6 440.2h0M231.8 438.5h0M244.3 446h0M245.5 403.8h0M262.7 441.4h0M238.9 434.8h0M236.1 433.7h0M276.6 412.8h0M241.4 447h0M231.9 420.5h0M240 431.2h0M236.8 437.9h0M247.2 401.4h0M277 403.1h0M223.9 417.7h0M224.9 420.4h0M258.6 448.3h0M238.5 443.9h0M263.9 430.3h0M274.1 413.2h0M232.9 411.2h0M234.6 442.3h0M237.3 447.4h0M230.2 418.6h0M266 432h0M261.9 425.8h0M234 439.1h0M248.7 454.6h0M236.6 447.2h0M232 416.6h0M240.2 438.4h0M235.2 429.4h0M244.4 452.3h0M235.8 426.3h0M264.2 430.8h0M235.7 434.4h0M244.9 447.8h0M258.8 447.4h0M274.1 416.2h0M244 402.2h0M272.2 414.5h0M236.6 401.7h0M249.4 453h0M276.8 396.6h0M258.4 437.2h0M237.6 447.3h0M263.2 425h0M267.7 421.4h0M242.6 439.9h0M250.2 454.3h0M267.5 396.2h0M231.5 422.8h0M238.2 441.3h0M274.7 394.5h0M233.8 428.5h0M258 436.3h0M251.2 448.1h0M254.9 450.7h0M246.1 448.5h0M233.7 428.1h0M230.1 421.1h0M269.8 418.8h0M263.4 434.8h0M257.4 439.5h0M232.1 422h0M237.6 434.8h0M251.6 449.3h0M238.6 434.9h0M230.7 420.5h0M248.5 399.6h0M238.1 439.4h0M242.4 434.2h0M263.1 402h0M238.5 442.8h0M251.6 452.6h0M235.7 442.1h0M273.1 402h0M260.9 439.8h0M242.1 442.7h0M228.7 418.6h0M247.6 398.1h0M260.8 437.1h0M237.9 427.4h0M262.6 423.5h0M257.9 435.5h0M235.4 439.1h0M234 426h0M246.3 399h0M248.2 451.2h0M237.9 442.3h0M268.3 425.4h0M246.9 458.8h0M243.4 399.9h0M229.3 417.6h0M260.8 433.1h0M242.3 439.3h0M263 442.9h0M229.6 419.9h0M228.8 418.6h0M276.1 397h0M257.6 434.1h0M225 427.1h0M257.8 450.8h0M248.2 460.1h0M262 394.4h0M232.8 416.9h0M241.2 448.8h0M245.4 434h0M245.3 450.5h0M242.3 440.5h0M239.9 446.3h0M242.1 454h0M244.4 456.3h0M237.3 446.3h0M240.6 438.2h0M238 438.7h0M240.8 448.2h0M236.8 439.3h0M243.6 443.6h0M235.2 441.3h0M239.3 455.7h0M237.4 438.3h0M246.6 444.1h0M243.5 442.6h0M233.1 441.5h0M235.9 449.8h0M241.5 444.3h0M244.3 456.4h0M236.4 437.2h0M239.6 458.1h0M242 449h0M239 454.3h0M238.9 440.6h0M248.6 451h0M238 442h0M253.3 434.6h0M240.9 464.4h0M248.5 446.7h0M246 438.9h0M241.4 441.3h0M232.2 442.5h0M236.2 443.7h0M245.6 455h0M232 458.9h0M242.3 442.8h0M237.8 448.1h0M241.2 442.3h0M235.1 437.5h0M233.1 446.7h0M235.4 453.3h0M239 457.2h0M241.7 448.5h0M248.6 444.6h0M236.9 447.9h0M239.3 437.6h0M236.3 449.9h0M246.8 449.6h0M236.8 446.3h0M239.5 459.9h0M234.5 465.2h0M239.8 444.6h0M241.8 446.2h0M250.7 444.4h0M231.1 446.6h0M248.3 434.3h0M240 458.5h0M242.4 458.7h0M234.8 456.4h0M231.9 457.8h0M241.3 463.7h0M236.2 461.1h0M237.3 460.9h0M234.5 456.6h0M239 465h0M242.5 460.1h0M238.8 461.2h0M241.3 466.9h0M236 463.1h0M230.7 455.5h0M236.9 460.2h0M236.2 465.1h0M235.7 461.3h0M230.8 458.4h0M246.1 458h0M236.2 461.4h0M229.9 455.3h0M242.4 456.3h0M232 463.1h0M234.1 458.9h0M234.3 463.3h0M236.5 467.1h0"/>
<path stroke="#c28b34" d="M243 461.3h0M235.4 475.5h0M241 460h0M235.1 481.1h0M232.7 464.2h0M230.5 481h0M244.1 465h0M237.3 482.3h0M234.1 473.6h0M240.6 477.7h0M239.6 481.3h0M251.1 475.1h0M231.1 480.2h0M245 481.4h0M232.8 477.6h0M231.4 470.5h0M252 468.9h0M249.4 464.5h0M238.5 464.8h0M253 472h0M249 482.7h0M241.6 475.7h0M234.2 459.7h0M253.4 477.1h0M235.5 473.7h0M234.1 468.9h0M255.1 475.2h0M238.1 469h0M251.5 465.2h0M246.3 481.7h0M237.1 461.4h0M251.7 464.1h0M243 480.6h0M249.3 472.4h0M239.9 460h0M241.7 459.3h0M254.9 470.8h0M235.6 464.8h0M246.9 478.9h0M256.1 473.1h0M248.7 467.9h0M232 468.6h0M249.9 483.6h0M236.5 467.7h0M241.2 481.9h0M244.1 480.1h0M233.1 472.7h0M251.3 475.1h0M246.4 460.5h0M230.8 467.4h0M241.2 478.8h0M236.4 460.9h0M243.3 478.5h0M252.8 476.3h0M237.6 465.4h0M233.9 474.3h0M235.4 467.4h0M235.6 474h0M238.3 466.8h0M239.5 460.8h0M252.6 466.2h0M252.5 476.7h0"/>
<path stroke="#7e8450" d="M323.3 425.1h0M335.8 417.9h0M314.6 417.3h0M356.2 430.7h0M338.1 417.3h0M330.5 415.6h0M310.8 426.9h0M319.2 429.1h0M346.9 428.5h0M353.6 459.8h0M343.5 415.9h0M353.5 443.1h0M324.8 457h0M320.7 454.5h0M312.5 452.6h0M340.9 457h0M315.6 452.6h0M414 490.4h0M447.7 437.3h0M382.2 505.2h0M485.7 475h0M490.4 509h0M396.7 477.4h0M455.4 460.1h0M477.2 471.2h0M404.5 497.4h0M516.1 459.9h0M475.8 516.4h0M506.4 461.8h0M392.2 475.4h0M399.3 455.6h0M446.4 530.7h0M439.9 474h0M456.1 437.7h0M495.6 515.5h0M468.7 461.7h0M494.1 450h0M484.6 493h0M438.9 482.9h0M479.6 506.3h0M378.7 481.3h0M466.9 520.1h0M479.3 494.7h0M399.1 492.5h0M496 472h0M427.4 538.5h0M509.7 459.6h0M499.2 499.5h0M408.2 467.1h0M462.8 513h0M461.7 460.7h0M500.4 467h0M397.1 495.6h0M470.7 460.9h0M482.3 437.8h0M485.4 512.1h0M441.2 520.4h0M422.7 491.2h0M484.8 508.5h0M465.1 497.2h0M497.6 490.8h0M458 517.4h0M420.4 521h0M486.3 521.7h0M473 531.7h0M411.5 533.6h0M418.5 525.9h0M496 506.3h0M401.4 530.8h0M414 536.1h0M416.2 535.2h0M467.4 501.1h0M473.7 491.8h0M439.6 526.8h0M410.5 530.5h0M401.2 523.3h0M492.1 502.4h0M412.6 499.9h0M455.9 540.2h0M478.2 524.3h0M372 492h0M399.8 521.6h0M447.6 497.4h0M437.3 503h0M417.5 534.2h0M50 517.3h0M48.8 509h0M38 519h0M39.2 510.2h0M39.7 517.1h0M48.1 518.5h0M58.6 510.1h0M38.4 516.9h0M60.2 509.6h0M35.4 514.8h0M45.5 512.4h0M20.3 537.6h0M17.7 540h0M20.5 554.3h0M27.3 541.2h0M21.7 550.5h0M22.7 539.1h0M22.5 555.5h0M33.4 550.2h0M16.2 549.5h0M36.2 532h0M27.5 546.7h0M18.4 548.3h0M24.9 554.2h0M19.3 537.5h0M38.4 532.4h0M33.1 556.2h0M29 543.4h0M32.3 552.2h0M35 534.8h0M98.2 532.3h0M164.7 576.1h0M67.9 565.4h0M123.6 531.9h0M101 474.8h0M153 572.5h0M97.6 493.1h0M94 496.4h0M161.9 532h0M60.3 554.6h0M152 564.3h0M127.6 490.1h0M75.9 534.4h0M126.1 490.9h0M89.7 493h0M136.4 508.1h0M53.5 568.4h0M158.6 546.4h0M132.1 554.3h0M118.9 542.3h0M130.2 539h0M96.9 480.3h0M54.6 560.1h0M90.3 505.2h0M67.8 505.4h0M95.1 512.8h0M100.1 505.3h0M76.2 521.1h0M81.7 517.5h0M75 513.2h0M89 519.7h0M86.2 520.3h0M94.6 520h0M82.2 498.5h0M97.5 516.3h0M63.1 507.2h0M102.7 515h0M100.2 504.7h0M84 516.6h0M99.7 504.7h0M97.6 518.2h0M95.8 511h0M96.6 508.9h0M103.9 509.6h0M88.2 507.5h0M72.2 504.2h0M61 510.2h0M95.8 505h0M101.9 508.1h0M89.2 504.5h0M99 506.9h0M71 503h0M71.3 515.6h0M106.8 506.3h0M76.4 505.4h0M70.5 506.3h0M75.5 518.1h0M72.2 509.7h0M82.3 521h0M104.6 510.4h0M73.3 505.2h0M88.7 519.9h0M103.7 515.3h0M100.7 520.7h0M84.1 506.3h0M90.4 501.3h0M78.3 504.9h0M98.5 513.6h0M95.2 499h0M67.5 505.6h0M102.7 507.2h0M86.4 503.9h0M93.4 500h0M100.9 512.8h0M96 516.8h0M94.2 520.5h0M98.9 502.7h0M89.2 518.9h0M62.6 508.8h0M95.1 515.6h0M73.8 515.4h0M84 505.1h0M101.7 514.4h0M99 508.4h0M97.4 505.2h0M102.8 506.5h0M83.5 500.5h0M90.6 518.5h0M83.9 518.7h0M80.1 504.1h0M74.7 517.5h0M65.7 510h0M95.5 500.4h0M72.7 508.4h0M102.9 508.3h0M67.5 509.2h0M99.6 513.9h0M82.4 504.6h0M82.1 513.7h0M102.4 511.7h0M105.5 508.3h0M99.8 509.3h0M68 509.7h0M81.7 519.2h0M78.9 506.6h0M50.5 558.9h0M70.5 548.6h0M59.2 555.1h0M87.5 532.1h0M75.1 526.8h0M48.9 538.8h0M58 552.2h0M41.7 538.4h0M47.9 533.5h0M88.4 537h0M50.2 534.5h0M35.6 563.6h0M71.5 548.1h0M45.8 543.8h0M74.8 529.3h0M39.4 562.7h0M52.9 561.3h0M52.4 531.5h0M49.8 570.9h0M69.3 549.8h0M85.5 526h0M68.4 527.6h0M53.3 530h0M74.2 546.3h0M85.6 540.8h0M66.9 555.8h0M41.9 567.9h0M46.8 538.1h0M70.9 525h0M88.3 529.2h0M36.2 563.1h0M87.1 539h0M89.2 536.9h0M48.9 536.8h0M49.7 532.9h0M52.7 554.5h0M54.8 537.2h0M64.8 554.5h0M35 555h0M69.8 523.8h0M58.5 553.8h0M74.5 524.6h0M32.1 567h0M50.1 566.7h0M77.8 546.5h0M38.1 546.6h0M55.1 554.1h0M91.8 530.1h0M40.4 550h0M89.1 528.6h0M31.7 554.4h0M67.5 553.2h0M89 529.9h0M35.8 553.3h0M31.9 558.2h0M37.9 565.8h0M49.3 569.3h0M94.4 527h0M88.3 543h0M70.2 547.9h0M95 533.4h0M63.5 548.3h0M36.4 558.6h0M87.7 531.5h0M76.5 544.5h0M73.3 528.4h0M40.1 558.9h0M33.9 561.9h0M47.7 567.2h0M93.3 531.5h0M90.9 530.8h0M95.9 535.9h0M42.4 562.7h0M60 552.5h0M46.7 537.4h0M51.2 561.6h0M35.2 564.5h0M30 562.1h0M43.2 566.1h0M57.7 555.9h0M63.3 554h0M70 546.2h0M49.4 566.8h0M34.9 559.3h0M48.9 559.8h0M90.5 540.5h0M78.9 527.4h0M36.4 566.2h0M53.8 560.5h0M63.2 553.4h0M47.7 564.7h0M88.8 537.4h0M58.6 530.2h0M80.2 522.6h0M46.2 538.6h0M73.3 551.4h0M51.6 559.2h0M71.6 546.2h0M48.6 565.3h0M84.6 525.6h0M35.5 558.9h0M48.8 554.7h0M60 530h0M70.9 554h0M60.4 531.6h0M42 550.3h0M38.8 553.7h0M77.2 545.8h0M48.4 537.3h0M42.7 546.2h0M59.8 530h0M42.6 565.6h0M41.6 568.5h0M74.5 548.5h0M90.8 546.6h0M71.9 551.8h0M63.9 526.6h0M41 539.5h0M62.7 531.6h0M78.4 525.5h0M56.9 556.8h0M88.3 537.7h0M37.2 550.4h0M89.4 540.6h0M78.9 528.8h0M33.9 555.7h0M50.9 531.4h0M58.9 531h0M64.7 544.9h0M62.6 524.7h0M89.9 537.5h0M73.5 522.5h0M46.9 563.8h0M36 556.9h0M44 571.3h0M33.2 570.6h0M92.1 537.7h0M383.9 526.5h0M379.8 525.8h0M382.2 518.7h0M385.3 523.5h0M383.2 519.9h0M379.8 520.4h0M376.8 519.5h0M378.8 511.9h0M384 529.5h0M380.3 511.3h0M385.7 521.6h0M383.7 527.1h0M377.5 532.1h0M389.6 527.8h0M382.2 521.1h0M390.7 532.9h0M387.9 520.9h0M370.3 504.5h0M379.8 525.6h0M383.1 534.5h0M371.3 507.4h0M372 508.9h0M380 518h0M376.7 512.4h0M384.1 532h0M385.3 527.9h0M377.9 511.4h0M374.5 511.7h0M384 522.6h0M385.1 534.7h0M379 518h0M370.4 515h0M374.8 525.1h0M391.9 516.1h0M379.8 517.3h0M377.1 505.2h0M379.3 516.4h0M369.8 519h0M375.1 518.6h0M381 508.8h0M72 514.6h0M59.9 530h0M57.9 523.8h0M68.8 521h0M65.5 524h0M55.9 529.5h0M48.6 533.1h0M38.2 536.3h0M75.5 517.6h0M69.9 515.4h0M58.8 520.6h0M52.4 524.2h0M39.4 525.3h0M31.7 523.5h0M60.4 521.6h0M75.5 514.7h0M66.6 534.9h0M86.5 514.1h0M45.7 523.6h0M64.5 526.2h0M52 532.8h0M74.4 529.4h0M50.1 527.5h0M70 518.5h0M38 538.5h0M53.7 525h0M69.6 521.4h0M65.8 520.5h0M26.1 531.1h0M63.1 519.9h0M73.2 523.3h0M69.3 532.3h0M52 532.3h0M73.2 530.8h0M74.4 526.5h0M33.5 542.9h0M38 530.9h0M59.6 535.5h0M45.3 531.2h0M89 522.3h0M60.9 531h0M58.1 522h0M86.1 533.8h0M62.1 527.2h0M85.6 525.6h0M72.7 519.7h0M30.6 532.9h0M43 532.9h0M73.4 533.5h0M76.8 519.6h0M53.9 524.8h0M89 518.2h0M85.7 513.9h0M60.7 522.4h0M82.1 510.6h0M70 522h0M64.9 518.3h0M61.8 530.7h0M65.4 526.5h0M81 519.3h0M64 523.7h0M64.1 524.7h0M49.6 525.2h0M43.1 531.5h0M51.8 522.3h0M72.5 526.2h0M41.2 530.5h0M42.9 532.5h0M43.9 531.8h0M92.8 517.9h0M68.6 524.6h0M64.3 536.3h0M41.2 533.8h0M60.4 538.8h0M51.4 528.1h0M44.2 541h0M80.6 517.2h0M62.9 518h0M54 529.8h0M38 533.8h0M72.1 518.9h0M46.6 532.3h0M40.3 532.4h0M77.8 518.7h0M95.5 513.1h0M52.2 526.3h0M52.4 517h0M73.9 517.9h0M75.6 526.8h0M63.2 532.7h0M26.1 528.1h0M68.8 523.7h0M60.3 522.9h0M76.8 519.1h0M76.9 520h0M51.6 535.5h0M62.2 525.2h0M38 528h0M42.5 524.8h0M69.3 520.1h0M82.2 514.6h0M61.5 532.1h0M80.2 520h0M61.8 518.3h0M57.4 533.2h0M60.4 539.9h0M65 521.8h0M35.4 531.8h0M46.3 531.3h0M75.8 516.8h0M61.2 525.6h0M59.8 530.4h0M69.4 526.5h0M64.1 525.7h0M75.5 526.4h0M73.5 518.6h0M67 516h0M65 521.5h0M61.1 524.1h0M43.3 531.1h0M60.1 520.4h0M61.7 530.1h0M61.9 527.5h0M42.7 528.4h0M53.7 535.9h0M65 528.6h0M72.1 530.1h0M31.2 536.5h0M35.4 536.7h0M65.4 522.5h0M40.7 525.3h0M73.3 526.6h0M73.8 533.9h0M70.1 524.6h0M82.9 518.2h0M54.1 530h0M83 521.6h0M86.7 512.5h0M39.3 542.2h0M40 542.5h0M65.7 524.9h0M44 526.6h0M65.1 521.3h0M63.1 524h0M70.6 529h0M65 524.7h0M90.2 529.9h0M53.1 526h0M28.4 530.4h0M74.9 522.8h0M70.8 531h0M38 530.5h0M61.3 518.3h0M49 533.5h0M63.5 524h0M54 527.6h0M53.5 521.9h0M66.2 524h0M74.4 521.8h0M59.3 532.2h0M74 520.5h0M61.3 520.2h0M52.4 529.6h0M73.1 511.8h0M81 529h0M52.4 535.3h0M66.8 534.5h0M57.8 528.6h0M67.4 527h0M48.7 521.5h0M72.4 519.3h0M61.4 528.9h0M40.6 541.7h0M52.1 528.4h0M48.9 535h0M49.5 521h0M65 517.8h0M92.9 523.5h0M51.8 526.5h0M69.1 523.2h0M40.8 535.3h0M67.7 520.5h0M55.5 535.7h0M55.2 528.4h0M62.6 525h0M57.7 522.9h0M42.1 528.8h0M81.7 526.4h0M60.5 527.5h0M40.9 528.1h0M58.1 534.9h0M96.2 520.2h0M98 518.8h0M32.9 539.6h0M54.7 531.8h0M51.4 520.3h0M72 533.4h0M55.7 527.5h0M86.9 522.9h0M68.5 526.6h0M49.6 530.9h0M34.9 536.1h0M34.8 524.3h0M60.9 533h0M68.3 528.2h0M59.3 524.1h0M53.2 528h0M58.7 533.5h0M67.4 519.1h0M57.8 527.3h0M37.7 532.5h0M83.2 512.8h0M51.1 526.3h0M70.5 518h0M59.2 521h0M61.6 534.3h0M74.1 519.4h0M79.1 527.4h0M54.3 532.5h0M65.9 522.9h0M53.5 534.2h0M60.1 527.5h0M71.5 528.5h0M42.1 533.5h0M64.7 520.5h0M68.9 526.3h0M62.7 522.9h0M73.8 527.7h0M45.8 537.3h0M87.9 516h0M84 517.9h0M64.7 527.6h0M79.4 517.5h0M75.8 523.9h0M75.3 521.4h0M63.8 529.8h0M39.9 542.1h0M72.5 520.1h0M53.1 529.6h0M99.2 527.7h0M83.5 518.4h0M72 532.2h0M77.4 519.5h0M87.5 517.9h0M57.8 528h0M69.6 517.6h0M61.7 521.7h0M67.2 518.2h0M78.1 522.9h0M58.4 522.7h0M68.1 525.5h0M80.8 517h0M36.6 529.3h0M83.6 525h0M51.4 529.7h0M51 532h0M97.9 520.3h0M56.4 523.9h0M84 523.6h0M82.1 522.4h0M46.7 568h0M49.4 553.8h0M44.7 550h0M51.8 547.1h0M34.1 556h0M61.8 550.1h0M60.2 547.3h0M47.5 558.4h0M64.9 549.3h0M46.2 544h0M57.4 549.1h0M52.3 555h0M51.2 554.6h0M32.4 561.3h0M50.4 557.3h0M54.1 543.5h0M58.9 546.5h0M57.8 552.1h0M57.6 555.4h0M51.4 551.3h0M26.6 563.7h0M32.1 554h0M50.3 559.3h0M49.9 547.1h0M64.2 551.9h0M60.5 551.2h0M47 555.4h0M60.2 549.7h0M49 547.8h0M54.7 553.1h0M47.5 552.7h0M43.2 547.7h0M61.4 554.5h0M41.8 552.5h0M52.5 557.1h0M50 548.3h0M43.5 556.1h0M40.6 544.1h0M40.1 554.1h0M52.6 555.7h0M51.9 552.7h0M57 552.1h0M49.6 550.1h0M52 553.9h0M71.9 545.8h0M40.2 550h0M32.6 570.1h0M41.1 557.3h0M44.2 561.7h0M37.9 556.9h0M56.9 552.8h0M52 548.7h0M44.2 549.8h0M35.3 546.6h0M68.6 538.4h0M51.5 557.3h0M48 551.5h0M57 546h0M51.6 541.8h0M49.9 552.6h0M57.8 551.3h0M33.3 560.7h0M56.3 556h0M54 543.5h0M69.4 558h0M52.8 559.9h0M70.5 534.5h0M49.7 549.4h0M45.3 544.7h0M53.7 555.3h0M42.4 565.3h0M21.7 550h0M75.4 557.8h0M50.3 567.8h0M68.5 540.1h0M60.9 554.3h0M50 553.8h0M44.7 558.1h0M51.7 555.6h0M56.2 547.5h0M72.1 540.3h0M40.1 548.8h0M38.5 559.8h0M60.5 541h0M57 546.2h0M64.6 543.2h0M58.1 543.8h0M53.4 549.2h0M45.3 557.6h0M51.2 539.8h0M58.9 549.9h0M53.2 553.1h0M51 539.6h0M65.5 545.8h0M52.3 543.1h0M61.2 533.4h0M65.7 554.2h0M52.1 548.4h0M53.5 558.4h0M52.2 554.3h0M47.3 544.4h0M38.3 557.4h0M41.7 553.2h0M56.2 540.2h0M63.9 542.4h0M56.7 558h0M48.1 549.5h0M38.9 548.8h0M67.5 557.2h0M32.1 556h0M32 548.4h0M37.8 551.3h0M40.7 560.7h0M41.7 556.8h0M70.9 540.1h0M54.2 560.6h0M60.3 562.2h0M40.9 560.8h0M64.5 549.6h0M49.2 557.2h0M467 381.6h0M467.8 382.8h0M468.2 375.2h0M466.4 386.3h0M467.1 382.4h0M468.6 378.6h0M468.3 375.2h0M469.2 374.5h0M464.7 391.1h0M468.9 377.2h0M468.8 379.2h0M467.6 378.4h0M465.2 382.8h0M469.1 377.3h0M470.4 371.7h0M466.5 387.1h0"/>
<path stroke="#84a03c" d="M354.5 446.7h0M324.7 433h0M301.2 433.1h0M332.9 445.5h0M314.5 436.4h0M337.3 458.4h0M331.3 460.1h0M306.2 452.8h0M337.5 442.7h0M489.2 469.4h0M405.1 522h0M473.7 482.4h0M452.5 488.8h0M453.8 465.2h0M441.7 507.3h0M422.4 501.8h0M483.3 446.7h0M458.6 442.7h0M470.3 491h0M392.8 460h0M418.5 530.2h0M416.9 518.3h0M479.6 455.7h0M516.1 492.2h0M489.4 451.2h0M482.3 468.4h0M391.7 487h0M398.7 523.8h0M391 460h0M494 501.4h0M443.6 454.5h0M422.9 466.8h0M459.4 531.4h0M379.6 468.7h0M494 455.1h0M425.3 496.5h0M445.6 459.7h0M381.4 477.8h0M439.6 467.8h0M517 476.7h0M480.6 476.4h0M434.8 516.8h0M477 424.9h0M427.4 496.6h0M490.7 515.9h0M422 505.1h0M403.6 522.8h0M452.5 511.6h0M431.5 532.9h0M416.2 532h0M375.8 492h0M443.7 527.4h0M502.5 499.9h0M497.8 514.5h0M442.9 499.3h0M443.7 540.8h0M442.5 539.2h0M501.6 489.3h0M500.4 493.9h0M396.2 529.1h0M436.5 524.6h0M127.7 665.2h0M137.2 659h0M115.9 663.3h0M155.8 677.2h0M166.9 676.2h0M134.4 699.3h0M193 644.7h0M170.6 666.3h0M131.9 678.3h0M128.6 681h0M186.1 632.1h0M181.4 698.7h0M178.3 636.8h0M176.1 634.1h0M124.2 679.1h0M145.1 695.2h0M173.9 686h0M120.4 670.7h0M174.9 664.4h0M144.6 658.8h0M165 690.1h0M154.9 674.2h0M155.1 698.7h0M164.9 694.1h0M144.8 688.4h0M122.4 687h0M169.1 690.5h0M161.6 686.5h0M153.7 702.7h0M129.1 691.6h0M155.5 700.2h0M171.3 707.9h0M197 605.5h0M220.3 609.6h0M217.6 616.5h0M233.5 609.5h0M249.2 591h0M206.6 633.8h0M201 584.4h0M207.4 586h0M221.8 615.1h0M201.9 631.1h0M231.9 572h0M196 636.6h0M249.2 599.1h0M227.2 571.6h0M236.9 576.2h0M216.1 579.2h0M245.8 575.1h0M227.2 609.6h0M249.5 600.4h0M199.9 591.6h0M248.4 596.2h0M234.8 575.9h0M216.4 615.2h0M184.4 625.8h0M199.8 593.3h0M223.9 582.3h0M215.2 616.1h0M241.4 604.5h0M210.9 621.6h0M249.5 578.9h0M206.9 586.8h0M192 634.4h0M201.3 583h0M203.9 581.2h0M243.4 602.7h0M225.4 571.3h0M189.6 635.6h0M225 611h0M192.1 616.9h0M239.6 572.7h0M208.9 579.9h0M208.1 625.6h0M245.8 602.2h0M208.7 626.7h0M246.1 592h0M188.8 610.2h0M250.9 581.5h0M220.6 618.7h0M231.5 609.4h0M195.6 605.7h0M196.4 637.5h0M198.9 592.5h0M189.5 611.3h0M197.5 595.4h0M206.5 592h0M191.6 639.1h0M248.7 577.1h0M250.3 586h0M240.8 572h0M249.8 595.4h0M223.8 612.4h0M187.4 627.8h0M185.6 618h0M198.7 584.9h0M251.9 588h0M193.5 634.6h0M222.8 611h0M232.4 612h0M229.2 608h0M199.7 639.4h0M242.2 572.1h0M244 572.8h0M185.4 621.6h0M200.5 632h0M220.4 578.4h0M217.9 617.4h0M222.1 616.8h0M208.4 624.1h0M223 574.2h0M246.5 596.4h0M188.3 610.9h0M205 628.4h0M194 599.2h0M208.4 626.9h0M253.9 600.1h0M239.4 608h0M250.1 594.4h0M217.2 615.9h0M208.5 618.3h0M190.4 615.3h0M188.4 618.3h0M191.3 634.4h0M251.3 594.3h0M184.8 641.2h0M244.6 576.9h0M194.2 599.1h0M204.8 584.8h0M219.7 572.8h0M223.4 612.5h0M191.1 610.2h0M194 606.3h0M194.3 608.8h0M193.1 609.6h0M184.6 634.2h0M195.2 607.4h0M205.3 627.6h0M249.3 597.2h0M184.2 632.8h0M202.8 628.4h0M195.9 589.2h0M208.4 627.1h0M255.4 586.6h0M228.4 607.6h0M249.9 586.5h0M246.3 605.9h0M216 616.7h0M204.3 631.5h0M193 632.4h0M187.7 635h0M185.4 623.8h0M214.9 621.9h0M258.1 599.6h0M209.1 579.8h0M251.2 577.3h0M254.8 594.6h0M250.9 584.3h0M191.8 629.6h0M242.7 603h0M189.6 632.3h0M204.3 587.9h0M245.5 604.9h0M187.2 624.1h0M192.1 636h0M247.9 607.4h0M200.3 629.3h0M252.3 586.9h0M201.6 594.2h0M190.2 618.8h0M237.5 612.1h0M232.3 607.3h0M247.9 573.7h0M246.8 581h0M208.7 626.3h0M186.6 623.1h0M225 568.2h0M194.1 607h0M254.9 585.4h0M247.4 600.2h0M250.2 583h0M233.3 614.2h0M227.6 612.8h0M241.7 572.9h0M233.2 610.1h0M188.2 615.4h0M247.6 605.1h0M214.4 628.4h0M193.4 638.3h0M209 585.5h0M230.6 608.1h0M201.9 634.3h0M211.3 621.1h0M237.9 604.7h0M194.8 596.3h0M220.8 608.9h0M191.5 608.2h0M203.8 630.1h0M212.1 622.9h0M196.7 639.9h0M248.2 588.4h0M247 574h0M247 583.4h0M218.6 619.3h0M234.7 573.8h0M248.5 600.9h0M198.3 589.1h0M202 633.1h0M215.7 576.5h0M202.9 636.9h0M247.4 606.8h0M184.6 630.8h0M197.8 597.2h0M247.3 590.7h0M248.6 577.2h0M233.2 620.1h0M240 630.5h0M242.2 624.1h0M245.8 623.2h0M238.2 624.5h0M244.6 619.9h0M244 615.3h0M238 621.7h0M232.6 624.9h0M240.9 627.6h0M242 627.7h0M180.7 683h0M237.2 675.9h0M252 680.7h0M251.2 673.6h0M219 677.2h0M189.7 690.1h0M203.7 646.3h0M199.8 671.7h0M251.6 697.7h0M239.9 733.1h0M219.8 721h0M233.2 681.1h0M247 716h0M243.5 731.3h0M184.5 699.1h0M219.5 667.3h0M203.4 643.8h0M197.5 675.9h0M242.5 685.1h0M232.5 702h0M226.6 717.4h0M237.9 683.6h0M210.3 702.5h0M262.5 692.5h0M191.1 676.1h0M271.3 677.1h0M233.6 728.6h0M255.5 688.2h0M199.4 615.2h0M202.5 603.5h0M202.3 607.2h0M209.7 605.3h0M199.6 603.8h0M200.8 611.9h0M197.7 599.4h0M206.4 611.9h0M197.2 630.4h0M201.8 599.2h0M209 621.6h0M206.5 618.7h0M209.3 615.8h0M197 604.1h0M192.9 606.2h0M201.3 612.9h0M206.1 606.8h0M202.2 609.8h0M202.7 598.1h0M204.4 607h0M197.9 614.4h0M202.1 609.5h0M202.9 611h0M203 596.4h0M199.4 604.8h0M203 597.1h0M196 613.1h0M192.6 603h0M196.6 614.6h0M192.7 615h0M206 618.1h0M199.2 617.1h0M200.4 606.3h0M201.2 598.3h0M207 601.5h0M180.8 611.5h0M204.8 614h0M204.9 602.1h0M203.8 622.4h0M193.9 604.4h0M194.2 599.6h0M192 604.9h0M198.2 621h0M204.2 629.3h0M206.1 620.2h0M193.9 605.6h0M203.8 615h0M193.3 635.3h0M198.7 596.7h0M212.6 626.1h0M223.9 630.1h0M223 618.1h0M227.1 623h0M231.9 612.2h0M237 614.8h0M236.3 623h0M225.6 630.4h0M208.3 627.7h0M227.4 613.1h0M218 626.3h0M220.1 623.4h0M222.3 628.4h0M231.4 628.5h0M226.1 621.2h0M219.5 616.5h0M205.1 640.5h0M237.7 622.1h0M212.7 630.1h0M233.3 621.6h0M208.8 634.4h0M230.8 627.9h0M216 623.9h0M228.1 623.6h0M218.5 622.4h0M225.5 622.8h0M208.7 631.3h0M218.3 623h0M230.9 617.3h0M222.5 623.3h0M217.2 616.2h0M207.9 636.5h0M225.4 622.9h0M223.7 615.6h0M221.9 620.4h0M208.5 637.6h0M227.6 621.8h0M211.9 625.1h0M204.5 626h0M213.1 635.1h0M224.9 633.2h0M225.8 621.4h0M218 623.8h0M207.2 632.5h0M218.8 637.2h0M218.3 617.1h0M221.2 622.5h0M211.3 622.5h0M223.3 627.3h0M220.7 637.2h0M219.6 618.5h0M227.3 613.4h0M221.4 637.9h0M209.8 628.4h0M231.2 632h0M227.1 627.9h0M219.2 625h0M214.7 625.9h0M202.7 632.2h0M230.1 612.7h0M227 626.3h0M230.7 615.4h0M210.3 650.2h0M231 625.2h0M230.3 625.3h0M218.8 626.4h0M223.9 628.6h0M225.1 613.2h0M224.2 630.7h0M214.3 626.4h0M216.9 622.3h0M227.1 612h0M233.6 633.4h0M217.9 625.8h0M214.5 621.4h0M212.4 632.2h0M208.7 638.7h0M221.8 631.2h0M208.2 632.8h0M225.9 624.7h0M218.9 622h0M217.8 628.1h0M217 639.1h0M210.4 626.7h0M226.5 622.7h0M219.2 625.4h0M233.4 624.6h0M223.4 635.3h0M217.9 629.3h0M226.8 625.1h0M224.5 629.1h0M228.7 623.2h0M218.2 628.1h0M219 626.7h0M225.1 628.5h0M231.2 623.8h0M212.2 635.9h0M218.9 619.5h0M216.2 621.8h0M235.9 613.6h0M226.2 627.8h0M227.1 619.9h0M213.8 612.8h0M237 609.3h0M229.1 619.6h0M226.5 624.3h0M226.8 622.2h0M219.7 619.9h0M215.3 622.4h0M217.8 633.7h0M209.1 620.2h0M226 622.6h0M223.4 623.3h0M211.7 625.4h0M224.3 622.2h0M216 610.3h0M227 619.9h0M202 627.1h0M211.3 620.1h0M208.9 622.1h0M216.6 615.6h0M219.9 618.6h0M209.7 629h0M206.3 620.8h0M225.6 619.8h0M213.4 621.8h0M229.9 618.4h0M224.3 634.6h0M216.6 625.1h0M207.2 618.4h0M224.1 623.5h0M230.1 630.9h0M218.5 612.8h0M213.5 612h0M226.1 634.2h0M210.3 624h0M229.3 630.4h0M211.8 630.7h0M228.5 621.1h0M220.6 610.1h0M218.1 634.8h0M217.5 635.6h0M220 629.1h0M225.2 620.7h0M212.2 624.8h0M213 626.2h0M224.4 606.1h0M216.8 619h0M205.8 615.8h0M221.1 621.4h0M217.7 633h0M223.5 622.4h0M231.7 616.3h0M238.1 614.7h0M224.4 615.2h0M214.8 629.6h0M209.7 633.1h0M221.8 635.1h0M214 625.8h0M208.6 620h0M214.1 619.8h0"/>
<path stroke="#2c5d9a" d="M351.8 437.7h0M299.4 446.2h0M329.7 467h0M347.3 437.2h0M328.8 442.6h0M297.9 439.4h0M317.2 466.9h0M350.7 439.1h0M358.2 453.4h0M343.6 468.2h0M352.4 464.5h0M346.3 461h0M357.6 464.9h0M350.8 437.2h0M300.8 447.5h0M309.9 447.9h0M308.4 460.2h0M345.8 460.6h0M332 442.9h0M359.7 438.7h0M329.1 464.4h0M329.5 442.3h0M304.3 445.4h0M316.7 440h0M337.4 465h0M322.5 441.5h0M311.4 461.6h0M308.7 453.6h0M355.7 459.2h0M302 441.9h0M331.7 439.4h0M312 444.4h0M354.9 452.5h0M361 435.7h0M300.2 451.5h0M300.4 445.9h0M351.1 463h0M320.9 465.7h0M330.9 443.1h0M300.4 447.9h0M359.7 442.3h0M324.3 463.6h0M338.4 464h0M346.6 470.5h0M335.4 467.2h0M359.7 452.4h0M342.2 439.6h0M295.3 444.2h0M339.4 443.5h0M298.1 449h0M299.2 450.1h0M360.7 447.6h0M320.9 458.4h0M321.7 439.5h0M297.3 446h0M355 456.3h0M312.2 444.7h0M322.8 463h0M322.5 442.7h0M324.5 462.6h0M344.2 439.5h0M344.8 467.2h0M355.3 463.1h0M302.4 456h0M310.4 462.7h0M293.5 450.5h0M310.1 455.2h0M308.7 456.4h0M357.9 448.7h0M356.6 455.1h0M337.8 447.9h0M355.8 444.4h0M299.3 442.4h0M304.8 458.7h0M344.2 437.7h0M309.7 444.8h0M300.5 457h0M333 466.9h0M342.5 441.6h0M358.6 443.9h0M348.8 439.9h0M314.9 460.3h0M353.7 439.5h0M360.7 459.8h0M349.9 461.5h0M345.4 440.6h0M335.1 469.4h0M325.6 461.1h0M346.8 438h0M337.8 467.4h0M311.4 445.3h0M302.2 447.4h0M342.5 436.9h0M334.7 465.5h0M314.4 465.3h0M306.6 458.1h0M362.3 444.9h0M354.6 459.9h0M300.3 442h0M346.1 463.1h0M308.2 456.9h0M360.3 440.4h0M353.2 440.5h0M307 438.7h0M303.4 455.7h0M299.4 441.8h0M336.3 466.2h0M362.7 456.5h0M354.8 439h0M347.2 463.5h0M345.7 463h0M331.5 469.5h0M361.1 451.2h0M306.2 442.7h0M359 458.6h0M301.9 441.2h0M343.4 469.3h0M357.9 462.4h0M330 438.8h0M297.4 455h0M302.3 442.7h0M357.8 444.8h0M333.9 441.4h0M311.2 440h0M358.5 450.1h0M330.8 472.8h0M337.6 465.5h0M305.8 438.4h0M355 460.4h0M355.5 455.1h0M308.6 441.1h0M300.5 450.1h0M309.3 457.3h0M323 439h0M357.3 442.7h0M344.6 440.5h0M358.3 452h0M314.3 462.3h0M338.4 464.8h0M358.5 447.2h0M485.1 528.5h0M460.1 491.8h0M490.6 521.6h0M501.8 483.5h0M454.4 542.6h0M481.5 487.9h0M398.6 533.7h0M496.1 512.1h0M372.8 502.8h0M503.9 516h0M517.7 490.8h0M397.2 528.2h0M385.4 518.5h0M402.7 484.1h0M462.1 487.4h0M376.2 496h0M511.3 496.7h0M496.5 486.5h0M457.5 496.3h0M489.1 522.2h0M454.1 490.6h0M381.2 520.3h0M391.8 485.1h0M515.2 490.3h0M403.2 534.7h0M391.1 531.8h0M407.2 487.3h0M396.3 490.3h0M459.4 484.7h0M397.9 487.8h0M403.1 493.6h0M408.8 536h0M414.9 535.7h0M411.4 490.1h0M483.4 526.9h0M399.3 528.3h0M509.5 485.7h0M490 491.3h0M483.9 479.2h0M397.6 486.1h0M374.7 508.3h0M380.7 492.2h0M465.7 538.7h0M376.2 505.2h0M510.9 495.7h0M511.1 508h0M460.2 540.4h0M419.8 488.9h0M507.2 503.2h0M399.4 530.7h0M394.8 533.3h0M377.2 509.1h0M480.9 489.6h0M426.7 491.1h0M432.4 539.4h0M450.3 486.3h0M482 523.3h0M425.9 540.4h0M477.3 483.7h0M405.8 487.7h0M370.9 494.4h0M428.6 541.4h0M370.5 495.7h0M480.2 490.6h0M370 493.6h0M398.3 538h0M486.9 524.8h0M418.9 539.8h0M496.8 518.1h0M427.1 540.7h0M513.7 498.7h0M491.3 519.3h0M406.9 541.6h0M451.3 546.5h0M413.2 489.6h0M370.6 494.9h0M491.4 529.5h0M375.8 489.4h0M479.2 529.7h0M447.5 490.3h0M441.1 541.5h0M374.5 498.5h0M374.2 510.9h0M475.9 530.3h0M378.1 491.9h0M461.7 491.4h0M460.9 485.3h0M454.8 490.9h0M505 505.5h0M372.7 498.8h0M409.8 494h0M410.4 537.4h0M373.1 499.2h0M512.7 503.8h0M501.9 485.9h0M410.2 488.3h0M496.1 524.1h0M435.4 494.6h0M393.9 526.5h0M453.1 543.6h0M448 491.3h0M467.1 492.4h0M380.7 490.5h0M437.7 541.2h0M439.7 494.3h0M462.7 489.7h0M401.7 487.5h0M406.6 490.8h0M415.3 489.8h0M437.5 486.5h0M508 506.3h0M504 513h0M482.5 486.2h0M405.6 539.9h0M468.9 530.6h0M379.5 515h0M448.6 539h0M378.8 488.8h0M455.2 491h0M505 481.5h0M508.8 484.1h0M466.7 537.6h0M369.6 499.6h0M407.2 534.4h0M423.9 490.3h0M410.7 538h0M512.9 486.7h0M504.9 507h0M493.4 489.7h0M494 488.3h0M406 537.3h0M493.7 482.6h0M448.3 538.4h0M433.1 489.6h0M467.4 484.4h0M457.5 487.9h0M495.9 521.1h0M446.8 542.7h0M431.9 485h0M372.8 489.9h0M475.8 533.1h0M502.5 488h0M492.2 520.1h0M499.5 517.3h0M509.6 504.7h0M406.4 488.5h0M427.1 490.1h0M389.9 522.4h0M407.7 537.1h0M476.7 486.6h0M446.5 542.2h0M420.7 543.1h0M497.1 508.9h0M411.8 485.7h0M482.3 530.6h0M474.6 489.5h0M472.3 489h0M492.3 517.8h0M468.5 486.9h0M472.5 530.5h0M411.6 535.6h0M481.9 486.7h0M449.8 542.1h0M487.3 521.9h0M379.4 508.9h0M454.2 492.6h0M499.3 509h0M493.4 519.7h0M421 536.3h0M380.2 492.5h0M470.3 533.9h0M501.2 516.5h0M505.9 491.4h0M386.9 522.8h0M396.5 491.4h0M423.2 493.8h0M459.9 544.8h0M483.3 530.5h0M435.7 494.5h0M483.7 484.2h0M370.7 508.3h0M437.7 489.9h0M377.7 510.3h0M446.6 487.7h0M512.8 508.8h0M482.9 488.3h0M507.4 487.4h0M383.3 493h0M435.3 489.9h0M499 488.1h0M373.2 505.2h0M430.9 493.5h0M433.3 538.9h0M438.6 539.4h0M377.1 517.9h0M369.7 496.7h0M503.5 511.6h0M374.2 489.7h0M495.3 484.8h0M499.8 488.3h0M377.1 486.9h0M461.1 535.7h0M381.4 518.8h0M487.1 489h0M376.4 501.8h0M486.9 526.8h0M379.5 516.3h0M462.7 537.1h0M416 492.9h0M489.8 526.1h0M412.6 494.9h0M433.8 494.5h0M450.5 542h0M443.8 542.4h0M414.1 535.8h0M389.4 486h0M469.2 532.6h0M435.4 540.9h0M455.2 492.8h0M463.1 536.6h0M460.9 491.4h0M372.7 491.9h0M490.4 521.5h0M435.6 487.9h0M464.7 492.1h0M510.8 485.7h0M456.7 490.2h0M459.3 542.5h0M509.7 506.2h0M444.7 539h0M381.6 519.7h0M371.3 496.7h0M469.7 489.5h0M504.5 515.3h0M501.1 508.3h0M494.1 487.7h0M486.5 492.1h0M418.2 490.7h0M497.1 517.6h0M452.3 489.5h0M509.4 509.3h0M502.3 512.6h0M517.1 495.9h0M456.7 541.9h0M488.2 527.1h0M437.2 489.3h0M406.7 490.5h0M445.1 491h0M373 499.7h0M429.7 496.8h0M386 517.8h0M427.6 542.2h0M394.4 484.3h0M433.1 538.9h0M487.5 523.3h0M502.4 486.4h0M488.9 487.5h0M448.9 489.6h0M422 541.8h0M508.4 498.2h0M505.3 512.5h0M501.8 514.7h0M509.4 490.1h0M379.8 512.2h0M405.8 488.6h0M377.9 508.4h0M419.4 539.4h0M383.3 516.6h0M517 490.7h0M379.1 492.1h0M372.1 490.3h0M447.8 491.9h0M366.6 496.5h0M368.3 493.8h0M405.9 538.9h0M456 491.6h0M517.7 490h0M414.3 538.8h0M443 487.5h0M373.5 504.9h0M415.9 487.2h0M462.3 484.8h0M368.6 501.8h0M409.1 534.3h0M367.6 497.6h0M451 541.7h0M496.3 488.7h0M418.5 485.8h0M416.8 534.1h0M472.3 491.8h0M392.8 485.8h0M500 514.1h0M479.6 529.8h0M423.4 495.9h0M435.8 541.6h0M370.2 494.8h0M406.3 535.8h0M437.8 542.6h0M484.6 489h0M447.6 494.7h0M409.9 492.3h0M403.9 486.5h0M393.5 529h0M502.5 514.3h0M495.5 485.8h0M403 489.4h0M402.7 490h0M519.2 489.8h0"/>
<path stroke="#5f6b8e" d="M430.6 590h0M404.4 599.2h0M408.4 605.9h0M450.3 567.9h0M453.2 590.4h0M439.2 594.2h0M411.7 547h0M394.9 595.3h0M417 543.4h0M393.7 594.8h0M452.4 593.9h0M397.7 596h0M414.1 576.7h0M444.9 557.8h0M406.2 570.9h0M450.8 560.9h0M435.6 593.6h0M416.2 595.2h0M435.9 542.8h0M413.8 593.7h0M427 549.1h0M435.2 592.9h0M417.9 592.9h0M413.3 567.3h0M416.4 599.8h0M408.6 599.6h0M450.4 568.3h0M415.4 593.3h0M436.7 592.4h0M414.7 598.4h0M454 571.1h0M403.9 552.2h0M414.4 596.1h0M454.5 569.2h0M430.9 591.2h0M447.8 592.6h0M459.4 580.3h0M404.3 597.9h0M435.3 551.3h0M391.5 595h0M393.2 595.9h0M462 580.8h0M447.8 558h0M416.6 538.7h0M408.8 555.3h0M409.2 586.3h0M455.1 590.7h0M411.4 599.1h0M447.5 590.9h0M412.9 568.3h0M425.7 546.8h0M431.6 593.2h0M398.3 593.7h0M430.4 590.9h0M396.5 592.9h0M424.7 595.6h0M433.6 591h0M405.6 561.9h0M402 587.8h0M414.6 593.9h0M413.8 575.3h0M415.9 539.8h0M433 590.4h0M403.8 598.5h0M414.8 592.4h0M461.6 576h0M403.8 602.2h0M399.4 596h0M442.2 549.5h0M414.5 568.6h0M456.9 564.7h0M423.6 542.6h0M404 594.6h0M407.2 578.7h0M452.7 591h0M401.7 596.9h0M395.1 598.2h0M415.1 594.9h0M415.2 540.6h0M426.4 590.1h0M446 591.4h0M460.6 580h0M435 541.4h0M434.2 546.6h0M426.1 595.8h0M448.2 593.2h0M405.3 559.2h0M457.6 582.3h0M422.9 544.3h0M452.7 571.2h0M416.7 594.6h0M458.3 588.8h0M410.3 558.2h0M457.3 587.5h0M452 592.2h0M425.1 543h0M398.9 599.3h0M459.2 581.9h0M405.8 600.8h0M440.7 556.1h0M413 572.8h0M406.3 572h0M411.2 599.8h0M412.2 594.5h0M393.7 591.2h0M427.2 588h0M410.7 582.9h0M462.9 584.7h0M410.1 568.2h0M409.4 564.3h0M459.4 582.7h0M448.3 563.7h0M405.8 546.6h0M407 561.5h0M426.7 593.8h0M407.3 597.3h0M454.9 586.2h0M397.9 596.1h0M407.1 552.6h0M400.7 589.1h0M442.1 594.4h0M403.5 594.4h0M462.4 575.5h0M407.7 562.1h0M429.4 544.6h0M457.6 564.9h0M398.9 595.6h0M413.6 540.7h0M424 588.3h0M411.3 541.6h0M399.5 590.2h0M447.9 595.8h0M448.4 593.8h0M447.2 556.3h0M406.1 595h0M410.2 582.6h0M409 590.5h0M409.5 586.7h0M425.5 545h0M413.7 579.6h0M448.5 557.4h0M440.6 545.6h0M461.4 565h0M404.9 589.4h0M427.9 546.5h0M457.5 573.8h0M459.3 567.5h0M447.7 594.9h0M415.3 596.1h0M424.8 589.5h0M411.4 545.8h0M404.1 564.7h0M416.1 542.5h0M408.5 555.3h0M427.2 591.2h0M396.8 597.6h0M420 536.4h0M435.7 551h0M452.5 561.5h0M417.3 543.8h0M410.1 579.2h0M403.6 545.4h0M398.9 590.3h0M398.6 594.6h0M407.9 583.8h0M430.6 547h0M408.8 557.3h0M419.9 578.2h0M456.1 568.1h0M402.8 554.7h0M445.4 595.5h0M409.7 582.7h0M408.3 573.8h0M412.4 574.9h0M418.8 542h0M412.7 585.6h0M412.7 543.8h0M405 596.2h0M435.7 547.4h0M424 543.7h0M408.9 580.8h0M430.4 543.1h0M418.8 541.4h0M433.1 545.1h0M440 550.1h0M410.9 577.8h0M413.6 582h0M436 593.5h0M442.8 548.1h0M413.1 574.4h0M433.4 550.9h0M391.8 592.7h0M386.9 595.9h0M394.1 594.8h0M401.2 594.9h0M394.4 589.8h0M401.9 595h0M398.7 587.9h0M397 593.4h0M391.9 589.9h0M405.3 592.4h0M399.7 595.2h0M395.4 597.3h0M387 593.4h0M387.2 588.6h0M397.6 587.1h0M404.1 591h0M395.7 595.5h0M388.9 596.8h0M397.1 592.7h0M396.5 590.6h0M396.3 591.4h0M399.6 590.3h0M384.9 596.4h0M401.2 592.2h0M391.8 593.6h0M402.5 591.2h0M399.7 591.8h0M391.9 592h0M397.1 595.7h0M402.4 597.5h0M399.2 592.6h0M390.8 594.8h0M383.1 596.5h0M395.3 594.4h0M401.5 586.9h0M397.8 597.8h0M402.6 590.4h0M385.9 593.8h0M401.6 591.4h0M402 592.8h0M390 592.7h0"/>
<path stroke="#8b6746" d="M450.7 574.6h0M440.2 562h0M422 561.5h0M425.6 573.5h0M409.1 547.6h0M431.3 586.1h0M418.3 593.6h0M435.1 562.3h0M388.8 605.9h0M336.7 668.4h0M326.4 658.8h0M396 596h0M389.4 678h0M375.4 585.6h0M404.7 633.1h0M405.4 662.7h0M407.6 661.5h0M380.8 623.5h0M297.9 641.2h0M362.7 681.3h0M307.2 657.6h0M393.1 631.6h0M346.1 666.1h0M363.9 682.2h0M326.8 664h0M358.1 587.5h0M376 681.9h0M365.8 583.4h0M298.2 636.4h0M367.3 580.2h0M295.3 643.2h0M309.4 628.5h0M407.6 654.7h0M387.1 591.3h0M319.8 616.9h0M327.1 612.1h0M317.7 618.6h0M381.7 586.9h0M365.9 681.1h0M360.9 679.9h0M341.1 668.6h0M410.6 642.1h0M370.5 675.7h0M348.9 594.5h0M385.6 608.1h0M401.3 647.9h0M344 595.7h0M343.3 671.4h0M389.2 586.8h0M343.6 592.3h0M389.7 603.9h0M383.6 585.2h0M296 634.6h0M304.1 636.7h0M342.2 667.2h0M335.3 605.5h0M370.5 578.4h0M374.5 685.1h0M391.6 598.1h0M312.8 663.5h0M323.4 657.7h0M380.3 587.9h0M335.4 663.2h0M380.9 623.6h0M317.6 616.9h0M376.2 620.6h0M407.4 653.1h0M325.2 658.2h0M350.4 589.1h0M405.6 645.9h0M412.7 658.3h0M395.9 599.8h0M327.6 606.8h0M300.3 649.5h0M383 605.8h0M349 591.9h0M385 585.6h0M401.8 672h0M408 657.8h0M322.2 659.7h0M302.1 651h0M384.4 689.5h0M411.3 652.9h0M309.9 626.5h0M374.6 686.2h0M371.6 685.6h0M316.3 657.2h0M325.9 613.5h0M389.1 597.6h0M387.7 686.3h0M384.9 621h0M388.7 596.9h0M360.6 586.2h0M406 647h0M363.6 588.5h0M406.3 668.5h0M370.6 682.4h0M408.7 659.2h0M387.4 584.8h0M392.1 593.3h0M300.7 646.9h0M297.7 637.4h0M345.9 673.3h0M345.2 676.4h0M401.9 636h0M333 607.4h0M349.7 589.8h0M300.7 634.6h0M318.1 664h0M380.1 585.8h0M343.6 596.6h0M325.9 617.2h0M329.2 668h0M374.9 585.2h0M352 593.6h0M300.1 646.5h0M357.7 679.1h0M300.5 639h0M345.7 670.5h0M303.7 640.2h0M306.6 640.2h0M376 690.8h0M298.7 647.8h0M389.6 678.8h0M409.8 660.1h0M355.2 674.5h0M406.3 668.4h0M311.8 655.8h0M383.1 684h0M382 618.2h0M407.8 660.2h0M316.6 621.6h0M348.3 591.6h0M388.8 609.6h0M354.8 680.6h0M407.5 660h0M384.6 690.8h0M396.7 591.7h0M406.5 650.3h0M371.7 581.2h0M387.1 599.9h0M332.8 665.9h0M383 619.4h0M367.8 584.7h0M363.6 677.7h0M372.1 677h0M371.8 588.3h0M333.9 669h0M372.4 683.4h0M381.4 687.9h0M410.5 658.4h0M349.3 588.5h0M408.8 641.4h0M371.3 582.5h0M331.8 602.9h0M381.4 615h0M382.7 619.9h0M349.1 676.1h0M329.7 661.3h0M389.6 588.7h0M384.4 629h0M386.1 621.4h0M299.8 643.1h0M340.6 667.4h0M387.6 592.3h0M372.2 582.6h0M378 683.9h0M304.2 650.8h0M400.3 636.2h0M384 583.8h0M388.8 598.2h0M334.5 665.9h0M369.4 683.7h0M354.2 591.1h0M301.9 650.9h0M385.7 588.4h0M302.8 649.8h0M345.3 592.4h0M298.5 648.5h0M301.2 642h0M353.8 679.3h0M313.4 626.8h0M307.1 631.1h0M347.1 675.1h0M394.8 592h0M377.2 686.3h0M391.6 626.2h0M381.4 625.2h0M383.9 616.4h0M342.9 669h0M303 643.7h0M377.3 585.9h0M385.5 608.7h0M399 632.1h0M318.9 659.4h0M359.5 582.6h0M296.8 639.3h0M394.8 594.3h0M385.6 684.3h0M406.2 643h0M406.4 639.3h0M379.3 591.4h0M301.6 648.4h0M301.3 636.5h0M357.8 586.5h0M379.5 683.7h0M413.2 656.1h0M341.9 676.6h0M378.9 584.5h0M374.7 684.7h0M374.4 684.6h0M394.9 587.6h0M407.8 658.8h0M380.5 684.1h0M318 619.5h0M297 646.3h0M403.1 668.7h0M307.4 636.3h0M359.2 584.5h0M305.7 653.6h0M347 591h0M386.8 677.7h0M387.2 685.9h0M381.7 689.1h0M387.6 585.7h0M387.7 683.8h0M299.5 644.4h0M394.8 591h0M303.1 637.6h0M345.3 675.9h0M385.9 601h0M349.2 590.2h0M384.8 624.7h0M335 605.8h0M304.2 637.9h0M382.5 617.2h0M302.7 642.3h0M405.6 657.8h0M386 607.1h0M333.8 664.1h0M326.9 659.8h0M387.9 685h0M365.1 586.8h0M398.8 674.4h0M392.7 634.1h0M384.1 618.8h0M410.7 643.8h0M323.2 656.7h0M398.1 631h0M299.3 640.5h0M342.6 663.4h0M338.9 599.9h0M304.1 636.8h0M347.5 674.2h0M382.3 591.5h0M380.1 591.5h0M355.6 678.7h0M376.8 582.1h0M344.1 595.3h0M324.7 608.7h0M299.7 643.7h0M327.3 606.8h0M305.8 639.2h0M385.3 687.8h0M389.4 592.7h0M309.4 654.3h0M409.2 672.1h0M382.6 589.5h0M297.4 648.3h0M385.7 597h0M379.4 683.6h0M402.4 632.7h0M374.2 588.3h0M376.2 587.8h0M413.3 641.8h0M295.5 646h0M384 683.3h0M339.9 601.9h0M304.2 655.9h0M342.4 668.2h0M346.6 675.8h0M377.7 687.2h0M361.1 584.4h0M397.1 673h0M359.9 581.5h0M389.2 607.2h0M313.7 658.7h0M358.4 583.5h0M350.9 674.5h0M378.3 623.5h0M401.6 632.8h0M395.3 591.4h0M341.7 595.8h0M302.7 636.9h0M361.6 679.9h0M402 676.9h0M379.2 627.2h0M350.7 594.2h0M315.4 622.2h0M339.1 669.8h0M377.5 610.3h0M302.5 628h0M352.1 590.1h0M379.6 686.4h0M408.6 669.1h0M299.2 641.7h0M378.5 588.7h0M406 657.9h0M388.7 607.2h0M322.6 619.8h0M383.8 690.1h0M304.6 638h0M373.1 582.5h0M301.5 642.2h0M301.6 652.1h0M339.6 662.5h0M335 664.7h0M389.3 627.1h0M311.5 631.8h0M352.5 588.1h0M382.2 619.4h0M388.6 600h0M389.5 597.5h0M390.4 595.1h0M380.3 597.4h0M388.7 610h0M378 598.1h0M383.5 602.4h0M388.1 603.3h0M384.9 594.9h0M394.6 592.4h0M393.5 600.9h0M390.5 598.3h0M389.4 594.9h0M386.3 606.9h0M385.5 602.9h0M393 603.3h0M382 598.3h0M370.9 602.3h0M392.3 595.9h0M381.7 600.9h0M377.2 600.6h0M385.9 594.4h0M392.4 596.9h0M384.4 603.4h0M389.1 597.8h0M382.1 606.9h0M388.4 605h0M393.2 603.9h0M390.1 599.2h0M377.8 597.1h0"/>
<path stroke="#cbc08e" d="M33.4 520.9h0M54.5 520h0M41.8 522.4h0M39.6 508.7h0M30.8 511.2h0M60.8 517h0M55.4 506.1h0M37 508.3h0M61.1 508.7h0M50.3 514.9h0M54.3 518h0M39.9 522.9h0M57.4 512.4h0M60.4 518.4h0M39.4 523.1h0M65.1 508.3h0M62 514.6h0M54.4 505.7h0M52.1 508.4h0M41.5 521.3h0M45.2 508.4h0M36.1 513.1h0M57.1 516.3h0M32.1 522h0M41 505.6h0M29.7 510.1h0M33.1 511.8h0M53.9 501h0M32.5 520.8h0M58.5 507.5h0M58.5 506.2h0M48.5 521.2h0M35.8 513h0M64.9 507.8h0M35.3 509h0M48.7 522.8h0M59.4 511.6h0M33.5 520.7h0M57.4 513.8h0M70.3 512.2h0M64.6 518h0M66.3 512.5h0M45.8 517.1h0M37.4 509.8h0M46.7 508.7h0M43.2 506.7h0M64.7 510.6h0M51.9 523.7h0M41.9 523.6h0M40.7 510h0M59.8 511.4h0M30.1 515.9h0M61.2 505.8h0M40.7 527.5h0M49.8 520.8h0M63.9 506.5h0M62.1 515.6h0M36.1 515.7h0M40 521h0M46.7 507.9h0M45 519.6h0M58.2 513.8h0M67.4 519.3h0M37.9 528h0M31.2 515.1h0M56.8 509.9h0M31.3 522.9h0M33.2 518.6h0M59.9 518.9h0M61.2 517.6h0M42.7 510.1h0M36.2 522.7h0M48.5 518.2h0M34.6 518.7h0M49.9 502.7h0M33.5 515h0M46.6 506.5h0M48.3 531.6h0M14.8 549.3h0M33 555.4h0M40.9 553.4h0M41.6 544.6h0M43.6 533.3h0M40.4 551h0M43.4 528.9h0M43.2 528.4h0M26 551.6h0M28.2 553.4h0M38.6 540h0M45.5 532.2h0M38.2 548.1h0M47 532.4h0M34.1 553.2h0M21.5 535.8h0M46.9 532h0M20.8 554h0M28.2 559.9h0M12.5 554.6h0M46.1 531.5h0M14 553.2h0M29.3 561.3h0M24.7 535.4h0M23.4 558.1h0M16.8 537.2h0M42.8 546.6h0M30.4 528.9h0M22.7 533h0M36.3 545h0M15.1 554.1h0M14 536.2h0M44.3 529.4h0M37.9 525.6h0M13.5 540.2h0M11.7 545.8h0M38.3 539.2h0M35.9 545.4h0M21.1 562h0M32.2 558.6h0M30 530.5h0M21.8 563.7h0M13.1 543.5h0M10.1 542.6h0M14.6 554.9h0M10.5 546.1h0M38.7 559h0M7.7 556.2h0M37.5 556.7h0M30.2 559.7h0M10.9 550.7h0M16.4 549.5h0M31.6 556.3h0M45.6 536.7h0M13 540.8h0M41.9 528.3h0M42.3 542h0M24.8 559.7h0M23.6 555.8h0M34.8 556.6h0M34.2 530.3h0M42.2 546.3h0M36.6 549.2h0M34.5 559.6h0M42.5 529.6h0M19.4 553.1h0M38.5 542.1h0M43.1 552h0M13.4 549.4h0M11.1 543.9h0M28.4 554.7h0M30.1 556.7h0M41.5 528.4h0M14.4 553.6h0M44.1 538.9h0M32.9 556.3h0M11.8 549.8h0M16.5 555h0M10.4 540.5h0M32.5 524.4h0M34.2 553.6h0M29 559h0M34.9 563.2h0M43.5 546.4h0M39.3 530.4h0M35.7 549.5h0M12.4 535.1h0M15.8 550.6h0M14.9 553.2h0M27.5 556h0M37 549.5h0M77.4 514.6h0M78.5 515.6h0M73.1 506.5h0M72.5 509.1h0M90.6 502.4h0M80.8 518h0M95 513.1h0M84.3 511.1h0M79.5 515.5h0M91.9 514.5h0M89.5 517.3h0M91.8 503.1h0M94.6 515.8h0M91.3 510h0M83.6 512.1h0M85.4 516.8h0M88.4 505.1h0M75.3 516h0M88 503.1h0M88.3 528.7h0M36.4 562.4h0M61.6 539.1h0M40.8 549.5h0M49.9 561.4h0M76.7 543.3h0M61.6 547.3h0M51.3 544.3h0M63.5 550.5h0M52.3 545.1h0M39.4 560.3h0M66.7 540.1h0M69.7 548.8h0M65 535h0M74 547.3h0M78.9 530.6h0M43.2 551.7h0M41.5 550.2h0M52 558.3h0M46.5 548.9h0M71.7 540.6h0M82.3 540.5h0M72.6 532.2h0M37.2 565h0M73.2 528.4h0M56.5 539.2h0M68.4 533.9h0M74.8 528.5h0M62.4 544.5h0M73.6 534.8h0M74.8 538.6h0M39.9 564.9h0M67.5 530.2h0M35.9 557.3h0M79.6 527.6h0M45.6 560.8h0M52.5 538.8h0M73.2 534.5h0M73.4 539.5h0M53.1 556.3h0M45.5 548.6h0M37.2 553.9h0M48.3 553.3h0M51.1 557.7h0M52.2 544.6h0M54 540.1h0M72.3 543.7h0M52.5 554.3h0M52.1 557.8h0M22 520.8h0M31.2 531.6h0M35.4 525.2h0M34.8 524.7h0M59.5 522.9h0M43.8 523h0M43.6 528.2h0M48.7 518h0M24.9 525.3h0M32.4 527.4h0M25.4 526.8h0M41.6 525.8h0M35.4 526h0M32.6 527.2h0M43.5 519.7h0M35.5 523.9h0M27.8 526.2h0M37.7 520.8h0M28.3 527.5h0M47.3 522.4h0M33.3 527.3h0M48 519.1h0M28.6 523h0M34.7 530.5h0M42.1 527.5h0M30.9 530.3h0M35.1 526.4h0M31.1 532.5h0M46.5 519h0M49.2 524.6h0M40.8 530.7h0M47.4 526.3h0M27.2 527.9h0M16.4 525.4h0M33.7 525h0M40.4 526h0M34.4 523.9h0M27.9 525.7h0M53.9 523.6h0M28.2 526.5h0M37.3 518.4h0M35.4 528.1h0M43 522.3h0M38.6 524h0M33.2 524.5h0M28.9 525.8h0M35 526.3h0M42.7 526.7h0M27.2 524.3h0M46.6 530.1h0M45.5 525.9h0M57.1 520.3h0M44.9 526.2h0M30.2 528.6h0M21.4 532.5h0M47.4 523.7h0M30.3 521.9h0M43.2 520.3h0M46.3 518.7h0M48.4 524.5h0M25.8 528.5h0M35.9 518.8h0M29.6 525.4h0M47.9 532.1h0M36.2 523.3h0M35.4 523.8h0M42.1 533.9h0M53.9 525.1h0M37.5 525.5h0M21.2 524.2h0M37 525.9h0M39.9 526.1h0M41.5 520.8h0M36.4 522h0M19.2 519.3h0M46.2 528.9h0M45.2 529h0M32.5 528.7h0M44.3 520.1h0M51.9 522.7h0M39.4 525.8h0M32.7 525h0M40.9 519.5h0M46.3 522.1h0M54.4 526.5h0M47.8 524.8h0M49.6 517.5h0M33.3 524.6h0M43.4 527.4h0M35.6 524.9h0M44.4 523.6h0M36.2 525.5h0M26.2 526.1h0M22.9 532.8h0M36.3 524.4h0M55.7 520.1h0M47.7 519.3h0M23.7 536.2h0M35.7 530.4h0M44.3 516h0M43.9 525h0M39.2 524.1h0M44.9 528.2h0M29.5 530.7h0M51.7 517h0M36.6 534.9h0M35.6 522.2h0M34.3 535.3h0M46.4 521.9h0M40.8 524.8h0M42.6 526.4h0M43.1 530.7h0M42.6 519h0M37.8 523.3h0M40.7 528.2h0M20.7 529.4h0M39.4 522h0M38.4 528.5h0M37.6 526.5h0M52.8 520.7h0"/>
<path stroke="#e8912c" d="M156 489.2h0M93.3 503.5h0M64.8 569.9h0M143.6 495.9h0M146.7 521.3h0M126.6 500.9h0M147.3 527.1h0M138.4 572.5h0M113.7 532.4h0M104.4 508.3h0M59.3 565h0M60.4 552.9h0M28.8 619.4h0M63 615.4h0M27.2 621h0M24.3 636h0M64.2 627.4h0M40.4 639.9h0M47.9 636.1h0M67.2 619.4h0M61.2 628.7h0M28.3 619.9h0M45.4 635.6h0M61.7 626.5h0M59.1 626.3h0M37.5 638.2h0M32.4 618.6h0M43.6 639.3h0M47 613.8h0M30.5 621.3h0M26.2 619.3h0M19.8 631.1h0M57.5 632.3h0M43.2 640.2h0M24.7 630.9h0M23.1 634.7h0M22.5 635h0M15.9 631.5h0M41.6 621.1h0M33.7 618.9h0M58.2 626.1h0M18.1 632.8h0M54.3 613.5h0M21.4 634.2h0M65.8 617.6h0M43.5 612.6h0M19.5 636.2h0M59.8 613.2h0M61.5 628.4h0M18.8 624.6h0M31.8 644.8h0M47.8 618.4h0M29.2 621.8h0M54.3 629h0M52.1 615.7h0M16 630.2h0M56.8 621h0M44.4 635h0M54.9 632h0M27.2 626.3h0M63.4 615.9h0M47.9 637.2h0M49.6 614.2h0M57.6 629.8h0M17.9 633.6h0M58.8 613.9h0M42.1 621.7h0M61.1 615.1h0M22.6 634.4h0M44.5 635h0M35.2 641.2h0M48.4 634.2h0M49.1 617.6h0M22.9 628.7h0M49.2 632.9h0M42.9 640.9h0M34.3 615.4h0M32.5 640.9h0M23 638h0M21 623.2h0M54 634.1h0M26.4 621.9h0M34.2 640.8h0M70.5 620.4h0M64.5 615.4h0M23.2 628.6h0M26.7 637.8h0M39.3 617.1h0M64 620.9h0M45.2 617.6h0M30.6 638.6h0M20.5 639.4h0M23 629.2h0M67.2 612h0M64.6 625.2h0M65.7 616.4h0M19 630.4h0M23.7 639.2h0M56.7 632.3h0M51.2 630.8h0M64.3 622.2h0M59.3 630.5h0M66.9 619.1h0M53 639.6h0M24.5 623.4h0M60.6 634.9h0M15.7 633.8h0M37.9 621.1h0M60.3 613.2h0M29 638.2h0M32.5 621h0M65 618.4h0M53 615.3h0M54.1 635.2h0M54.9 609.5h0M66.4 616.7h0M50.4 639.1h0M54.6 635.1h0M53.4 618.6h0M56.5 615.7h0"/>
<path stroke="#ddd6c6" d="M48.5 471.3h0M47.3 471.8h0M33.8 472.9h0M29.1 467.7h0M42.9 465.8h0M31.3 458.4h0M40.8 464.1h0M45.6 459.4h0M47.1 457.3h0M30.3 463.2h0M43.4 470.6h0M41.6 462.7h0M27.1 463.9h0M32.7 475.1h0M43.6 467.3h0M30.2 456.8h0M32.2 476h0M32.2 469.5h0M49.4 468.1h0M35.6 474.7h0M41.5 463.8h0M42.6 473.9h0M27 464.6h0M25.4 466.8h0M26.9 460.9h0M37.3 457.4h0M34.8 472.4h0M31.2 468.1h0M42.6 461.8h0M34.8 459.9h0M37.2 471.1h0M49.1 465.5h0M27.8 466.4h0M28.3 471.3h0M41.2 467.7h0M36.3 463h0M34.1 470h0M31.7 460.8h0M40.8 466.7h0M20.5 465.1h0M32.6 464h0M36.2 460.3h0M26.9 470h0M21.9 467.6h0M49.9 474.5h0M50.5 470.8h0M24.4 461.3h0M36.5 475.2h0M23.2 464h0M51.6 465.5h0M25.3 469.3h0M40.1 470.7h0M26.4 457.6h0M25.9 458.6h0M23 459h0M22.1 461h0M22.5 456.4h0M24.4 457.3h0M19.7 458.9h0M15.9 457h0M26.6 460.9h0M22 459.1h0"/>
<path stroke="#5f7e5b" d="M162.4 632h0M135.9 641.8h0M177 689h0M112.2 662.8h0M119 650h0M200 648h0M113.4 681.4h0M109.2 671.8h0M166.5 629.8h0M188 631h0M112 673.6h0M179.5 697.1h0M193.4 652.8h0M115 684.5h0M201 636.8h0M114 672.1h0M184.3 707.3h0M185.8 666.3h0M180.1 690.3h0M109.1 677.2h0M183.5 703.1h0M195.1 657.5h0M136.3 700h0M123.8 694.1h0M184.6 705.2h0M150.1 634h0M163.7 628.9h0M110.7 672.6h0M165.4 630.7h0M120.1 695h0M140.3 635.9h0M192.4 633h0M199 638.3h0M180 679.6h0M155.2 704.3h0M178.7 708.5h0M123.5 687.6h0M183.8 664.7h0M198.6 629.9h0M194.7 648.4h0M170.3 709.1h0M177.1 685h0M111.6 679.6h0M184 681.6h0M184.9 663.1h0M172.8 626.6h0M185.8 652.9h0M185.1 699.7h0M179.8 622.5h0M178.9 686.8h0M176.6 668.3h0M133.3 696.2h0M184.6 703.5h0M160.5 706.6h0M185.2 656.9h0M124.6 647.2h0M179.1 684h0M120 688.2h0M190.3 649h0M127.4 644h0M138.8 700.9h0M126.1 695.2h0M144 702.6h0M121 646.5h0M190.7 702.1h0M181.5 665.9h0M135.3 639.4h0M124.8 690.8h0M196.6 644.6h0M109.7 680h0M194.3 654.6h0M188.1 708.3h0M110.5 673.7h0M167.1 629.2h0M167.3 707.2h0M181.4 667.4h0M173.2 676.6h0M116.1 664h0M200.3 642.3h0M186.3 659.5h0M112.3 668.9h0M177.9 702.4h0M124.1 657.8h0M169.4 626.3h0M153.6 704.4h0M130 696.7h0M120.5 689.2h0M132.9 640.2h0M137.9 637.5h0M189.1 657.9h0M175.9 707.3h0M115.7 680.3h0M107.4 668.1h0M118.2 683.9h0M121 660.4h0M117.2 673.4h0M121.3 694.5h0M198.3 644.3h0M113.8 671.6h0M139.1 700.5h0M109.8 672.8h0M185.1 695.3h0M138 637.2h0M126.1 653.8h0M179.4 704.9h0M138.9 637.1h0M154.7 630.6h0M128.6 652.8h0M177.9 686h0M183.5 688.7h0M181.2 630.5h0M180.3 675.8h0M124.3 649.1h0M157.6 705.7h0M186.9 655.1h0M177.6 631.8h0M112.1 677.4h0M165 632.7h0M168.7 709.4h0M115.4 682.9h0M119.8 683.6h0M110.3 672.6h0M126.3 692.9h0M174.2 710.4h0M194.4 642.9h0M184.8 705.2h0M169.4 706.7h0M177.9 674.3h0M192.2 643.7h0M107.1 674.4h0M176.1 676h0M199.7 644.9h0M114.7 663h0M112.1 672.4h0M161.4 628.2h0M181.1 673.2h0M183.5 689.1h0M122.4 654.3h0M179.2 689.7h0M115.7 688.2h0M116.7 666.7h0M124.7 649.3h0M140.7 635.9h0M181.3 689.7h0M189.2 651.5h0M176.5 706.7h0M120.7 651.3h0M173.9 713.2h0M134.2 641.8h0M120.6 656.5h0M196 651.4h0M153.3 632.4h0M117.9 684h0M150.6 699.9h0M183.5 701h0M161.2 630.8h0M119.3 657.1h0M111.4 678.4h0M180.9 700.4h0M187.2 701.3h0M190.6 635.3h0M130.7 698.3h0M128.2 638.5h0M161 633.3h0M187 696.5h0M170.5 629.9h0M140.9 634.1h0M143.7 698.5h0M112 676.1h0M113.3 683.2h0M176.6 682.3h0M127.9 695.1h0M141.1 707.3h0M174.9 704.5h0M149.8 631.7h0M191.6 655.8h0M177.5 675.5h0M180.2 686.4h0M181.6 676.4h0M175.7 686.4h0M143.2 633.2h0M169.1 632.7h0M154.3 707.2h0M172.8 683.4h0M193.6 647.9h0M165.6 702.5h0M137.5 636.2h0M185.8 628.5h0M140.8 707h0M182.1 703.2h0M198.8 636.4h0M153.8 631.2h0M142.8 636.7h0M123.5 691.4h0M193.5 650.4h0M179.8 633.1h0M125.7 695.8h0M121 657.8h0M156.5 628.4h0M173.3 674.1h0M185.3 705.4h0M186.8 661.2h0M126.2 649.9h0M187.5 665.5h0M116.2 686.3h0M194.3 649.8h0M172.5 630.4h0M115.7 687h0M114.4 664.3h0M182.3 706.9h0M168.7 630.8h0M115.6 672.4h0M163.3 708.1h0M113.5 677.1h0M135.2 700.3h0M180.6 701.5h0M173.1 707.9h0M117.6 680.6h0M156.3 634.1h0M162 705h0M122.8 651.4h0M195 638.3h0M132.7 643.3h0M160.9 702.9h0M152.8 706.8h0M140.4 701.6h0M178.8 680.4h0M118.6 659h0M133.8 699.6h0M168.1 707.7h0M141.5 634h0M157.9 706h0M149.8 703.6h0M164.3 633.7h0M183.8 697h0M179.7 667.7h0M181.5 695.9h0M126.2 651.3h0M113.2 671.5h0M117.1 679.1h0M180.8 691h0M134.3 701.1h0M191.2 644h0M185.9 666.5h0M186.7 700.7h0M177.7 630.2h0M134 641.4h0M182.9 691.8h0M151.8 700.3h0M214.9 603.9h0M209 611.3h0M223.3 608.6h0M206.6 594.9h0M231.2 591.6h0M202 600h0M202.3 596.8h0M222.3 582.5h0M228.4 586.7h0M201.8 609.3h0M221.5 612h0M208.9 597.7h0M213.1 649.4h0M213.2 645.4h0M218.6 647.1h0M212.2 641.6h0M209.5 648h0M222 654h0M216.6 653.8h0M229.2 659.7h0M213.1 647.2h0M226.4 648h0M194.3 652.3h0M224.1 642h0M208.8 650.1h0M208.2 655.6h0M220.8 652.2h0M216.5 655.6h0M216.6 642.3h0M215.9 649.6h0M212 645.9h0M210.7 646.9h0M220.4 647.9h0M207.6 651.3h0M222.6 659.7h0M216.7 652.4h0M200.4 642.5h0M202.7 649.4h0M205.5 655.3h0M220.1 649.5h0M202.2 641.7h0M213.9 649.4h0M204.5 651.2h0M200 645.1h0M208.9 646.3h0M228.8 647h0M204.7 650.7h0M208.2 644.8h0M226.4 645.5h0M207.7 653.1h0M212.7 645.9h0M212.9 642.4h0"/>
<path stroke="#3f5949" d="M125.9 663.8h0M151.2 653.2h0M149.1 660.3h0M117.6 675.5h0M150.8 691.8h0M174.6 652.7h0M153.2 699.3h0M180.7 665.2h0M158.1 669.8h0M129.6 689.5h0M172.6 677.9h0M165.5 631.9h0M137.6 638.7h0M147.9 700.6h0M154.4 666.2h0M169.2 638.1h0M158 655.1h0M151.7 668.5h0M161.8 685.6h0M149.6 693.1h0M121.3 674.9h0M129.4 645.7h0M176.5 698.3h0M160.1 676.5h0M173 672.6h0M142 642.4h0M127.3 689.6h0M158.1 704.5h0M159.7 674.6h0M122 690h0M177.7 681.5h0M123.8 653.3h0M200.8 715.2h0M232.1 658.6h0M267.8 690.1h0M227.2 654.6h0M205.1 715.4h0M260.3 658.2h0M192.6 646.1h0M233 659.9h0M215.6 639.5h0M264.3 708.8h0M267.5 711.8h0M268.7 666.6h0M186 661.3h0M274.4 668.6h0M186.3 660.8h0M224.5 648.2h0M266.6 717.2h0M205 717.4h0M254.3 729.5h0M206.2 647.8h0M200.9 641.3h0M228.7 726.9h0M199.9 642.2h0M197.1 717.4h0M181.8 680.1h0M199.7 644.8h0M243.8 727.3h0M278.5 669.8h0M203.6 721h0M178.3 692.7h0M210.7 643.4h0M216.8 642h0M218 648.7h0M233.6 656.2h0M187.8 662.6h0M179.5 705.3h0M191.9 715.3h0M230.2 660.1h0M243.4 663.8h0M254.5 652.5h0M222.6 728.8h0M190.3 657.3h0M276.9 694.8h0M192.8 707.8h0M275 681.5h0M270.5 706.3h0M179.6 670.8h0M244.4 738.4h0M255.6 664.5h0M282.2 674.3h0M188.5 702.3h0M262.7 715.7h0M275.1 682.7h0M189 703.1h0M267.3 663.3h0M235.1 658.3h0M178.5 696.3h0M262.4 664.6h0M236 731.4h0M179.4 700.1h0M267.5 664.1h0M272.7 670.1h0M263.9 712.9h0M204.7 718.7h0M191.5 650.6h0M225 733.6h0M223.5 651.2h0M183.8 696.7h0M196.9 716.3h0M273.8 689.7h0M226.8 648.7h0M180.8 674.6h0M222.8 727.5h0M256.9 723h0M217.2 730.1h0M274.4 703.6h0M272.2 680.8h0M269 711h0M177.7 680.8h0M181.2 699h0M179.8 671h0M227.5 653h0M271.6 703.1h0M224.7 733.5h0M267.1 696.2h0M240.8 733.5h0M264.1 658h0M197.6 712.8h0M217.6 644.7h0M231.3 651.8h0M223.4 731h0M185.5 654h0M236.2 659.9h0M187.9 663.5h0M276.9 700.4h0M182 677h0M191.3 709h0M175.6 693.6h0M210.4 725.4h0M220.9 731.9h0M235.1 734.6h0M261.2 658.8h0M261.2 661.5h0M255 729.2h0M270.5 685.5h0M232.4 659.5h0M234.7 661.8h0M262.8 721.5h0M233.2 655h0M256.7 661.1h0M249.1 669.8h0M245.4 660.9h0M263.7 662h0M279.1 686.8h0M198.6 709.9h0M180.5 687.8h0M234.4 734.6h0M228.1 736.9h0M186.8 707h0M278.6 668.6h0M222.8 727.9h0M245.9 727.4h0M187.6 660.1h0M243.4 662.7h0M213.5 720h0M242.4 668.5h0M271 665h0M275.6 673.5h0M200.1 635.3h0M276.4 671.3h0M216.5 728.7h0M260 662.3h0M225 729.3h0M228.7 653h0M239.3 664.8h0M271.3 714.6h0M237.6 660.3h0M232.8 727.6h0M252.5 733.3h0M267.8 711.6h0M245 663.9h0M191.2 711.8h0M244.8 732.5h0M197.7 712.5h0M260.8 710.4h0M247 662.6h0M275.7 697.9h0M244.4 661.2h0M210.9 643.4h0M198.7 720.6h0M202.1 633.4h0M187.5 659.5h0M247.7 669.4h0M254.9 669h0M215.3 730.7h0M201.3 718.6h0M250.9 669.7h0M241.8 662.2h0M249.4 657.7h0M226.9 728.5h0M184.1 704.6h0M227.4 650.7h0M268.9 698.9h0M264.6 704.8h0M255 663.7h0M227 648.5h0M214.5 645.9h0M185.1 660.9h0M190.6 646.9h0M277 685.3h0M180.8 681.3h0M252.4 726.4h0M240.7 660.5h0M248.7 730.2h0M215.5 648.4h0M229.9 734.6h0M182.2 675.7h0M209.6 719.1h0M270 676.6h0M191.1 708h0M219.8 644h0M272.2 665.8h0M266.3 705.7h0M206.7 639.7h0M265.4 707.4h0M235.2 730.9h0M261 713.6h0M272 699.3h0M228.5 735h0M221.8 728.2h0M272 664.6h0M274.7 670.4h0M188.9 648.2h0M183.2 658.4h0M209.2 725.5h0M224.3 728.5h0M265.9 663.8h0M199.9 638.1h0M265.2 661.4h0M181.8 661.6h0M190.2 712.8h0M208.9 643.6h0M195.8 648.2h0M237.8 734.3h0M277.2 683.6h0M236.3 730.9h0M262.4 656.1h0M198.6 641.8h0M237.2 664.7h0M258.3 660.2h0M246.1 665.3h0M248.9 727.3h0M251.3 730.5h0M254.4 723.4h0M196 709h0M226.1 655.3h0M259.1 661.9h0M217.9 642.6h0M250.6 667.8h0M271.2 704.2h0M258.6 659.4h0M183.7 657.3h0M243.9 657.5h0M277.6 695.6h0M190.3 649.9h0M275.7 684h0M187.8 661.4h0M229 738.4h0M232.8 735.8h0M192.3 715.5h0M207.8 722.7h0M237.6 735.8h0M263.5 722.3h0M254.6 659.4h0M180.2 690.8h0M191.6 664.1h0M216.7 723.2h0M272.6 662.7h0M181 699.5h0M256.9 659.9h0M227.2 730.9h0M212.8 726.3h0M214.8 642.9h0M249.2 667.6h0M231.1 733.2h0M266.1 716.8h0M255.8 732.2h0M191.4 645.1h0M185.7 658.4h0M270.6 700.3h0M244.4 732.1h0M246.4 727.1h0M268.5 673.7h0M191.2 709.5h0M188 708.1h0M213.9 647.4h0M227.6 649h0M255.5 726.9h0M184.6 695.9h0M241.1 666.2h0M178.4 685.8h0M279.3 697.5h0M269.5 704.7h0M224.5 732h0M242.1 671.6h0M176.7 682.6h0M225.5 730.5h0M269.3 685.8h0M227.5 728h0M222.7 729h0M220.5 730.1h0M221.7 644.8h0M272.9 704.3h0M256.9 655.2h0M261.9 720.9h0M267.3 694.5h0M247.1 664.5h0M182 669.6h0M265.9 714.8h0M234.3 735.2h0M234.3 646.4h0M234.7 640.8h0M224.6 639.9h0M232.5 637.2h0M215.5 638.1h0M239.2 637.3h0M231.6 646.7h0M240.2 643.4h0M224.6 639.8h0M238.3 636.7h0M245 644h0M233.2 640.5h0M229.9 630.9h0M244.2 645.7h0M217.5 625.2h0M218.1 637.4h0M219 635.3h0M223.7 635.4h0M234.6 629h0M231.8 634.3h0M237.8 635.8h0M234.5 646.5h0M241.4 636.3h0M249.4 650.4h0M237.1 639.6h0M222.2 635.6h0M229.3 631.5h0M225.6 637.6h0M224.2 638.8h0M230.4 632.4h0M220.6 643.9h0M238.1 634.8h0M229.4 643.8h0M229.4 641.6h0M224.8 637.9h0M226.6 646.9h0M223.5 636h0M221.9 638.1h0M222.3 636h0M248.4 647.2h0M237.7 643.6h0M236.4 632.8h0M238.5 644.9h0M233.9 647.6h0M234.6 640.8h0M238.3 649h0M227.3 628h0M217.7 645.1h0M225 641.3h0M229.9 646.6h0M232.1 638.7h0M244.5 644.9h0M240.5 635.1h0M238.5 644.1h0M226.2 642.5h0M223.8 643.1h0M229 644.2h0M228.1 638.7h0M224.7 642.7h0M221.3 636.3h0M244.8 657.1h0M240.7 639h0M228.9 646.2h0M238.1 649.6h0M239.5 653.4h0M243.8 648h0M259.5 657.3h0M230.7 648.6h0M237.4 645h0M249.2 653h0M232 642.3h0M236.4 645.9h0M223.5 645h0M223.4 643.9h0M238.5 637.2h0M239.8 647.4h0M234.9 650.8h0M245 657.3h0M246 640.5h0M233.1 649.2h0M237.2 650.6h0M240 648.4h0M234 652.7h0M223.3 646.9h0M238.1 643.4h0M239.8 648.2h0M238.6 645.4h0M235 654.1h0M243.6 655.1h0M232.2 641.4h0M235.8 649.4h0M232.6 640.4h0M247.2 659.8h0M238.2 655.1h0M229.6 656.8h0M235.9 650.4h0M232.6 653.8h0M223.9 649.9h0M234.8 648.8h0M239.4 643.4h0M236.8 645.3h0M231.8 653.4h0M248.8 655.2h0M228.7 653.7h0M235.8 654.1h0M245.9 643.5h0M239.4 657h0M235.3 647h0M249.3 658.8h0M246.4 659h0"/>
<path stroke="#a9cc94" d="M246.1 621h0M232.8 628.1h0M244.6 628.6h0M232 632.5h0M233.2 635.5h0M244.7 615.8h0M231.7 624.2h0M240.3 614.4h0M244.9 617.3h0M243.3 621h0M236.9 635.6h0M246.4 622.5h0M230.4 630.3h0M228.7 630.4h0M235.3 621.2h0M236.2 631h0M234.7 629h0M232.8 620.9h0M239 632.9h0M246.5 626.7h0M230 617.7h0M236.5 639.2h0M227 616.7h0M233.4 617h0M244.1 638.3h0M248.1 626.5h0M238.8 634.8h0M235.4 633.6h0M245 619.5h0M232.4 626h0M232 623h0M231.4 620h0M247.3 621.8h0M237.7 630.8h0M237.7 613.3h0M233.2 630.5h0M232.7 633.2h0M245.4 616.3h0M232.7 614.7h0M244.5 626.7h0M245.4 630.2h0M249.2 620.5h0M238.9 610.3h0M249.4 626h0M246.5 626.1h0M232.6 625.9h0M242.9 611.2h0M244.1 630.2h0M246.5 614.7h0M235.7 635h0M246 622.9h0M244.3 621.9h0M235.6 618.3h0M245.4 611.2h0"/>
<path stroke="#2fb393" d="M190 710.4h0M149.9 709.7h0M157.6 705.1h0M191.4 711h0M177.9 709.4h0M151.1 700.6h0M170.9 711.1h0M140.1 693.6h0M140.7 696.7h0M138.8 694.6h0M139 689.4h0M174.4 704.9h0M170.6 715.6h0M189.2 709.6h0M184.9 707.2h0M135.3 693.5h0M144.2 699.7h0M192.6 713.3h0M137 690.9h0M159.6 704.8h0M185.8 710.3h0M139.1 692.3h0M172.7 717.8h0M187.8 711.4h0M184.8 713.9h0M184.7 711.1h0M153.5 710.6h0M135.7 694.8h0M158.2 707.8h0M139.7 695.5h0M134.8 689.2h0M137.8 693h0M161.2 711.4h0M169.9 704.7h0M170.2 712.6h0M188.2 708.7h0M145.5 705.4h0M146.4 702.9h0M148 707.5h0M140.2 694.9h0M135 691.8h0M147.8 700.8h0M153.3 710.3h0M184.2 698h0M167.5 707.9h0M196.2 717.2h0M152.1 706.5h0M173.5 707.3h0M186.8 706.4h0M183.2 709.2h0M150.3 697.6h0M180.5 714.1h0M162.9 713.3h0M151.6 707.2h0M176.3 709.1h0M132.9 694.5h0M185 712.4h0M137 692.8h0M136 697.6h0M178.4 705h0M145.7 694.4h0M171.6 713h0M144.9 700.8h0M155.4 710.4h0M170.7 707.4h0M142.8 695.6h0M169.5 709.9h0M173.5 705.4h0M141.8 694.7h0M155.8 703.6h0M161.3 714.3h0M135.3 689.6h0M158.1 707.4h0M144.2 694.8h0M137 692h0M156.6 701.6h0M139.9 689.2h0M158 710.1h0M136 689.7h0M148 701.4h0M138.7 690.9h0M170.2 710.1h0M189.6 713.1h0M149.8 707.4h0M184.3 712.3h0M187.2 702.5h0M139.8 700.2h0M145.3 701h0M161.9 712.2h0M170.8 706.7h0M168 713.7h0M139.4 691.3h0M154.6 702.7h0M169.1 707.6h0M169.6 705.6h0M172.7 714.8h0M139.1 688.3h0M188.9 710.5h0M159.8 701.6h0M157.1 708.5h0M191.4 711.8h0M186 701.5h0M144.4 689h0M175.2 718.6h0M190.6 711.1h0M155.5 702.5h0M166.5 702.6h0M138.3 698.1h0M142.8 701.6h0M187.2 713.4h0M155.7 707.7h0M142 696.3h0M143.2 694.7h0M185.9 714.3h0M145.3 696.1h0M186.2 706.1h0M186.5 715.8h0M144.5 693h0M142.7 697.2h0M192.5 712.6h0M150 700.9h0"/>
<path stroke="#ffffff" d="M75.1 379.5h0M110.2 369.3h0M98.5 365.8h0M149 354.9h0M82.9 380.3h0M122.1 358.8h0M124.6 361.3h0M143.7 353.2h0M116.3 364.1h0M108.4 359.5h0M142.1 354.7h0M129 361.6h0M113.4 362.4h0M114.8 362.9h0M129 363.7h0M155.1 353.8h0M127.8 363.1h0M100.3 366.5h0M142 354.7h0M122.6 365.9h0M143 353.4h0M100.3 368.3h0M88.3 374.5h0M118.4 362.7h0M158.2 348.9h0M118.3 367.4h0M114 364.2h0M102.4 369.6h0M79.5 381.7h0M153.8 352.1h0M67.4 385h0M93 375.4h0M124.6 360.6h0M149.5 359.7h0M108.4 373.3h0M119.8 364.1h0M124.7 361.8h0M104.7 370h0M115.7 361h0M155.5 357.6h0M65.3 374.7h0M92.2 371.5h0M128.4 367.3h0M143.5 351h0M143.1 356.3h0M111 362.6h0M146.7 356.4h0M122.1 365.9h0M89 379.6h0M105.4 367.8h0M130.2 359.9h0M141.2 357.4h0M136.9 357.9h0M101.1 369.1h0M105.8 365.2h0M111.4 362.7h0M104.1 363.7h0M124.7 364.8h0M147.6 355.6h0M114.5 362.2h0M148.8 356.2h0M139.5 357h0M142.4 357.5h0M91.5 369.8h0M120.6 358.1h0M151.5 357.2h0M120.1 364.2h0M119 364.1h0M106.8 368.3h0M112.8 367.4h0M108.1 365.5h0M113.3 363.6h0M116.8 366.1h0M125 359.3h0M138.3 357h0M121.6 364.3h0M91.3 374.8h0M134 355.2h0M124.9 360.5h0M98.8 372.2h0M150.3 357.2h0M123.4 357.9h0M130.3 356.7h0M116.5 364.1h0M118.4 364h0M84.6 380.4h0M122.1 362.8h0M136.9 359.4h0M116.1 364.5h0M109.9 364.4h0M122.1 359.8h0M138.1 357.6h0M102.4 366.3h0M110.1 370.7h0M89 376.5h0M87.9 373.9h0M115.2 366.5h0M160 349.9h0M82.7 369.3h0M93.9 374.5h0M114.7 363.7h0M114.5 363.2h0M112 367.7h0M111.9 367.7h0M119 365.5h0M82 368.8h0M136.1 356.7h0M125.2 359.8h0M94.6 373h0M111.8 368.9h0M117.3 365.3h0M105.3 363.6h0M94.9 372h0M152.2 350.3h0M103.2 365.3h0M128.4 360.9h0M133.7 360.5h0M129.6 362.4h0M93.7 372.2h0M129.2 363.3h0M90.5 372.4h0M105.3 369.6h0M136.1 357.5h0M65.6 377.6h0M167.5 347.9h0M88.7 379.3h0M138.2 354.7h0M108.6 363.1h0M139.8 359.2h0M162.2 351.6h0M140 351.5h0M140.1 359.6h0M134.4 356.5h0M98.7 362.9h0M120.4 358.6h0M88.7 378.9h0M154 353.1h0M104.8 371.1h0M107.5 370.9h0M82.1 372.4h0M129.9 361.2h0M89.5 375.1h0M113.8 365.3h0M111.9 368.8h0M107.6 368.5h0M131.5 357.4h0M124.9 360.6h0M118.8 363.7h0M73.8 376.3h0M101.6 372.7h0M64.6 384h0M120.8 361.6h0M89.5 379.7h0M124 363.3h0M125.1 364.5h0M78.8 376.7h0M165.6 350.3h0M127.4 364.1h0M114 364.3h0M101.5 365.7h0M140.2 353.7h0M117.4 363.8h0M144.4 354.7h0M110 367.7h0M131.2 361.1h0M133 355.2h0M97.9 367.7h0M136.5 354.4h0M86.8 375.6h0M149 351.3h0M163.1 345.8h0M127.4 359h0M91.9 372.5h0M91.1 372.2h0M93.8 377h0M81.1 376.2h0M146.1 353.5h0M100.2 368h0M100.5 366.7h0M120.5 357.7h0M142.8 354.8h0M115.3 364h0M142.1 353.5h0M101.5 366.8h0M99.4 370.4h0M90.2 371.4h0M124 356.9h0M134.2 353.5h0M106.1 372.5h0M106.6 366h0M122.9 359.9h0M121.7 362h0M78.8 381.4h0M130.4 362.7h0M89.8 377.3h0M100.9 373.7h0M111.7 369.5h0M101 373.1h0M115.7 364.1h0M122.8 360h0M143.7 344.9h0M135.2 337.7h0M133.7 337.2h0M142.6 336h0M150.6 339.7h0M141.8 337.1h0M156.4 344.3h0M155.3 341.9h0M152.6 336.7h0M143 340.9h0M158.5 345.3h0M143.3 343.6h0M154.7 344.4h0M149.1 343.6h0M156.7 341h0M156.4 346.2h0M145.6 336.6h0M154.9 341.5h0M138.3 343.6h0M146.4 336.2h0M149.2 343.4h0M145.3 338.9h0M143.7 340.4h0M151.9 345.3h0M149.3 339.2h0M148.4 344.8h0M152.2 347.5h0M147.5 341.2h0M140.9 338.6h0M154 344.8h0M171.1 356.1h0M156.8 349.5h0M152.6 341.2h0M152.1 345.6h0M147.7 337.6h0M152.7 341.4h0M144.8 342.1h0M148.9 340.8h0M155.1 344.1h0M147.3 342.3h0M141.3 342.3h0M157.5 342.6h0M149.3 340.1h0M145.1 344.3h0M164.9 347.1h0M150.9 344h0M153.4 345.6h0M153.9 352.2h0M146.4 349.2h0M146 343.7h0M143.3 341.5h0M150.7 341.7h0M136.7 336.1h0M137.5 334.6h0M155 348.3h0M150.2 342.5h0M148.5 342.9h0M150.1 341.6h0M156.2 350.1h0M157.6 343.2h0M169.3 397.3h0M172.1 388.4h0M165.8 399.5h0M161.3 403.9h0M170.4 387.9h0M162.2 407h0M162.7 396.7h0M169.4 389.9h0M164.8 395.6h0M153.1 407.3h0M154.8 401.5h0M168.6 389.9h0M158.1 398.1h0M166.8 391h0M163.8 394.7h0M159.9 396.3h0M169.5 390.8h0M163.1 393.7h0M153.4 404.2h0M177.7 381h0M171.2 387.2h0M166 393.6h0M168.7 390.2h0M172.9 388.7h0M173.9 383.8h0M160.1 402.8h0M157.8 399.6h0M171.3 386.7h0M166.9 392.3h0M164.1 397.7h0M170 390.6h0M166.7 390.5h0M157.6 399.6h0M150.3 404.8h0M169.7 387.9h0M161.1 393.6h0M168.3 394.6h0M161.6 395.6h0M159.5 392.3h0M174.7 387.6h0M158 400.2h0M161.7 396.5h0M171.3 388.5h0M168 392.1h0M170.3 393.5h0M171.5 381.5h0M168.6 393h0M168.2 396.5h0M163.6 393.7h0M164.3 392.1h0M159.2 398.3h0M161.6 393.2h0M161.5 399.5h0M160.9 398.5h0M162.5 399h0M159.6 395.7h0M157.7 395.9h0M182.5 374h0M179.5 390.2h0M149.3 408.1h0M214.7 622.4h0M218.1 621.8h0M211.8 628.4h0M222.9 619.7h0M220.1 625.3h0M201.7 636.3h0M222.1 626.7h0M206.7 626.4h0M212.9 631.6h0M223.1 625.4h0M218.4 625.5h0M226.7 620h0M206.8 628.6h0M226.3 625.8h0M214.8 632.7h0M219.6 618.4h0M213.8 623.3h0M213.1 629.6h0M223.6 621.6h0M206 629.7h0M206.5 631.8h0M214.2 620.2h0M216.7 620.3h0M206.9 628.3h0M212.6 626.6h0M224.1 628.7h0M210.5 633.4h0M219 622.7h0M214.7 622.9h0M202.4 629.8h0M213.1 625.9h0M197.7 633.8h0M212.7 628h0M219 619.1h0M216.3 636.2h0M218.7 622.3h0M211.2 627.5h0M212.6 628.7h0M217.1 623.9h0M210.3 633.5h0M232.3 613.5h0M215.3 623.6h0M212.2 623h0M213.9 624.4h0M211.3 619.3h0M201 634.9h0M214.4 620.5h0M221.1 618.6h0M210.3 617h0M218.5 629.4h0M210.8 623.6h0M214.7 633.2h0M219.7 623h0M220 623.9h0M211.2 627.7h0M217.5 627.8h0M213.6 629h0M222 626.1h0M211.7 619.8h0M210.7 628h0"/>
</g>
<path d="M56 678V709.6H87" stroke="#0a0a0a" stroke-width="1.2" fill="none"/><path d="M56 673l-3.3 7 3.3-1.6 3.3 1.6zM92.3 709.6l-7-3.3 1.6 3.3-1.6 3.3z" fill="#111"/>
<text x="58.6" y="722.5" font-size="9">UMAP1</text>
<text x="48" y="708.3" font-size="9" transform="rotate(-90 48 708.3)">UMAP2</text>

<!-- 50_pies.svg -->
<text x="596.4" y="239.1" font-size="13.6" text-anchor="middle">Uninjured</text>
<path d="M592 298.4L592 249A49.4 49.4 0 0 1 592.9 249Z" fill="#ddd4c2" stroke="#ddd4c2" stroke-width="0.3"/>
<path d="M592 298.4L592.9 249A49.4 49.4 0 0 1 596 249.2Z" fill="#ea9a2e" stroke="#ea9a2e" stroke-width="0.3"/>
<path d="M592 298.4L596 249.2A49.4 49.4 0 0 1 596.7 249.2Z" fill="#4c4f66" stroke="#4c4f66" stroke-width="0.3"/>
<path d="M592 298.4L596.7 249.2A49.4 49.4 0 0 1 622 259.2Z" fill="#8b6a4b" stroke="#8b6a4b" stroke-width="0.3"/>
<path d="M592 298.4L622 259.2A49.4 49.4 0 0 1 616.8 341.1Z" fill="#7b9a3e" stroke="#7b9a3e" stroke-width="0.3"/>
<path d="M592 298.4L616.8 341.1A49.4 49.4 0 0 1 544.4 285.2Z" fill="#4475b2" stroke="#4475b2" stroke-width="0.3"/>
<path d="M592 298.4L544.4 285.2A49.4 49.4 0 0 1 547.2 277.5Z" fill="#c9673f" stroke="#c9673f" stroke-width="0.3"/>
<path d="M592 298.4L547.2 277.5A49.4 49.4 0 0 1 548.3 275.4Z" fill="#cdb2d9" stroke="#cdb2d9" stroke-width="0.3"/>
<path d="M592 298.4L548.3 275.4A49.4 49.4 0 0 1 557.4 263.1Z" fill="#b68899" stroke="#b68899" stroke-width="0.3"/>
<path d="M592 298.4L557.4 263.1A49.4 49.4 0 0 1 570.9 253.7Z" fill="#9e3c5e" stroke="#9e3c5e" stroke-width="0.3"/>
<path d="M592 298.4L570.9 253.7A49.4 49.4 0 0 1 591.7 249Z" fill="#b8a431" stroke="#b8a431" stroke-width="0.3"/>
<path d="M592 298.4L591.7 249A49.4 49.4 0 0 1 592 249Z" fill="#ddd4c2" stroke="#ddd4c2" stroke-width="0.3"/>
<text x="596.2" y="366.3" font-size="13.6" text-anchor="middle">3 d.p.i.</text>
<path d="M594.9 423.7L594.9 374.3A49.4 49.4 0 0 1 596.2 374.3Z" fill="#ddd4c2" stroke="#ddd4c2" stroke-width="0.3"/>
<path d="M594.9 423.7L596.2 374.3A49.4 49.4 0 0 1 598.9 374.5Z" fill="#ea9a2e" stroke="#ea9a2e" stroke-width="0.3"/>
<path d="M594.9 423.7L598.9 374.5A49.4 49.4 0 0 1 600.5 374.6Z" fill="#4c4f66" stroke="#4c4f66" stroke-width="0.3"/>
<path d="M594.9 423.7L600.5 374.6A49.4 49.4 0 0 1 619.5 380.8Z" fill="#8b6a4b" stroke="#8b6a4b" stroke-width="0.3"/>
<path d="M594.9 423.7L619.5 380.8A49.4 49.4 0 0 1 644 418.5Z" fill="#7b9a3e" stroke="#7b9a3e" stroke-width="0.3"/>
<path d="M594.9 423.7L644 418.5A49.4 49.4 0 0 1 612.6 469.8Z" fill="#4475b2" stroke="#4475b2" stroke-width="0.3"/>
<path d="M594.9 423.7L612.6 469.8A49.4 49.4 0 0 1 598.9 472.9Z" fill="#c9673f" stroke="#c9673f" stroke-width="0.3"/>
<path d="M594.9 423.7L598.9 472.9A49.4 49.4 0 0 1 594.9 473.1Z" fill="#cdb2d9" stroke="#cdb2d9" stroke-width="0.3"/>
<path d="M594.9 423.7L594.9 473.1A49.4 49.4 0 0 1 581 471.1Z" fill="#b68899" stroke="#b68899" stroke-width="0.3"/>
<path d="M594.9 423.7L581 471.1A49.4 49.4 0 0 1 573.6 468.3Z" fill="#ab82c2" stroke="#ab82c2" stroke-width="0.3"/>
<path d="M594.9 423.7L573.6 468.3A49.4 49.4 0 0 1 556.3 392.8Z" fill="#9e3c5e" stroke="#9e3c5e" stroke-width="0.3"/>
<path d="M594.9 423.7L556.3 392.8A49.4 49.4 0 0 1 594.6 374.3Z" fill="#b8a431" stroke="#b8a431" stroke-width="0.3"/>
<path d="M594.9 423.7L594.6 374.3A49.4 49.4 0 0 1 594.9 374.3Z" fill="#ddd4c2" stroke="#ddd4c2" stroke-width="0.3"/>
<text x="596.2" y="497" font-size="13.6" text-anchor="middle">7 d.p.i.</text>
<path d="M595.9 557.5L595.9 508.1A49.4 49.4 0 0 1 598.1 508.2Z" fill="#ddd4c2" stroke="#ddd4c2" stroke-width="0.3"/>
<path d="M595.9 557.5L598.1 508.2A49.4 49.4 0 0 1 604.8 508.9Z" fill="#ea9a2e" stroke="#ea9a2e" stroke-width="0.3"/>
<path d="M595.9 557.5L604.8 508.9A49.4 49.4 0 0 1 605.7 509.1Z" fill="#4c4f66" stroke="#4c4f66" stroke-width="0.3"/>
<path d="M595.9 557.5L605.7 509.1A49.4 49.4 0 0 1 636.5 529.4Z" fill="#8b6a4b" stroke="#8b6a4b" stroke-width="0.3"/>
<path d="M595.9 557.5L636.5 529.4A49.4 49.4 0 0 1 637.1 584.8Z" fill="#7b9a3e" stroke="#7b9a3e" stroke-width="0.3"/>
<path d="M595.9 557.5L637.1 584.8A49.4 49.4 0 0 1 566.4 597.2Z" fill="#4475b2" stroke="#4475b2" stroke-width="0.3"/>
<path d="M595.9 557.5L566.4 597.2A49.4 49.4 0 0 1 555.7 586.2Z" fill="#c9673f" stroke="#c9673f" stroke-width="0.3"/>
<path d="M595.9 557.5L555.7 586.2A49.4 49.4 0 0 1 554.9 585.1Z" fill="#cdb2d9" stroke="#cdb2d9" stroke-width="0.3"/>
<path d="M595.9 557.5L554.9 585.1A49.4 49.4 0 0 1 548.4 571Z" fill="#b68899" stroke="#b68899" stroke-width="0.3"/>
<path d="M595.9 557.5L548.4 571A49.4 49.4 0 0 1 548.1 569.9Z" fill="#ab82c2" stroke="#ab82c2" stroke-width="0.3"/>
<path d="M595.9 557.5L548.1 569.9A49.4 49.4 0 0 1 550.9 537.1Z" fill="#9e3c5e" stroke="#9e3c5e" stroke-width="0.3"/>
<path d="M595.9 557.5L550.9 537.1A49.4 49.4 0 0 1 595.6 508.1Z" fill="#b8a431" stroke="#b8a431" stroke-width="0.3"/>
<path d="M595.9 557.5L595.6 508.1A49.4 49.4 0 0 1 595.9 508.1Z" fill="#ddd4c2" stroke="#ddd4c2" stroke-width="0.3"/>
<text x="595.8" y="631" font-size="13.6" text-anchor="middle">30 d.p.i.</text>
<path d="M597.8 687L597.8 637.7A49.3 49.3 0 0 1 598.7 637.7Z" fill="#ddd4c2" stroke="#ddd4c2" stroke-width="0.3"/>
<path d="M597.8 687L598.7 637.7A49.3 49.3 0 0 1 601.3 637.8Z" fill="#ea9a2e" stroke="#ea9a2e" stroke-width="0.3"/>
<path d="M597.8 687L601.3 637.8A49.3 49.3 0 0 1 602.7 637.9Z" fill="#4c4f66" stroke="#4c4f66" stroke-width="0.3"/>
<path d="M597.8 687L602.7 637.9A49.3 49.3 0 0 1 623.4 644.9Z" fill="#8b6a4b" stroke="#8b6a4b" stroke-width="0.3"/>
<path d="M597.8 687L623.4 644.9A49.3 49.3 0 0 1 631.9 722.6Z" fill="#7b9a3e" stroke="#7b9a3e" stroke-width="0.3"/>
<path d="M597.8 687L631.9 722.6A49.3 49.3 0 0 1 549.3 695.9Z" fill="#4475b2" stroke="#4475b2" stroke-width="0.3"/>
<path d="M597.8 687L549.3 695.9A49.3 49.3 0 0 1 548.5 687Z" fill="#c9673f" stroke="#c9673f" stroke-width="0.3"/>
<path d="M597.8 687L548.5 687A49.3 49.3 0 0 1 548.5 686.1Z" fill="#cdb2d9" stroke="#cdb2d9" stroke-width="0.3"/>
<path d="M597.8 687L548.5 686.1A49.3 49.3 0 0 1 551 671.5Z" fill="#b68899" stroke="#b68899" stroke-width="0.3"/>
<path d="M597.8 687L551 671.5A49.3 49.3 0 0 1 551.3 670.5Z" fill="#ab82c2" stroke="#ab82c2" stroke-width="0.3"/>
<path d="M597.8 687L551.3 670.5A49.3 49.3 0 0 1 568.4 647.4Z" fill="#9e3c5e" stroke="#9e3c5e" stroke-width="0.3"/>
<path d="M597.8 687L568.4 647.4A49.3 49.3 0 0 1 597.5 637.7Z" fill="#b8a431" stroke="#b8a431" stroke-width="0.3"/>
<path d="M597.8 687L597.5 637.7A49.3 49.3 0 0 1 597.8 637.7Z" fill="#ddd4c2" stroke="#ddd4c2" stroke-width="0.3"/>
<text x="567.6" y="435" font-size="17" text-anchor="middle" style="fill:#000">*</text>
<text x="576.3" y="537.4" font-size="17" text-anchor="middle" style="fill:#000">*</text>
<text x="561" y="562.1" font-size="17" text-anchor="middle" style="fill:#000">*</text>
<text x="567.9" y="593.5" font-size="17" text-anchor="middle" style="fill:#000">*</text>
<text x="616.2" y="535" font-size="17" text-anchor="middle" style="fill:#000">*</text>
<text x="650.4" y="512.5" font-size="17" text-anchor="middle" style="fill:#000">*</text>
<text x="650.4" y="522.6" font-size="17" text-anchor="middle" style="fill:#000">*</text>
<path d="M601.9 511.1L609.9 505.5H646.2M604.6 514.3H646.2" stroke="#111" stroke-width="0.8" fill="none"/>

<!-- 60_c_photo.svg -->
<text x="675.5" y="235.3" font-size="16.5" class="b" style="fill:#000" textLength="8.0" lengthAdjust="spacingAndGlyphs">c</text>
<defs>
<linearGradient id="phbg" x1="1" y1="0" x2="0" y2="1"><stop offset="0" stop-color="#939a98"/><stop offset="0.5" stop-color="#7f8787"/><stop offset="1" stop-color="#626a6d"/></linearGradient>
<filter id="phnoise" x="0" y="0" width="100%" height="100%"><feTurbulence type="fractalNoise" baseFrequency="0.25" numOctaves="3" seed="11"/><feColorMatrix type="matrix" values="0 0 0 0 0.5  0 0 0 0 0.5  0 0 0 0 0.5  0 0 0 -1.6 1.05"/></filter>
<filter id="blur0" x="-10%" y="-10%" width="120%" height="120%"><feGaussianBlur stdDeviation="0.55"/></filter>
<filter id="blur1" x="-10%" y="-10%" width="120%" height="120%"><feGaussianBlur stdDeviation="1.2"/></filter>
<filter id="blur2" x="-20%" y="-20%" width="140%" height="140%"><feGaussianBlur stdDeviation="3"/></filter>
<radialGradient id="atr" cx="0.45" cy="0.55" r="0.6"><stop offset="0" stop-color="#cf4a52"/><stop offset="0.6" stop-color="#da5e62"/><stop offset="1" stop-color="#e68c88"/></radialGradient>
<linearGradient id="ven" x1="0" y1="0" x2="0.3" y2="1"><stop offset="0" stop-color="#d9b08c"/><stop offset="0.5" stop-color="#c89a74"/><stop offset="1" stop-color="#b98962"/></linearGradient>
<clipPath id="phclip"><rect x="733.9" y="262.5" width="139.4" height="142.2"/></clipPath>
</defs>
<g clip-path="url(#phclip)">
<rect x="733.9" y="262.5" width="139.4" height="142.2" fill="url(#phbg)"/>
<rect x="733.9" y="262.5" width="139.4" height="142.2" filter="url(#phnoise)" opacity="0.18"/>
<path d="M763.7 278.8C765.6 275.7 770.1 273.5 772.6 273.8C775.1 274.2 776.5 279 778.5 280.8C780.5 282.6 780.8 284.1 784.5 284.7C788.1 285.4 795.7 285.7 800.3 284.7C805 283.7 809.3 280.6 812.2 278.8C815.2 277 816.4 274.2 818.2 273.8C820 273.5 822.5 274.3 823.1 276.8C823.8 279.3 823 284.7 822.1 288.7C821.3 292.7 819 296.3 818.2 300.6C817.4 304.9 818.2 310.8 817.2 314.5C816.2 318.1 812.9 319.8 812.2 322.4C811.6 325.1 815.2 328.9 813.2 330.3C811.2 331.8 804.1 330 800.3 331.3C796.5 332.7 793.4 337.8 790.4 338.3C787.5 338.8 784.5 336.6 782.5 334.3C780.5 332 781.5 327 778.5 324.4C775.6 321.7 767.5 321.4 764.7 318.4C761.8 315.5 762.3 310.8 761.7 306.5C761 302.3 760.4 297.3 760.7 292.7C761 288 761.7 281.9 763.7 278.8Z" fill="url(#atr)" stroke="#e6b4b0" stroke-width="0.9" filter="url(#blur0)"/>
<path d="M776.5 298.6C778.2 294.7 785.8 294.3 790.4 294.7C795.1 295 801 297.3 804.3 300.6C807.6 303.9 810.2 310.5 810.2 314.5C810.2 318.4 807.6 322.4 804.3 324.4C801 326.4 794.4 327.4 790.4 326.4C786.5 325.4 782.8 323.1 780.5 318.4C778.2 313.8 774.9 302.6 776.5 298.6Z" fill="#b93a48" filter="url(#blur2)" opacity="0.65"/>
<path d="M764.7 284.7C766.5 281.1 772.3 279.1 774.6 280.8C776.9 282.4 779.2 290.4 778.5 294.7C777.9 298.9 773.1 305.2 770.6 306.5C768.1 307.9 764.7 306.2 763.7 302.6C762.7 298.9 762.8 288.4 764.7 284.7Z" fill="#e8a8a0" filter="url(#blur2)" opacity="0.55"/>
<path d="M810.2 282.8C812.2 280.1 818.3 275.2 820.2 276.8C822 278.5 822.1 288.7 821.2 292.7C820.2 296.6 816.4 300.6 814.2 300.6C812.1 300.6 808.9 295.6 808.3 292.7C807.6 289.7 808.3 285.4 810.2 282.8Z" fill="#e8a8a0" filter="url(#blur2)" opacity="0.5"/>
<path d="M782.5 332.3C784.8 330.5 796 329 800.3 329.3C804.6 329.7 807.6 332.5 808.3 334.3C808.9 336.1 806.9 338.6 804.3 340.2C801.7 341.9 795.4 344.2 792.4 344.2C789.4 344.2 788.1 342.2 786.5 340.2C784.8 338.3 780.2 334.1 782.5 332.3Z" fill="#d9857c" stroke="#e6c0b4" stroke-width="0.8" filter="url(#blur0)"/>
<path d="M770.6 350.2C773.4 347.2 779.5 346.2 784.5 344.2C789.4 342.2 794.7 339.9 800.3 338.3C806 336.6 812.2 334.6 818.2 334.3C824.1 334 830.7 334.6 836 336.3C841.3 337.9 846.4 340.9 849.9 344.2C853.4 347.5 856.2 351.8 856.8 356.1C857.5 360.4 856 365.7 853.9 370C851.7 374.3 848.2 379.2 844 381.9C839.7 384.5 833 384.9 828.1 385.8C823.1 386.8 818.2 386.5 814.2 387.8C810.2 389.2 808.9 392.3 804.3 393.8C799.7 395.3 791.4 397.1 786.5 396.8C781.5 396.4 777 394.3 774.6 391.8C772.1 389.3 771.9 385.2 771.6 381.9C771.3 378.6 773.2 375.3 772.6 372C771.9 368.7 768 365.7 767.6 362.1C767.3 358.4 767.8 353.1 770.6 350.2Z" fill="url(#ven)" stroke="#e4c8ae" stroke-width="0.9" filter="url(#blur0)"/>
<path d="M776.5 374C780.2 369.7 794.4 366.7 804.3 366C814.2 365.4 832.1 367.3 836 370C840 372.6 833.4 378.2 828.1 381.9C822.8 385.5 811.9 390.1 804.3 391.8C796.7 393.4 787.1 394.8 782.5 391.8C777.9 388.8 772.9 378.2 776.5 374Z" fill="#b07a52" filter="url(#blur2)" opacity="0.5"/>
<path d="M790.4 263.9C791.2 262.3 795 261.8 796.4 262.9C797.8 264.1 798.9 268.5 798.8 270.9C798.6 273.2 796.5 276.5 795.4 276.8C794.3 277.1 792.8 275 792 272.8C791.2 270.7 789.7 265.6 790.4 263.9Z" fill="#e8dcd4" filter="url(#blur1)" opacity="0.55"/>
<path d="M771 273.8C771.4 272.9 773.9 272.2 774.6 273.2C775.2 274.2 775.4 278.9 775 279.8C774.6 280.7 772.8 279.8 772.2 278.8C771.5 277.8 770.6 274.8 771 273.8Z" fill="#e8dcd4" filter="url(#blur1)" opacity="0.5"/>
<path d="M763.7 319.4C765 319.4 768.4 321.4 770.6 323.4C772.8 325.4 776.3 329.5 776.9 331.3C777.6 333.1 776.1 334.8 774.6 334.3C773 333.8 769.6 330.2 767.6 328.4C765.6 326.5 763.3 324.9 762.7 323.4C762 321.9 762.3 319.4 763.7 319.4Z" fill="#e8dcd4" filter="url(#blur1)" opacity="0.45"/>
<path d="M815.2 320.4C816.9 319.9 822 321.7 824.1 323.4C826.3 325.1 828.8 329.3 828.1 330.3C827.4 331.3 822.5 330 820.2 329.3C817.8 328.7 815 327.9 814.2 326.4C813.4 324.9 813.6 320.9 815.2 320.4Z" fill="#e8dcd4" filter="url(#blur1)" opacity="0.35"/>
<path d="M828.1 306.5C828.9 305.9 832.4 307.2 833 308.5C833.7 309.9 832.9 313.8 832.1 314.5C831.2 315.1 828.8 313.8 828.1 312.5C827.4 311.2 827.3 307.2 828.1 306.5Z" fill="#e8dcd4" filter="url(#blur1)" opacity="0.3"/>
<circle cx="768.1" cy="339.6" r="0.6" fill="#c9cfcc" opacity="0.6"/><circle cx="820.5" cy="273.1" r="0.4" fill="#c9cfcc" opacity="0.7"/><circle cx="771" cy="296.6" r="0.9" fill="#c9cfcc" opacity="0.5"/><circle cx="848.9" cy="330.2" r="0.7" fill="#c9cfcc" opacity="0.4"/><circle cx="821.7" cy="384.7" r="0.7" fill="#c9cfcc" opacity="0.7"/><circle cx="826.6" cy="272.9" r="0.8" fill="#c9cfcc" opacity="0.6"/><circle cx="776.7" cy="268.3" r="0.8" fill="#c9cfcc" opacity="0.5"/><circle cx="833" cy="386.2" r="0.8" fill="#c9cfcc" opacity="0.8"/><circle cx="789.3" cy="375.3" r="0.6" fill="#c9cfcc" opacity="0.8"/><circle cx="854.6" cy="277.5" r="0.5" fill="#c9cfcc" opacity="0.4"/><circle cx="866.3" cy="324.6" r="0.7" fill="#c9cfcc" opacity="0.5"/><circle cx="804.5" cy="317.6" r="0.6" fill="#c9cfcc" opacity="0.6"/><circle cx="814.9" cy="389.7" r="0.7" fill="#c9cfcc" opacity="0.8"/><circle cx="851.6" cy="401.7" r="0.7" fill="#c9cfcc" opacity="0.4"/><circle cx="852.2" cy="398.1" r="0.9" fill="#c9cfcc" opacity="0.6"/><circle cx="832.4" cy="293.3" r="0.8" fill="#c9cfcc" opacity="0.6"/><circle cx="774.5" cy="272.8" r="0.8" fill="#c9cfcc" opacity="0.8"/><circle cx="747.9" cy="375.3" r="0.6" fill="#c9cfcc" opacity="0.4"/><circle cx="775.7" cy="370.9" r="0.8" fill="#c9cfcc" opacity="0.3"/><circle cx="819" cy="270.2" r="0.8" fill="#c9cfcc" opacity="0.5"/><circle cx="854.9" cy="400.3" r="0.7" fill="#c9cfcc" opacity="0.8"/><circle cx="777.8" cy="274.7" r="0.7" fill="#c9cfcc" opacity="0.3"/><circle cx="762.6" cy="320.7" r="0.7" fill="#c9cfcc" opacity="0.4"/><circle cx="741.7" cy="384.6" r="0.6" fill="#c9cfcc" opacity="0.8"/><circle cx="857" cy="316.5" r="0.6" fill="#c9cfcc" opacity="0.6"/><circle cx="822.9" cy="346.8" r="0.7" fill="#c9cfcc" opacity="0.6"/><circle cx="863" cy="334.5" r="0.6" fill="#c9cfcc" opacity="0.7"/><circle cx="768.1" cy="305.9" r="0.9" fill="#c9cfcc" opacity="0.6"/><circle cx="810" cy="265.6" r="0.6" fill="#c9cfcc" opacity="0.6"/><circle cx="738.7" cy="349.6" r="0.7" fill="#c9cfcc" opacity="0.3"/><circle cx="820.7" cy="328.8" r="0.7" fill="#c9cfcc" opacity="0.5"/><circle cx="831.4" cy="366.6" r="0.4" fill="#c9cfcc" opacity="0.3"/><circle cx="827.3" cy="397.9" r="0.5" fill="#c9cfcc" opacity="0.5"/><circle cx="816" cy="308.5" r="0.6" fill="#c9cfcc" opacity="0.5"/><circle cx="785.8" cy="346.8" r="0.6" fill="#c9cfcc" opacity="0.5"/><circle cx="840.3" cy="267.7" r="0.7" fill="#c9cfcc" opacity="0.7"/><circle cx="777.9" cy="294.9" r="0.8" fill="#c9cfcc" opacity="0.4"/><circle cx="761.3" cy="324.5" r="0.7" fill="#c9cfcc" opacity="0.4"/><circle cx="779.5" cy="310.4" r="0.8" fill="#c9cfcc" opacity="0.5"/><circle cx="851.5" cy="287.5" r="0.6" fill="#c9cfcc" opacity="0.6"/>
<path d="M733.9 271.7H873.3" stroke="#0a0a0a" stroke-width="1.25"/>
<path d="M733.9 286.7H873.3" stroke="#0a0a0a" stroke-width="1.25"/>
<path d="M733.9 302H873.3" stroke="#0a0a0a" stroke-width="1.25"/>
<path d="M733.9 316.9H873.3" stroke="#0a0a0a" stroke-width="1.25"/>
<path d="M733.9 331.3H873.3" stroke="#0a0a0a" stroke-width="1.25"/>
<path d="M733.9 347.2H873.3" stroke="#0a0a0a" stroke-width="1.25"/>
<path d="M733.9 362H873.3" stroke="#0a0a0a" stroke-width="1.25"/>
<path d="M733.9 377.3H873.3" stroke="#0a0a0a" stroke-width="1.25"/>
<path d="M733.9 392.2H873.3" stroke="#0a0a0a" stroke-width="1.25"/>
</g>
<path d="M733.9 263.3C718.4 263.3 708.9 274.6 708.9 290.3V304.3C708.9 320 718.4 331.3 733.9 331.3" fill="none" stroke="#0a0a0a" stroke-width="1.25"/>
<path d="M733.9 331.3C718.4 331.3 708.9 342.6 708.9 358.3V377.7C708.9 393.4 718.4 404.7 733.9 404.7" fill="none" stroke="#0a0a0a" stroke-width="1.25"/>
<text x="726.3" y="296.8" font-size="13.4" text-anchor="middle" transform="rotate(-90 726.3 296.8)">Atrium</text>
<text x="726.3" y="368" font-size="13.4" text-anchor="middle" transform="rotate(-90 726.3 368)">Ventricle</text>
<text x="687.3" y="341" font-size="13.6" text-anchor="middle" transform="rotate(-90 687.3 341)">Direction of sections</text>
<path d="M697.2 291.8V385" stroke="#0a0a0a" stroke-width="1.15"/><path d="M697.2 390.5l-3.3-7.5 3.3 1.8 3.3-1.8z" fill="#111"/>
<text x="802.4" y="424.1" font-size="13.4" text-anchor="middle">RNA-seq</text>
<text x="802" y="439.6" font-size="13.4" text-anchor="middle">deconvolution</text>
<path d="M796.3 446.4H810.5L803.4 457.2Z" fill="#000"/>

<!-- 70_c_heat.svg -->
<g id="heat" shape-rendering="crispEdges">
<rect x="730.6" y="464.9" width="142.7" height="169.1" fill="#0e0c1c"/>
<rect x="773.41" y="482.94" width="14.32" height="2.30" fill="#4c1d4b"/><rect x="787.68" y="482.94" width="14.32" height="2.30" fill="#261636"/><rect x="744.87" y="489.70" width="14.32" height="2.30" fill="#2e173a"/><rect x="744.87" y="500.97" width="14.32" height="2.30" fill="#261636"/><rect x="773.41" y="500.97" width="14.32" height="2.30" fill="#1f1330"/><rect x="787.68" y="500.97" width="14.32" height="2.30" fill="#261636"/><rect x="759.14" y="505.48" width="14.32" height="2.30" fill="#1f1330"/><rect x="759.14" y="512.25" width="14.32" height="2.30" fill="#1c112e"/><rect x="730.60" y="528.03" width="14.32" height="2.30" fill="#261636"/><rect x="759.14" y="530.29" width="14.32" height="2.30" fill="#1f1330"/><rect x="759.14" y="537.05" width="14.32" height="2.30" fill="#391a40"/><rect x="773.41" y="550.58" width="14.32" height="2.30" fill="#180f2b"/><rect x="773.41" y="588.91" width="14.32" height="2.30" fill="#441c47"/><rect x="773.41" y="624.98" width="14.32" height="2.30" fill="#261636"/><rect x="730.60" y="485.19" width="14.32" height="2.30" fill="#180f2b"/><rect x="759.14" y="523.52" width="14.32" height="2.30" fill="#180f2b"/>
<rect x="801.95" y="464.90" width="14.32" height="2.30" fill="#f48a62"/><rect x="801.95" y="467.15" width="14.32" height="2.30" fill="#781c59"/><rect x="801.95" y="469.41" width="14.32" height="2.30" fill="#e93e3e"/><rect x="801.95" y="471.66" width="14.32" height="2.30" fill="#f47e58"/><rect x="801.95" y="473.92" width="14.32" height="2.30" fill="#f16b4d"/><rect x="801.95" y="476.17" width="14.32" height="2.30" fill="#781c59"/><rect x="801.95" y="478.43" width="14.32" height="2.30" fill="#b71a55"/><rect x="801.95" y="480.68" width="14.32" height="2.30" fill="#621c52"/><rect x="801.95" y="482.94" width="14.32" height="2.30" fill="#e93e3e"/><rect x="801.95" y="485.19" width="14.32" height="2.30" fill="#eb4942"/><rect x="801.95" y="487.45" width="14.32" height="2.30" fill="#8e1a5a"/><rect x="801.95" y="489.70" width="14.32" height="2.30" fill="#781c59"/><rect x="801.95" y="491.96" width="14.32" height="2.30" fill="#6f1c56"/><rect x="801.95" y="494.21" width="14.32" height="2.30" fill="#4c1d4b"/><rect x="801.95" y="496.47" width="14.32" height="2.30" fill="#391a40"/><rect x="801.95" y="498.72" width="14.32" height="2.30" fill="#8e1a5a"/><rect x="801.95" y="500.97" width="14.32" height="2.30" fill="#921a5a"/><rect x="801.95" y="503.23" width="14.32" height="2.30" fill="#a3195b"/><rect x="801.95" y="505.48" width="14.32" height="2.30" fill="#f48a62"/><rect x="801.95" y="507.74" width="14.32" height="2.30" fill="#8e1a5a"/><rect x="801.95" y="509.99" width="14.32" height="2.30" fill="#b71a55"/><rect x="801.95" y="512.25" width="14.32" height="2.30" fill="#a3195b"/><rect x="801.95" y="514.50" width="14.32" height="2.30" fill="#cb1b4f"/><rect x="801.95" y="516.76" width="14.32" height="2.30" fill="#ab1959"/><rect x="801.95" y="519.01" width="14.32" height="2.30" fill="#eb4942"/><rect x="801.95" y="521.27" width="14.32" height="2.30" fill="#9a1a5b"/><rect x="801.95" y="523.52" width="14.32" height="2.30" fill="#f47e58"/><rect x="801.95" y="525.78" width="14.32" height="2.30" fill="#eb4942"/><rect x="801.95" y="528.03" width="14.32" height="2.30" fill="#781c59"/><rect x="801.95" y="530.29" width="14.32" height="2.30" fill="#261636"/><rect x="801.95" y="532.54" width="14.32" height="2.30" fill="#551d4e"/><rect x="801.95" y="534.79" width="14.32" height="2.30" fill="#4c1d4b"/><rect x="801.95" y="537.05" width="14.32" height="2.30" fill="#2e173a"/><rect x="801.95" y="539.30" width="14.32" height="2.30" fill="#261636"/><rect x="801.95" y="541.56" width="14.32" height="2.30" fill="#261636"/><rect x="801.95" y="543.81" width="14.32" height="2.30" fill="#1f1330"/><rect x="801.95" y="546.07" width="14.32" height="2.30" fill="#261636"/><rect x="801.95" y="548.32" width="14.32" height="2.30" fill="#2e173a"/><rect x="801.95" y="550.58" width="14.32" height="2.30" fill="#261636"/><rect x="801.95" y="552.83" width="14.32" height="2.30" fill="#1f1330"/><rect x="801.95" y="555.09" width="14.32" height="2.30" fill="#261636"/><rect x="801.95" y="557.34" width="14.32" height="2.30" fill="#2e173a"/><rect x="801.95" y="559.60" width="14.32" height="2.30" fill="#261636"/><rect x="801.95" y="561.85" width="14.32" height="2.30" fill="#2e173a"/><rect x="801.95" y="564.11" width="14.32" height="2.30" fill="#261636"/><rect x="801.95" y="566.36" width="14.32" height="2.30" fill="#1f1330"/><rect x="801.95" y="568.61" width="14.32" height="2.30" fill="#261636"/><rect x="801.95" y="570.87" width="14.32" height="2.30" fill="#261636"/><rect x="801.95" y="573.12" width="14.32" height="2.30" fill="#2e173a"/><rect x="801.95" y="575.38" width="14.32" height="2.30" fill="#261636"/><rect x="801.95" y="577.63" width="14.32" height="2.30" fill="#1f1330"/><rect x="801.95" y="579.89" width="14.32" height="2.30" fill="#180f2b"/><rect x="801.95" y="582.14" width="14.32" height="2.30" fill="#261636"/><rect x="801.95" y="584.40" width="14.32" height="2.30" fill="#180f2b"/><rect x="801.95" y="586.65" width="14.32" height="2.30" fill="#140e28"/><rect x="801.95" y="588.91" width="14.32" height="2.30" fill="#261636"/><rect x="801.95" y="591.16" width="14.32" height="2.30" fill="#2e173a"/><rect x="801.95" y="593.42" width="14.32" height="2.30" fill="#261636"/><rect x="801.95" y="595.67" width="14.32" height="2.30" fill="#2e173a"/><rect x="801.95" y="597.93" width="14.32" height="2.30" fill="#1f1330"/><rect x="801.95" y="600.18" width="14.32" height="2.30" fill="#261636"/><rect x="801.95" y="602.43" width="14.32" height="2.30" fill="#2e173a"/><rect x="801.95" y="604.69" width="14.32" height="2.30" fill="#261636"/><rect x="801.95" y="606.94" width="14.32" height="2.30" fill="#391a40"/><rect x="801.95" y="609.20" width="14.32" height="2.30" fill="#261636"/><rect x="801.95" y="611.45" width="14.32" height="2.30" fill="#1f1330"/><rect x="801.95" y="613.71" width="14.32" height="2.30" fill="#2e173a"/><rect x="801.95" y="615.96" width="14.32" height="2.30" fill="#261636"/><rect x="801.95" y="618.22" width="14.32" height="2.30" fill="#1f1330"/><rect x="801.95" y="620.47" width="14.32" height="2.30" fill="#261636"/><rect x="801.95" y="622.73" width="14.32" height="2.30" fill="#2e173a"/><rect x="801.95" y="624.98" width="14.32" height="2.30" fill="#391a40"/><rect x="801.95" y="627.24" width="14.32" height="2.30" fill="#1f1330"/><rect x="801.95" y="629.49" width="14.32" height="2.30" fill="#261636"/><rect x="801.95" y="631.75" width="14.32" height="2.30" fill="#140e28"/>
<rect x="816.22" y="464.90" width="14.32" height="2.30" fill="#140e28"/><rect x="816.22" y="467.15" width="14.32" height="2.30" fill="#140e28"/><rect x="816.22" y="469.41" width="14.32" height="2.30" fill="#1f1330"/><rect x="816.22" y="471.66" width="14.32" height="2.30" fill="#261636"/><rect x="816.22" y="473.92" width="14.32" height="2.30" fill="#140e28"/><rect x="816.22" y="476.17" width="14.32" height="2.30" fill="#140e28"/><rect x="816.22" y="478.43" width="14.32" height="2.30" fill="#2e173a"/><rect x="816.22" y="480.68" width="14.32" height="2.30" fill="#551d4e"/><rect x="816.22" y="482.94" width="14.32" height="2.30" fill="#180f2b"/><rect x="816.22" y="485.19" width="14.32" height="2.30" fill="#140e28"/><rect x="816.22" y="487.45" width="14.32" height="2.30" fill="#180f2b"/><rect x="816.22" y="489.70" width="14.32" height="2.30" fill="#261636"/><rect x="816.22" y="491.96" width="14.32" height="2.30" fill="#140e28"/><rect x="816.22" y="494.21" width="14.32" height="2.30" fill="#1f1330"/><rect x="816.22" y="496.47" width="14.32" height="2.30" fill="#391a40"/><rect x="816.22" y="498.72" width="14.32" height="2.30" fill="#2e173a"/><rect x="816.22" y="500.97" width="14.32" height="2.30" fill="#6f1c56"/><rect x="816.22" y="503.23" width="14.32" height="2.30" fill="#4c1d4b"/><rect x="816.22" y="505.48" width="14.32" height="2.30" fill="#261636"/><rect x="816.22" y="507.74" width="14.32" height="2.30" fill="#621c52"/><rect x="816.22" y="509.99" width="14.32" height="2.30" fill="#180f2b"/><rect x="816.22" y="514.50" width="14.32" height="2.30" fill="#140e28"/><rect x="816.22" y="516.76" width="14.32" height="2.30" fill="#261636"/><rect x="816.22" y="519.01" width="14.32" height="2.30" fill="#4c1d4b"/><rect x="816.22" y="521.27" width="14.32" height="2.30" fill="#391a40"/><rect x="816.22" y="523.52" width="14.32" height="2.30" fill="#140e28"/><rect x="816.22" y="528.03" width="14.32" height="2.30" fill="#180f2b"/><rect x="816.22" y="530.29" width="14.32" height="2.30" fill="#f47e58"/><rect x="816.22" y="532.54" width="14.32" height="2.30" fill="#8e1a5a"/><rect x="816.22" y="534.79" width="14.32" height="2.30" fill="#9a1a5b"/><rect x="816.22" y="537.05" width="14.32" height="2.30" fill="#781c59"/><rect x="816.22" y="539.30" width="14.32" height="2.30" fill="#811b59"/><rect x="816.22" y="541.56" width="14.32" height="2.30" fill="#8e1a5a"/><rect x="816.22" y="543.81" width="14.32" height="2.30" fill="#9a1a5b"/><rect x="816.22" y="546.07" width="14.32" height="2.30" fill="#921a5a"/><rect x="816.22" y="548.32" width="14.32" height="2.30" fill="#a3195b"/><rect x="816.22" y="550.58" width="14.32" height="2.30" fill="#9a1a5b"/><rect x="816.22" y="552.83" width="14.32" height="2.30" fill="#ab1959"/><rect x="816.22" y="555.09" width="14.32" height="2.30" fill="#a3195b"/><rect x="816.22" y="557.34" width="14.32" height="2.30" fill="#b71a55"/><rect x="816.22" y="559.60" width="14.32" height="2.30" fill="#ab1959"/><rect x="816.22" y="561.85" width="14.32" height="2.30" fill="#b31a56"/><rect x="816.22" y="564.11" width="14.32" height="2.30" fill="#b71a55"/><rect x="816.22" y="566.36" width="14.32" height="2.30" fill="#bb1a54"/><rect x="816.22" y="568.61" width="14.32" height="2.30" fill="#b31a56"/><rect x="816.22" y="570.87" width="14.32" height="2.30" fill="#b71a55"/><rect x="816.22" y="573.12" width="14.32" height="2.30" fill="#af1a57"/><rect x="816.22" y="575.38" width="14.32" height="2.30" fill="#b31a56"/><rect x="816.22" y="577.63" width="14.32" height="2.30" fill="#a3195b"/><rect x="816.22" y="579.89" width="14.32" height="2.30" fill="#9a1a5b"/><rect x="816.22" y="582.14" width="14.32" height="2.30" fill="#8e1a5a"/><rect x="816.22" y="584.40" width="14.32" height="2.30" fill="#781c59"/><rect x="816.22" y="586.65" width="14.32" height="2.30" fill="#140e28"/><rect x="816.22" y="588.91" width="14.32" height="2.30" fill="#8e1a5a"/><rect x="816.22" y="591.16" width="14.32" height="2.30" fill="#a3195b"/><rect x="816.22" y="593.42" width="14.32" height="2.30" fill="#9a1a5b"/><rect x="816.22" y="595.67" width="14.32" height="2.30" fill="#ab1959"/><rect x="816.22" y="597.93" width="14.32" height="2.30" fill="#a3195b"/><rect x="816.22" y="600.18" width="14.32" height="2.30" fill="#b71a55"/><rect x="816.22" y="602.43" width="14.32" height="2.30" fill="#c31b51"/><rect x="816.22" y="604.69" width="14.32" height="2.30" fill="#b71a55"/><rect x="816.22" y="606.94" width="14.32" height="2.30" fill="#bb1a54"/><rect x="816.22" y="609.20" width="14.32" height="2.30" fill="#b31a56"/><rect x="816.22" y="611.45" width="14.32" height="2.30" fill="#ab1959"/><rect x="816.22" y="613.71" width="14.32" height="2.30" fill="#a3195b"/><rect x="816.22" y="615.96" width="14.32" height="2.30" fill="#9a1a5b"/><rect x="816.22" y="618.22" width="14.32" height="2.30" fill="#ab1959"/><rect x="816.22" y="620.47" width="14.32" height="2.30" fill="#781c59"/><rect x="816.22" y="622.73" width="14.32" height="2.30" fill="#261636"/><rect x="816.22" y="624.98" width="14.32" height="2.30" fill="#391a40"/><rect x="816.22" y="627.24" width="14.32" height="2.30" fill="#8e1a5a"/><rect x="816.22" y="629.49" width="14.32" height="2.30" fill="#f6b38c"/><rect x="816.22" y="631.75" width="14.32" height="2.30" fill="#f9e0cc"/>
<rect x="830.49" y="480.68" width="14.32" height="2.30" fill="#140e28"/><rect x="830.49" y="489.70" width="14.32" height="2.30" fill="#140e28"/><rect x="830.49" y="496.47" width="14.32" height="2.30" fill="#4c1d4b"/><rect x="830.49" y="498.72" width="14.32" height="2.30" fill="#261636"/><rect x="830.49" y="500.97" width="14.32" height="2.30" fill="#140e28"/><rect x="830.49" y="503.23" width="14.32" height="2.30" fill="#180f2b"/><rect x="830.49" y="505.48" width="14.32" height="2.30" fill="#140e28"/><rect x="830.49" y="507.74" width="14.32" height="2.30" fill="#391a40"/><rect x="830.49" y="509.99" width="14.32" height="2.30" fill="#2e173a"/><rect x="830.49" y="514.50" width="14.32" height="2.30" fill="#391a40"/><rect x="830.49" y="516.76" width="14.32" height="2.30" fill="#3d1a43"/><rect x="830.49" y="519.01" width="14.32" height="2.30" fill="#1f1330"/><rect x="830.49" y="521.27" width="14.32" height="2.30" fill="#441c47"/><rect x="830.49" y="523.52" width="14.32" height="2.30" fill="#140e28"/><rect x="830.49" y="624.98" width="14.32" height="2.30" fill="#2e173a"/><rect x="830.49" y="627.24" width="14.32" height="2.30" fill="#140e28"/>
<rect x="844.76" y="464.90" width="14.32" height="2.30" fill="#391a40"/><rect x="844.76" y="467.15" width="14.32" height="2.30" fill="#441c47"/><rect x="844.76" y="469.41" width="14.32" height="2.30" fill="#2e173a"/><rect x="844.76" y="471.66" width="14.32" height="2.30" fill="#140e28"/><rect x="844.76" y="473.92" width="14.32" height="2.30" fill="#140e28"/><rect x="844.76" y="476.17" width="14.32" height="2.30" fill="#140e28"/><rect x="844.76" y="478.43" width="14.32" height="2.30" fill="#9a1a5b"/><rect x="844.76" y="480.68" width="14.32" height="2.30" fill="#391a40"/><rect x="844.76" y="482.94" width="14.32" height="2.30" fill="#2e173a"/><rect x="844.76" y="485.19" width="14.32" height="2.30" fill="#35193e"/><rect x="844.76" y="487.45" width="14.32" height="2.30" fill="#261636"/><rect x="844.76" y="489.70" width="14.32" height="2.30" fill="#140e28"/><rect x="844.76" y="491.96" width="14.32" height="2.30" fill="#4c1d4b"/><rect x="844.76" y="494.21" width="14.32" height="2.30" fill="#441c47"/><rect x="844.76" y="496.47" width="14.32" height="2.30" fill="#3d1a43"/><rect x="844.76" y="498.72" width="14.32" height="2.30" fill="#261636"/><rect x="844.76" y="500.97" width="14.32" height="2.30" fill="#1f1330"/><rect x="844.76" y="503.23" width="14.32" height="2.30" fill="#2e173a"/><rect x="844.76" y="505.48" width="14.32" height="2.30" fill="#261636"/><rect x="844.76" y="507.74" width="14.32" height="2.30" fill="#180f2b"/><rect x="844.76" y="509.99" width="14.32" height="2.30" fill="#1f1330"/><rect x="844.76" y="512.25" width="14.32" height="2.30" fill="#261636"/><rect x="844.76" y="514.50" width="14.32" height="2.30" fill="#2e173a"/><rect x="844.76" y="516.76" width="14.32" height="2.30" fill="#261636"/><rect x="844.76" y="519.01" width="14.32" height="2.30" fill="#1f1330"/><rect x="844.76" y="521.27" width="14.32" height="2.30" fill="#261636"/><rect x="844.76" y="523.52" width="14.32" height="2.30" fill="#180f2b"/><rect x="844.76" y="525.78" width="14.32" height="2.30" fill="#261636"/><rect x="844.76" y="528.03" width="14.32" height="2.30" fill="#391a40"/><rect x="844.76" y="530.29" width="14.32" height="2.30" fill="#2e173a"/><rect x="844.76" y="532.54" width="14.32" height="2.30" fill="#391a40"/><rect x="844.76" y="534.79" width="14.32" height="2.30" fill="#4c1d4b"/><rect x="844.76" y="537.05" width="14.32" height="2.30" fill="#d72948"/><rect x="844.76" y="539.30" width="14.32" height="2.30" fill="#dd3045"/><rect x="844.76" y="541.56" width="14.32" height="2.30" fill="#d72948"/><rect x="844.76" y="543.81" width="14.32" height="2.30" fill="#d1224c"/><rect x="844.76" y="546.07" width="14.32" height="2.30" fill="#d72948"/><rect x="844.76" y="548.32" width="14.32" height="2.30" fill="#dd3045"/><rect x="844.76" y="550.58" width="14.32" height="2.30" fill="#d72948"/><rect x="844.76" y="552.83" width="14.32" height="2.30" fill="#dd3045"/><rect x="844.76" y="555.09" width="14.32" height="2.30" fill="#e33741"/><rect x="844.76" y="557.34" width="14.32" height="2.30" fill="#dd3045"/><rect x="844.76" y="559.60" width="14.32" height="2.30" fill="#d72948"/><rect x="844.76" y="561.85" width="14.32" height="2.30" fill="#d1224c"/><rect x="844.76" y="564.11" width="14.32" height="2.30" fill="#cb1b4f"/><rect x="844.76" y="566.36" width="14.32" height="2.30" fill="#c71b50"/><rect x="844.76" y="568.61" width="14.32" height="2.30" fill="#d1224c"/><rect x="844.76" y="570.87" width="14.32" height="2.30" fill="#c71b50"/><rect x="844.76" y="573.12" width="14.32" height="2.30" fill="#cb1b4f"/><rect x="844.76" y="575.38" width="14.32" height="2.30" fill="#c71b50"/><rect x="844.76" y="577.63" width="14.32" height="2.30" fill="#c31b51"/><rect x="844.76" y="579.89" width="14.32" height="2.30" fill="#c71b50"/><rect x="844.76" y="582.14" width="14.32" height="2.30" fill="#cb1b4f"/><rect x="844.76" y="584.40" width="14.32" height="2.30" fill="#d72948"/><rect x="844.76" y="586.65" width="14.32" height="2.30" fill="#ed5446"/><rect x="844.76" y="588.91" width="14.32" height="2.30" fill="#f7c09c"/><rect x="844.76" y="591.16" width="14.32" height="2.30" fill="#dd3045"/><rect x="844.76" y="593.42" width="14.32" height="2.30" fill="#d72948"/><rect x="844.76" y="595.67" width="14.32" height="2.30" fill="#d1224c"/><rect x="844.76" y="597.93" width="14.32" height="2.30" fill="#dd3045"/><rect x="844.76" y="600.18" width="14.32" height="2.30" fill="#d72948"/><rect x="844.76" y="602.43" width="14.32" height="2.30" fill="#e33741"/><rect x="844.76" y="604.69" width="14.32" height="2.30" fill="#eb4942"/><rect x="844.76" y="606.94" width="14.32" height="2.30" fill="#dd3045"/><rect x="844.76" y="609.20" width="14.32" height="2.30" fill="#e63a40"/><rect x="844.76" y="611.45" width="14.32" height="2.30" fill="#dd3045"/><rect x="844.76" y="613.71" width="14.32" height="2.30" fill="#d72948"/><rect x="844.76" y="615.96" width="14.32" height="2.30" fill="#dd3045"/><rect x="844.76" y="618.22" width="14.32" height="2.30" fill="#e33741"/><rect x="844.76" y="620.47" width="14.32" height="2.30" fill="#d72948"/><rect x="844.76" y="622.73" width="14.32" height="2.30" fill="#dd3045"/><rect x="844.76" y="624.98" width="14.32" height="2.30" fill="#ed5446"/><rect x="844.76" y="627.24" width="14.32" height="2.30" fill="#f69f73"/><rect x="844.76" y="629.49" width="14.32" height="2.30" fill="#f47e58"/><rect x="844.76" y="631.75" width="14.32" height="2.30" fill="#2e173a"/>
<rect x="859.03" y="464.90" width="14.32" height="2.30" fill="#e93e3e"/><rect x="859.03" y="467.15" width="14.32" height="2.30" fill="#f37651"/><rect x="859.03" y="469.41" width="14.32" height="2.30" fill="#da2d46"/><rect x="859.03" y="471.66" width="14.32" height="2.30" fill="#8e1a5a"/><rect x="859.03" y="473.92" width="14.32" height="2.30" fill="#b71a55"/><rect x="859.03" y="476.17" width="14.32" height="2.30" fill="#f6b38c"/><rect x="859.03" y="482.94" width="14.32" height="2.30" fill="#781c59"/><rect x="859.03" y="485.19" width="14.32" height="2.30" fill="#8e1a5a"/><rect x="859.03" y="487.45" width="14.32" height="2.30" fill="#cb1b4f"/><rect x="859.03" y="489.70" width="14.32" height="2.30" fill="#f47e58"/><rect x="859.03" y="491.96" width="14.32" height="2.30" fill="#b71a55"/><rect x="859.03" y="494.21" width="14.32" height="2.30" fill="#e93e3e"/><rect x="859.03" y="496.47" width="14.32" height="2.30" fill="#cb1b4f"/><rect x="859.03" y="498.72" width="14.32" height="2.30" fill="#da2d46"/><rect x="859.03" y="500.97" width="14.32" height="2.30" fill="#d1224c"/><rect x="859.03" y="503.23" width="14.32" height="2.30" fill="#b71a55"/><rect x="859.03" y="505.48" width="14.32" height="2.30" fill="#a3195b"/><rect x="859.03" y="507.74" width="14.32" height="2.30" fill="#b71a55"/><rect x="859.03" y="509.99" width="14.32" height="2.30" fill="#cb1b4f"/><rect x="859.03" y="512.25" width="14.32" height="2.30" fill="#f47e58"/><rect x="859.03" y="514.50" width="14.32" height="2.30" fill="#e93e3e"/><rect x="859.03" y="516.76" width="14.32" height="2.30" fill="#b71a55"/><rect x="859.03" y="519.01" width="14.32" height="2.30" fill="#a3195b"/><rect x="859.03" y="521.27" width="14.32" height="2.30" fill="#ab1959"/><rect x="859.03" y="523.52" width="14.32" height="2.30" fill="#b71a55"/><rect x="859.03" y="525.78" width="14.32" height="2.30" fill="#da2d46"/><rect x="859.03" y="528.03" width="14.32" height="2.30" fill="#f48a62"/><rect x="859.03" y="530.29" width="14.32" height="2.30" fill="#e93e3e"/><rect x="859.03" y="532.54" width="14.32" height="2.30" fill="#781c59"/><rect x="859.03" y="534.79" width="14.32" height="2.30" fill="#261636"/><rect x="859.03" y="537.05" width="14.32" height="2.30" fill="#621c52"/><rect x="859.03" y="539.30" width="14.32" height="2.30" fill="#391a40"/><rect x="859.03" y="541.56" width="14.32" height="2.30" fill="#261636"/><rect x="859.03" y="543.81" width="14.32" height="2.30" fill="#2e173a"/><rect x="859.03" y="546.07" width="14.32" height="2.30" fill="#261636"/><rect x="859.03" y="548.32" width="14.32" height="2.30" fill="#4c1d4b"/><rect x="859.03" y="550.58" width="14.32" height="2.30" fill="#2e173a"/><rect x="859.03" y="552.83" width="14.32" height="2.30" fill="#621c52"/><rect x="859.03" y="555.09" width="14.32" height="2.30" fill="#4c1d4b"/><rect x="859.03" y="557.34" width="14.32" height="2.30" fill="#2e173a"/><rect x="859.03" y="559.60" width="14.32" height="2.30" fill="#261636"/><rect x="859.03" y="561.85" width="14.32" height="2.30" fill="#391a40"/><rect x="859.03" y="564.11" width="14.32" height="2.30" fill="#261636"/><rect x="859.03" y="566.36" width="14.32" height="2.30" fill="#1f1330"/><rect x="859.03" y="568.61" width="14.32" height="2.30" fill="#261636"/><rect x="859.03" y="570.87" width="14.32" height="2.30" fill="#1f1330"/><rect x="859.03" y="573.12" width="14.32" height="2.30" fill="#180f2b"/><rect x="859.03" y="575.38" width="14.32" height="2.30" fill="#1f1330"/><rect x="859.03" y="577.63" width="14.32" height="2.30" fill="#180f2b"/><rect x="859.03" y="579.89" width="14.32" height="2.30" fill="#140e28"/><rect x="859.03" y="582.14" width="14.32" height="2.30" fill="#180f2b"/><rect x="859.03" y="584.40" width="14.32" height="2.30" fill="#140e28"/><rect x="859.03" y="586.65" width="14.32" height="2.30" fill="#1f1330"/><rect x="859.03" y="588.91" width="14.32" height="2.30" fill="#180f2b"/><rect x="859.03" y="591.16" width="14.32" height="2.30" fill="#140e28"/><rect x="859.03" y="593.42" width="14.32" height="2.30" fill="#1f1330"/><rect x="859.03" y="595.67" width="14.32" height="2.30" fill="#180f2b"/><rect x="859.03" y="597.93" width="14.32" height="2.30" fill="#140e28"/><rect x="859.03" y="600.18" width="14.32" height="2.30" fill="#180f2b"/><rect x="859.03" y="602.43" width="14.32" height="2.30" fill="#140e28"/><rect x="859.03" y="604.69" width="14.32" height="2.30" fill="#140e28"/><rect x="859.03" y="606.94" width="14.32" height="2.30" fill="#180f2b"/><rect x="859.03" y="609.20" width="14.32" height="2.30" fill="#140e28"/><rect x="859.03" y="613.71" width="14.32" height="2.30" fill="#140e28"/><rect x="859.03" y="615.96" width="14.32" height="2.30" fill="#180f2b"/><rect x="859.03" y="618.22" width="14.32" height="2.30" fill="#140e28"/><rect x="859.03" y="620.47" width="14.32" height="2.30" fill="#1f1330"/><rect x="859.03" y="622.73" width="14.32" height="2.30" fill="#140e28"/><rect x="859.03" y="624.98" width="14.32" height="2.30" fill="#261636"/><rect x="859.03" y="627.24" width="14.32" height="2.30" fill="#180f2b"/><rect x="859.03" y="629.49" width="14.32" height="2.30" fill="#140e28"/>
</g>
<path d="M730.6 465.2C717.1 465.2 708.9 476.5 708.9 492.2V506C708.9 521.7 717.1 533 730.6 533" fill="none" stroke="#0a0a0a" stroke-width="1.25"/>
<path d="M730.6 533C717.1 533 708.9 544.3 708.9 560V606.8C708.9 622.5 717.1 633.8 730.6 633.8" fill="none" stroke="#0a0a0a" stroke-width="1.25"/>
<text x="725.5" y="498.3" font-size="13.4" text-anchor="middle" transform="rotate(-90 725.5 498.3)">Atrium</text>
<text x="725.4" y="583" font-size="13.4" text-anchor="middle" transform="rotate(-90 725.4 583)">Ventricle</text>
<text x="686.6" y="543.3" font-size="13.6" text-anchor="middle" transform="rotate(-90 686.6 543.3)">Direction of sections</text>
<path d="M697.4 493V586" stroke="#0a0a0a" stroke-width="1.15"/><path d="M697.4 591.5l-3.3-7.5 3.3 1.8 3.3-1.8z" fill="#111"/>
<defs><linearGradient id="rocket" x1="0" y1="1" x2="0" y2="0"><stop offset="0" stop-color="#03051a"/><stop offset="0.1" stop-color="#261636"/><stop offset="0.2" stop-color="#4c1d4b"/><stop offset="0.3" stop-color="#781c59"/><stop offset="0.4" stop-color="#a3195b"/><stop offset="0.5" stop-color="#cb1b4f"/><stop offset="0.6" stop-color="#e93e3e"/><stop offset="0.7" stop-color="#f37651"/><stop offset="0.8" stop-color="#f69f73"/><stop offset="0.9" stop-color="#f7c8a6"/><stop offset="1" stop-color="#faebdd"/></linearGradient></defs>
<rect x="679.5" y="624.2" width="6.5" height="116.4" fill="url(#rocket)"/>
<text x="689.3" y="626.3" font-size="9">1.0</text>
<text x="689.3" y="649.9" font-size="9">0.8</text>
<text x="689.3" y="673.4" font-size="9">0.6</text>
<text x="689.3" y="697.2" font-size="9">0.4</text>
<text x="689.3" y="720.6" font-size="9">0.2</text>
<text x="689.3" y="744.9" font-size="9">0</text>
<text x="710.9" y="636" font-size="8.8" transform="rotate(90 710.9 636)" textLength="85.4" lengthAdjust="spacingAndGlyphs">Transcript proportion</text>
<text x="739.3" y="638.4" font-size="13.5" text-anchor="end" style="fill:#c799aa" transform="rotate(-90 739.3 638.4)">T cells</text>
<text x="754" y="638.4" font-size="13.5" text-anchor="end" style="fill:#8b6746" transform="rotate(-90 754 638.4)">Smooth muscle cells</text>
<text x="768.6" y="638.4" font-size="13.5" text-anchor="end" style="fill:#9c3b5c" transform="rotate(-90 768.6 638.4)">Macrophages</text>
<text x="783.3" y="638.4" font-size="13.5" text-anchor="end" style="fill:#b9a530" transform="rotate(-90 783.3 638.4)">Fibroblasts</text>
<text x="798" y="638.4" font-size="13.5" text-anchor="end" style="fill:#7e8450" transform="rotate(-90 798 638.4)">Epicardium (ventricle)</text>
<text x="812.6" y="638.4" font-size="13.5" text-anchor="end" style="fill:#cbc08e" transform="rotate(-90 812.6 638.4)">Epicardium (atrium)</text>
<text x="827.3" y="638.4" font-size="13.5" text-anchor="end" style="fill:#2a5690" transform="rotate(-90 827.3 638.4)">Endocardium (ventricle)</text>
<text x="842" y="638.4" font-size="13.5" text-anchor="end" style="fill:#9db3df" transform="rotate(-90 842 638.4)">Endocardium (atrium)</text>
<text x="856.7" y="638.4" font-size="13.5" text-anchor="end" style="fill:#33473b" transform="rotate(-90 856.7 638.4)">CMs (ventricle)</text>
<text x="871.3" y="638.4" font-size="13.5" text-anchor="end" style="fill:#5f7e5b" transform="rotate(-90 871.3 638.4)">CMs (atrium)</text>

<!-- 80_d.svg -->
<text x="896.5" y="236" font-size="16.5" class="b" style="fill:#000" textLength="8.8" lengthAdjust="spacingAndGlyphs">d</text>
<text x="1005.3" y="272.1" font-size="13.4" text-anchor="middle">Epicardium</text>
<rect x="943.4" y="275.8" width="128.1" height="121.2" fill="#fff" stroke="#b8b8b8" stroke-width="0.8"/>
<path d="M943.4 392.2H1071.5M943.4 378.2H1071.5M943.4 364.3H1071.5M943.4 350.4H1071.5M943.4 336.4H1071.5M943.4 322.5H1071.5M943.4 308.5H1071.5M943.4 294.6H1071.5M943.4 280.6H1071.5M955.7 275.8V397M976 275.8V397M996.3 275.8V397M1016.7 275.8V397M1037 275.8V397M1057.3 275.8V397" stroke="#ececec" stroke-width="0.5" fill="none"/>
<rect x="946.6" y="280.6" width="18.2" height="111.6" fill="#c9bd85"/><rect x="966.9" y="280.6" width="18.2" height="111.6" fill="#7c8153"/><rect x="987.2" y="367.6" width="18.2" height="24.6" fill="#7c8153"/><rect x="987.2" y="280.6" width="18.2" height="87" fill="#c9bd85"/><rect x="1007.6" y="280.6" width="18.2" height="111.6" fill="#7c8153"/><rect x="1027.9" y="383.3" width="18.2" height="8.9" fill="#7c8153"/><rect x="1027.9" y="280.6" width="18.2" height="102.7" fill="#c9bd85"/><rect x="1048.2" y="282.3" width="18.2" height="109.9" fill="#7c8153"/><rect x="1048.2" y="280.6" width="18.2" height="1.7" fill="#c9bd85"/>
<text x="935.5" y="395.5" font-size="8.7" text-anchor="end" style="fill:#262626">0</text>
<text x="935.5" y="367.6" font-size="8.7" text-anchor="end" style="fill:#262626">0.25</text>
<text x="935.5" y="339.7" font-size="8.7" text-anchor="end" style="fill:#262626">0.50</text>
<text x="935.5" y="311.8" font-size="8.7" text-anchor="end" style="fill:#262626">0.75</text>
<text x="935.5" y="283.9" font-size="8.7" text-anchor="end" style="fill:#262626">1.00</text>
<path d="M940.6 392.2H943.4M940.6 364.3H943.4M940.6 336.4H943.4M940.6 308.5H943.4M940.6 280.6H943.4" stroke="#555" stroke-width="0.7" fill="none"/>
<text x="1005.3" y="415" font-size="13.4" text-anchor="middle">Endocardium</text>
<rect x="943.4" y="417.5" width="126.3" height="121.9" fill="#fff" stroke="#b8b8b8" stroke-width="0.8"/>
<path d="M943.4 533.8H1069.7M943.4 520H1069.7M943.4 506.2H1069.7M943.4 492.4H1069.7M943.4 478.6H1069.7M943.4 464.8H1069.7M943.4 451H1069.7M943.4 437.2H1069.7M943.4 423.4H1069.7M955.7 417.5V539.4M976 417.5V539.4M996.3 417.5V539.4M1016.7 417.5V539.4M1037 417.5V539.4M1057.3 417.5V539.4" stroke="#ececec" stroke-width="0.5" fill="none"/>
<rect x="946.6" y="531" width="18.2" height="2.8" fill="#2a5a8e"/><rect x="946.6" y="423.4" width="18.2" height="107.6" fill="#95aad9"/><rect x="966.9" y="425.1" width="18.2" height="108.7" fill="#2a5a8e"/><rect x="966.9" y="423.4" width="18.2" height="1.7" fill="#95aad9"/><rect x="987.2" y="517.2" width="18.2" height="16.6" fill="#2a5a8e"/><rect x="987.2" y="423.4" width="18.2" height="93.8" fill="#95aad9"/><rect x="1007.6" y="427.8" width="18.2" height="106" fill="#2a5a8e"/><rect x="1007.6" y="423.4" width="18.2" height="4.4" fill="#95aad9"/><rect x="1027.9" y="506.8" width="18.2" height="27" fill="#2a5a8e"/><rect x="1027.9" y="423.4" width="18.2" height="83.4" fill="#95aad9"/><rect x="1048.2" y="426.7" width="18.2" height="107.1" fill="#2a5a8e"/><rect x="1048.2" y="423.4" width="18.2" height="3.3" fill="#95aad9"/>
<text x="935.5" y="537.1" font-size="8.7" text-anchor="end" style="fill:#262626">0</text>
<text x="935.5" y="509.5" font-size="8.7" text-anchor="end" style="fill:#262626">0.25</text>
<text x="935.5" y="481.9" font-size="8.7" text-anchor="end" style="fill:#262626">0.50</text>
<text x="935.5" y="454.3" font-size="8.7" text-anchor="end" style="fill:#262626">0.75</text>
<text x="935.5" y="426.7" font-size="8.7" text-anchor="end" style="fill:#262626">1.00</text>
<path d="M940.6 533.8H943.4M940.6 506.2H943.4M940.6 478.6H943.4M940.6 451H943.4M940.6 423.4H943.4M955.7 539.4V542M976 539.4V542M996.3 539.4V542M1016.7 539.4V542M1037 539.4V542M1057.3 539.4V542" stroke="#555" stroke-width="0.7" fill="none"/>
<text x="1005" y="560.7" font-size="13.4" text-anchor="middle">CMs</text>
<rect x="944.6" y="562.5" width="126.9" height="125.5" fill="#fff" stroke="#b8b8b8" stroke-width="0.8"/>
<path d="M944.6 682.5H1071.5M944.6 668.4H1071.5M944.6 654.4H1071.5M944.6 640.3H1071.5M944.6 626.2H1071.5M944.6 612.1H1071.5M944.6 598H1071.5M944.6 584H1071.5M944.6 569.9H1071.5M956.8 562.5V688M977.1 562.5V688M997.4 562.5V688M1017.8 562.5V688M1038.1 562.5V688M1058.4 562.5V688" stroke="#ececec" stroke-width="0.5" fill="none"/>
<rect x="947.7" y="607.6" width="18.2" height="74.9" fill="#5e7c5c"/><rect x="947.7" y="568.3" width="18.2" height="39.3" fill="#7c9a3a"/><rect x="968" y="570.4" width="18.2" height="112.1" fill="#40574a"/><rect x="968" y="568.3" width="18.2" height="2" fill="#8fb06a"/><rect x="988.3" y="607.1" width="18.2" height="75.4" fill="#5e7c5c"/><rect x="988.3" y="568.3" width="18.2" height="38.7" fill="#7c9a3a"/><rect x="1008.7" y="575.9" width="18.2" height="106.6" fill="#40574a"/><rect x="1008.7" y="572.5" width="18.2" height="3.4" fill="#a6cc9f"/><rect x="1008.7" y="568.3" width="18.2" height="4.2" fill="#7c9a3a"/><rect x="1029" y="577" width="18.2" height="105.5" fill="#5e7c5c"/><rect x="1029" y="568.3" width="18.2" height="8.7" fill="#7c9a3a"/><rect x="1049.3" y="570.8" width="18.2" height="111.7" fill="#40574a"/><rect x="1049.3" y="568.3" width="18.2" height="2.5" fill="#8fb06a"/>
<text x="936.7" y="685.8" font-size="8.7" text-anchor="end" style="fill:#262626">0</text>
<text x="936.7" y="657.6" font-size="8.7" text-anchor="end" style="fill:#262626">0.25</text>
<text x="936.7" y="629.5" font-size="8.7" text-anchor="end" style="fill:#262626">0.50</text>
<text x="936.7" y="601.3" font-size="8.7" text-anchor="end" style="fill:#262626">0.75</text>
<text x="936.7" y="573.2" font-size="8.7" text-anchor="end" style="fill:#262626">1.00</text>
<path d="M941.8 682.5H944.6M941.8 654.4H944.6M941.8 626.2H944.6M941.8 598H944.6M941.8 569.9H944.6M956.8 688V690.6M977.1 688V690.6M997.4 688V690.6M1017.8 688V690.6M1038.1 688V690.6M1058.4 688V690.6" stroke="#555" stroke-width="0.7" fill="none"/>
<text x="960.1" y="696" font-size="13.4" text-anchor="end" transform="rotate(-90 960.1 696)">Atrium 1</text>
<text x="981.2" y="696" font-size="13.4" text-anchor="end" transform="rotate(-90 981.2 696)">Ventricle 1</text>
<text x="1000.7" y="696" font-size="13.4" text-anchor="end" transform="rotate(-90 1000.7 696)">Atrium 2</text>
<text x="1019.3" y="696" font-size="13.4" text-anchor="end" transform="rotate(-90 1019.3 696)">Ventricle 2</text>
<text x="1039.8" y="696" font-size="13.4" text-anchor="end" transform="rotate(-90 1039.8 696)">Atrium 3</text>
<text x="1061.6" y="696" font-size="13.4" text-anchor="end" transform="rotate(-90 1061.6 696)">Ventricle 3</text>
<text x="904.3" y="488.8" font-size="13.4" text-anchor="middle" transform="rotate(-90 904.3 488.8)">Cell type ratio</text>
<path d="M900.4 282.5V435M900.4 542V675" stroke="#111" stroke-width="1" fill="none"/>

<!-- 90_legend.svg -->
<rect x="13" y="757.2" width="36.5" height="18.4" rx="4.2" ry="4.2" fill="#b48cc4"/><rect x="13" y="757.2" width="30" height="18.4" rx="4.2" ry="4.2" fill="#bd8599"/><rect x="13" y="757.2" width="23.3" height="18.4" rx="4.2" ry="4.2" fill="#9e3c5e"/>
<text x="55.6" y="772.3" font-size="13.3">Immune cells</text>
<rect x="13" y="777.4" width="36.5" height="18.8" rx="4.2" ry="4.2" fill="#5c6a8c"/><rect x="13" y="777.4" width="30" height="18.8" rx="4.2" ry="4.2" fill="#2f609c"/><rect x="13" y="777.4" width="23.3" height="18.8" rx="4.2" ry="4.2" fill="#4175b3"/>
<text x="55.6" y="792.8" font-size="13.3">Endocardium</text>
<rect x="142.6" y="757.4" width="36.5" height="18" rx="4.2" ry="4.2" fill="#c9bd85"/><rect x="142.6" y="757.4" width="27.2" height="18" rx="4.2" ry="4.2" fill="#7e8354"/>
<text x="185.2" y="772.3" font-size="13.3">Epicardium</text>
<rect x="142.6" y="777.6" width="36.3" height="18.6" rx="4.2" ry="4.2" fill="#b8a431"/>
<text x="185.2" y="792.8" font-size="13.3">Fibroblasts</text>
<rect x="257.4" y="759.5" width="37.8" height="18.8" rx="4.2" ry="4.2" fill="#a9cc94"/><rect x="257.4" y="759.5" width="33.6" height="18.8" rx="4.2" ry="4.2" fill="#7c9a3a"/><rect x="257.4" y="759.5" width="28.6" height="18.8" rx="4.2" ry="4.2" fill="#5e7c5c"/><rect x="257.4" y="759.5" width="22.9" height="18.8" rx="4.2" ry="4.2" fill="#40574a"/>
<text x="299.3" y="775" font-size="13.3">CMs</text>
<rect x="257.4" y="780.3" width="37.8" height="18.8" rx="4.2" ry="4.2" fill="#e38c2a"/>
<text x="299.3" y="795" font-size="13.45">Valve fibroblasts</text>
<rect x="406.9" y="762.3" width="36.6" height="18.5" rx="4.2" ry="4.2" fill="#c28b34"/><rect x="406.9" y="762.3" width="30.1" height="18.5" rx="4.2" ry="4.2" fill="#c07a3c"/><rect x="406.9" y="762.3" width="23.1" height="18.5" rx="4.2" ry="4.2" fill="#c96a48"/>
<text x="450" y="776.7" font-size="13.45">Endothelial cells</text>
<rect x="406.9" y="781.6" width="36.6" height="19.2" rx="4.2" ry="4.2" fill="#8b6a4b"/>
<text x="450" y="796.7" font-size="13.45">Smooth muscle</text>
<rect x="553" y="763" width="37" height="19.2" rx="4.2" ry="4.2" fill="#555a70"/>
<text x="596.4" y="776.8" font-size="13.45">Perivascular cells</text>
<rect x="553" y="784" width="37" height="19" rx="4.2" ry="4.2" fill="#dbd5c3"/>
<text x="596.4" y="796.7" font-size="13.45">Neuron/myelin cells</text>

</svg>
</body></html>
